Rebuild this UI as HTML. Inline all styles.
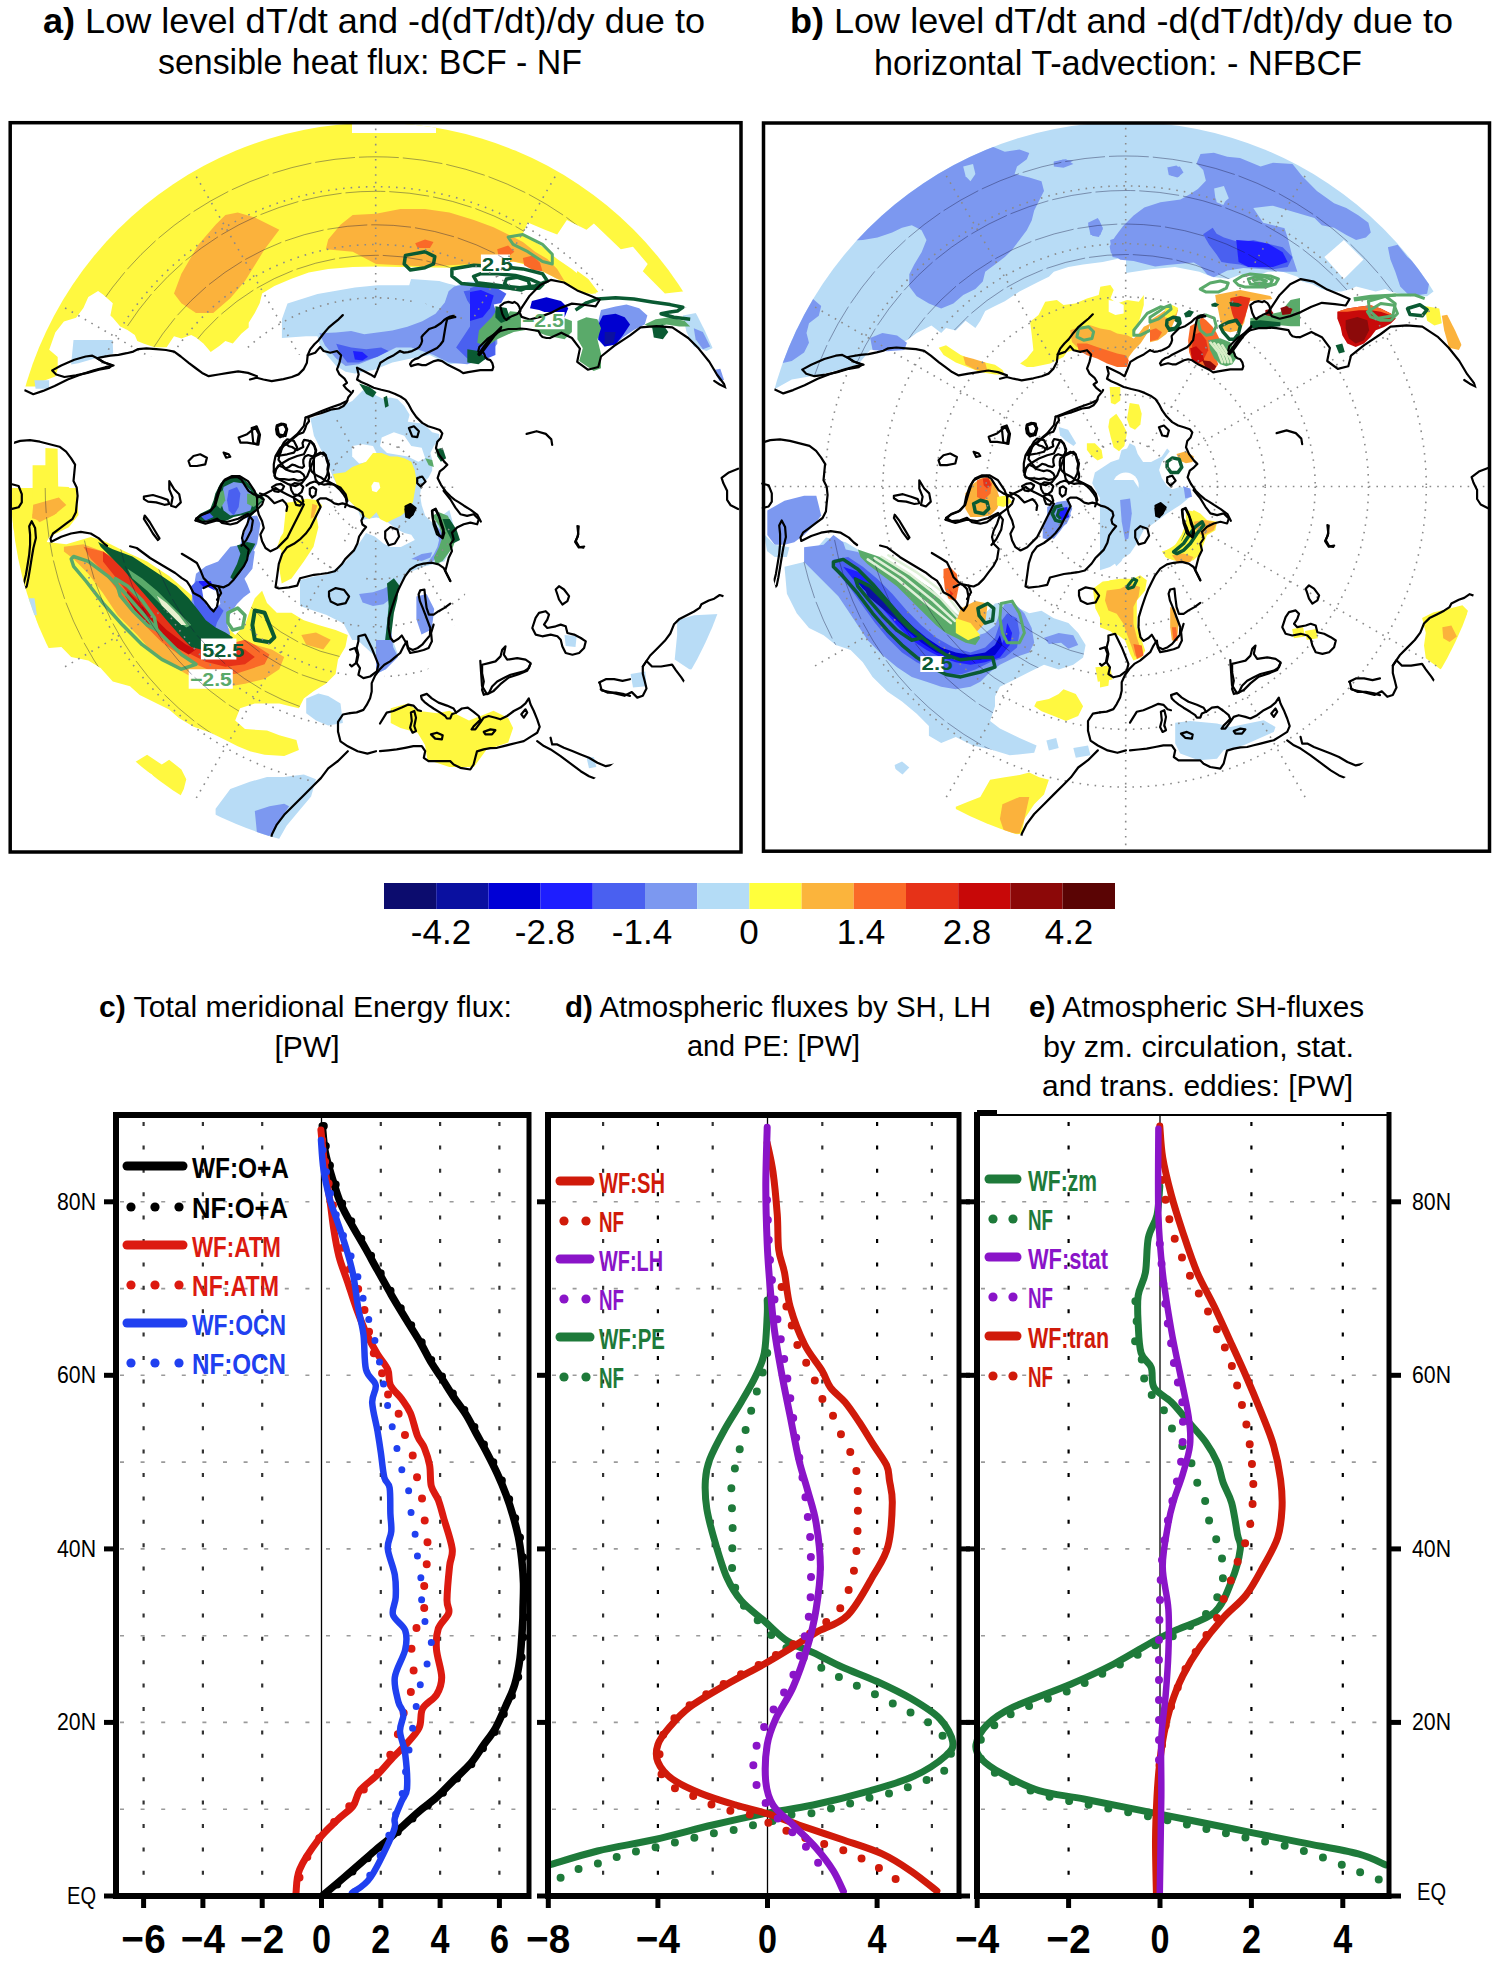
<!DOCTYPE html>
<html><head><meta charset="utf-8">
<style>
html,body{margin:0;padding:0;background:#fff;}
svg{display:block;}
text{font-family:"Liberation Sans",sans-serif;}
</style></head>
<body>
<svg width="1495" height="1966" viewBox="0 0 1495 1966">
<rect width="1495" height="1966" fill="#fff"/>
<!-- ===== MAP TITLES ===== -->
<g font-size="35" fill="#000">
<text x="43" y="33" textLength="662" lengthAdjust="spacingAndGlyphs"><tspan font-weight="bold">a)</tspan> Low level dT/dt and -d(dT/dt)/dy due to</text>
<text x="158" y="74" textLength="424" lengthAdjust="spacingAndGlyphs">sensible heat flux: BCF - NF</text>
<text x="790" y="33" textLength="663" lengthAdjust="spacingAndGlyphs"><tspan font-weight="bold">b)</tspan> Low level dT/dt and -d(dT/dt)/dy due to</text>
<text x="874" y="75" textLength="488" lengthAdjust="spacingAndGlyphs">horizontal T-advection: - NFBCF</text>
</g>
<g id="mapa">
<clipPath id="ca"><circle cx="375.7" cy="487.3" r="364.5280443919749"/></clipPath>
<g clip-path="url(#ca)">
<path d="M686.9,290.9 L664.9,293.4 L642.8,271.3 L647.7,264.0 L633.0,246.8 L620.8,249.3 L593.9,223.6 L586.5,229.7 L566.9,219.9 L557.2,234.6 L544.9,229.7 L527.8,222.4 L522.9,233.4 L527.8,237.1 L542.5,246.8 L557.2,259.1 L571.8,268.9 L586.5,281.1 L596.3,293.4 L584.1,293.4 L569.4,286.0 L552.3,276.2 L532.7,266.4 L513.1,261.5 L478.8,266.4 L449.4,267.7 L400.5,266.9 L376.0,266.4 L376.0,266.4 L352.7,266.9 L328.2,268.9 L308.7,272.6 L291.5,278.7 L274.4,286.0 L262.1,293.4 L259.7,303.2 L254.8,312.9 L248.7,322.7 L248.7,327.6 L241.3,333.8 L232.8,343.5 L225.4,341.1 L219.3,346.0 L210.7,352.1 L203.4,343.5 L196.0,337.4 L191.2,335.0 L181.4,338.6 L174.0,336.2 L169.1,343.5 L166.7,347.2 L154.4,347.2 L143.4,343.5 L137.3,341.1 L134.8,335.0 L127.5,330.1 L120.2,326.4 L112.8,317.8 L110.4,315.4 L112.8,303.2 L103.0,294.6 L98.1,290.9 L88.3,297.0 L83.4,308.0 L76.1,317.8 L63.9,321.5 L55.3,332.5 L49.2,349.7 L57.7,357.0 L57.7,369.2 L55.3,376.6 L41.8,381.5 L36.9,386.4 L24.7,386.4 L22.5,385.7 L26.3,373.3 L30.5,361.0 L35.2,348.9 L40.3,337.0 L45.9,325.2 L51.8,313.6 L58.1,302.3 L64.9,291.2 L72.0,280.3 L79.5,269.7 L87.4,259.4 L95.6,249.3 L104.2,239.6 L113.1,230.1 L122.4,221.0 L132.0,212.2 L141.9,203.8 L152.0,195.7 L162.5,187.9 L173.2,180.6 L184.2,173.6 L195.4,167.1 L206.8,160.9 L218.5,155.1 L230.3,149.8 L242.3,144.8 L254.5,140.3 L266.9,136.3 L279.3,132.6 L291.9,129.4 L304.6,126.7 L317.4,124.4 L330.3,122.6 L343.2,121.2 L356.2,120.3 L369.2,119.8 L382.2,119.8 L395.2,120.3 L408.1,121.2 L421.1,122.6 L433.9,124.4 L446.7,126.7 L459.4,129.4 L472.0,132.6 L484.5,136.2 L496.8,140.3 L509.0,144.8 L521.1,149.7 L532.9,155.1 L544.6,160.9 L556.0,167.0 L567.2,173.6 L578.2,180.6 L588.9,187.9 L599.3,195.7 L609.5,203.7 L619.4,212.2 L629.0,221.0 L638.2,230.1 L647.2,239.5 L655.8,249.3 L664.0,259.3 L671.9,269.7 L679.4,280.3 L686.5,291.2Z" fill="#fff840" />
<path d="M352.0,118.0 L436.0,118.0 L436.0,133.0 L352.0,133.0Z" fill="#fff" />
<path d="M237.7,212.6 L254.8,217.5 L279.3,229.7 L264.6,249.3 L245.0,281.1 L230.3,298.3 L213.2,312.9 L196.0,312.9 L181.4,303.2 L174.0,293.4 L181.4,273.8 L198.5,244.4 L215.6,224.8 L225.4,215.0Z" fill="#fbb23c" />
<path d="M352.7,215.0 L376.0,213.8 L400.5,208.9 L425.0,208.9 L449.4,212.6 L473.9,219.9 L493.5,227.3 L508.2,234.6 L522.9,242.0 L535.1,251.7 L547.4,259.1 L557.2,268.9 L564.5,281.1 L557.2,278.7 L542.5,271.3 L527.8,264.0 L513.1,261.5 L498.4,262.8 L473.9,264.0 L449.4,265.2 L425.0,266.4 L400.5,265.2 L376.0,264.0 L352.7,251.7 L325.8,249.3 L328.2,239.5 L340.5,224.8Z" fill="#fbb23c" />
<path d="M415.2,243.2 L425.0,239.5 L433.5,242.0 L429.9,248.1 L417.6,248.1Z" fill="#fa6a28" />
<path d="M497.2,249.3 L508.2,245.6 L514.3,251.7 L508.2,256.6 L498.4,255.4Z" fill="#fa6a28" />
<path d="M522.9,257.9 L532.7,255.4 L540.0,262.8 L542.5,271.3 L532.7,270.1 L524.1,265.2Z" fill="#fa6a28" />
<path d="M287.5,303.4 L317.5,294.0 L354.9,287.5 L377.4,285.2 L409.2,285.2 L411.1,279.0 L439.2,280.9 L448.6,283.7 L456.1,285.6 L467.3,281.8 L476.7,281.8 L486.0,287.5 L495.4,291.2 L495.4,339.9 L486.0,354.9 L467.3,362.4 L448.6,364.3 L429.8,354.9 L411.1,358.6 L392.4,362.4 L373.7,369.9 L354.9,373.6 L345.6,371.7 L336.2,366.1 L326.8,354.9 L319.3,343.7 L317.5,336.2 L306.2,336.2 L281.9,338.0 L281.9,319.3Z" fill="#b8dcf6" />
<path d="M319.3,333.3 L336.2,332.4 L351.2,330.9 L364.3,334.3 L377.4,332.4 L392.4,330.5 L407.4,326.8 L422.3,321.2 L435.5,313.7 L444.8,302.4 L448.6,291.2 L454.2,286.5 L467.3,283.7 L478.5,282.8 L489.8,287.5 L497.3,293.1 L497.3,343.7 L486.0,358.6 L467.3,364.3 L448.6,362.4 L433.6,354.9 L422.3,351.1 L411.1,347.4 L396.1,347.4 L377.4,356.8 L358.7,364.3 L345.6,366.1 L336.2,358.6 L325.0,345.5Z" fill="#7c98f0" />
<path d="M336.2,343.7 L351.2,347.4 L366.2,349.3 L381.1,347.4 L388.6,351.1 L377.4,356.8 L358.7,362.4 L347.4,362.4 L339.9,353.0Z" fill="#4a60f0" />
<path d="M463.6,291.2 L476.7,289.3 L486.0,293.1 L495.4,298.7 L495.4,354.9 L482.3,360.5 L467.3,358.6 L456.1,347.4 L463.6,336.2 L471.0,324.9 L474.8,311.8 L467.3,300.6Z" fill="#4a60f0" />
<path d="M478.5,293.1 L489.8,296.8 L495.4,304.3 L495.4,328.7 L486.0,330.5 L482.3,321.2 L480.4,306.2Z" fill="#1e1eff" />
<path d="M353.0,351.1 L362.4,352.1 L368.0,356.8 L362.4,360.5 L354.9,359.6Z" fill="#1e1eff" />
<path d="M577.4,270.9 L588.3,279.1 L598.3,291.9 L591.0,294.0 L582.8,285.5 L575.2,277.7Z" fill="#fff840" />
<path d="M682.9,315.5 L697.4,312.8 L706.5,324.6 L715.6,346.4 L706.5,351.0 L693.8,346.4 L686.5,331.9Z" fill="#b8dcf6" />
<path d="M693.8,328.3 L702.9,331.9 L710.2,346.4 L702.9,349.2 L695.6,339.2Z" fill="#7c98f0" />
<path d="M713.8,370.1 L722.9,368.3 L727.5,379.2 L719.3,381.0Z" fill="#7c98f0" />
<path d="M601.0,310.1 L615.6,306.4 L626.5,304.6 L639.2,308.2 L647.4,315.5 L644.7,324.6 L633.8,330.1 L622.8,337.4 L615.6,344.6 L604.6,346.4 L597.4,339.2 L597.4,324.6Z" fill="#7c98f0" />
<path d="M602.8,315.5 L615.6,313.7 L624.7,317.3 L630.1,324.6 L622.8,335.5 L615.6,344.6 L604.6,346.4 L598.3,339.2 L598.3,324.6Z" fill="#0000d0" />
<path d="M604.6,331.9 L615.6,331.9 L613.7,342.8 L604.6,344.6Z" fill="#0a10a0" />
<path d="M480.9,315.5 L497.3,310.1 L517.3,311.9 L524.6,317.3 L542.8,315.5 L557.3,315.5 L571.9,321.0 L571.9,331.9 L564.6,339.2 L546.4,335.5 L530.0,329.2 L513.7,331.9 L497.3,339.2 L486.4,346.4 L477.3,342.8Z" fill="#5aaa6a" />
<path d="M577.4,321.0 L586.4,317.3 L597.4,319.2 L601.0,328.3 L597.4,339.2 L601.0,353.7 L601.0,368.3 L593.7,371.0 L579.2,361.0 L582.8,348.3 L577.4,339.2Z" fill="#5aaa6a" />
<path d="M644.7,324.6 L655.6,319.2 L670.1,317.3 L684.7,321.0 L690.2,326.4 L679.2,326.4 L666.5,324.6 L652.0,328.3Z" fill="#5aaa6a" />
<path d="M470.0,288.2 L480.9,284.6 L497.3,288.2 L506.4,293.7 L499.1,306.4 L491.8,317.3 L484.6,324.6 L477.3,331.9 L470.0,335.5Z" fill="#4a60f0" />
<path d="M470.0,291.9 L480.9,290.0 L493.7,295.5 L490.0,308.2 L482.7,317.3 L470.0,321.0Z" fill="#1e1eff" />
<path d="M531.9,301.0 L546.4,297.3 L561.0,301.0 L568.3,308.2 L564.6,317.3 L553.7,315.5 L539.1,310.1 L530.0,308.2Z" fill="#0000d0" />
<path d="M493.7,304.6 L502.8,302.8 L511.8,308.2 L506.4,317.3 L497.3,315.5Z" fill="#fff" />
<path d="M11.2,488.0 L76.1,488.0 L78.5,514.9 L68.8,527.2 L49.2,537.0 L46.7,541.9 L66.3,544.3 L90.8,537.0 L103.0,540.6 L125.1,551.6 L147.1,561.4 L169.1,576.1 L186.3,590.8 L200.9,603.1 L213.2,615.3 L225.4,625.1 L235.2,634.9 L245.0,625.1 L249.9,610.4 L254.8,598.2 L262.1,590.8 L267.0,603.1 L276.8,612.8 L291.5,612.8 L303.8,620.2 L318.4,625.1 L335.6,630.0 L347.8,634.9 L345.4,647.1 L338.0,659.4 L335.6,674.0 L325.8,683.8 L313.5,691.2 L303.8,698.5 L298.9,708.3 L289.1,705.9 L279.3,703.4 L254.8,703.4 L240.1,708.3 L235.2,720.6 L245.0,729.1 L267.0,730.4 L279.3,735.2 L296.4,740.1 L298.9,749.9 L284.2,756.1 L264.6,754.8 L249.9,751.2 L237.7,746.3 L225.4,740.1 L210.7,732.8 L193.6,726.7 L178.9,718.1 L169.1,709.5 L156.9,703.4 L139.7,694.9 L130.0,686.3 L112.8,681.4 L100.6,667.9 L88.3,660.6 L71.2,656.9 L61.4,647.1 L46.7,648.3 L39.4,632.4 L34.5,615.3 L30.1,603.1 L27.2,604.0 L23.3,591.5 L19.8,578.9 L16.7,566.1 L14.1,553.2 L12.0,540.3 L10.4,527.3 L9.2,514.2 L8.4,501.1 L8.2,488.0Z" fill="#fff840" />
<path d="M32.6,465.2 L45.4,465.2 L45.4,448.1 L57.6,448.7 L58.2,486.5 L68.6,487.1 L74.7,493.8 L76.5,504.8 L74.1,517.0 L47.9,519.5 L46.6,530.5 L10.0,530.5 L10.0,498.7 L32.6,498.7Z" fill="#fff840" />
<path d="M73.5,340.0 L112.6,340.0 L113.2,353.4 L95.5,358.3 L78.4,363.2 L71.1,364.4Z" fill="#b8dcf6" />
<path d="M34.4,380.3 L49.1,380.3 L49.1,388.8 L35.6,388.8Z" fill="#b8dcf6" />
<path d="M33.2,504.8 L58.8,497.5 L62.5,503.6 L56.4,513.4 L40.5,520.7 L32.0,518.3Z" fill="#fbb23c" />
<path d="M134.8,762.2 L147.1,754.8 L161.8,764.6 L169.1,759.7 L181.4,769.5 L186.3,779.3 L183.8,789.1 L178.9,798.9 L161.8,791.5 L152.0,774.4 L137.3,767.1Z" fill="#fff840" />
<path d="M286.6,502.7 L303.8,500.2 L316.0,512.5 L318.4,527.2 L313.5,546.8 L303.8,561.4 L291.5,578.6 L281.7,583.5 L279.3,568.8 L281.7,549.2 L284.2,524.7Z" fill="#fff840" />
<path d="M24.7,598.2 L34.5,598.2 L36.9,615.3 L29.6,615.3Z" fill="#b8dcf6" />
<path d="M306.2,590.8 L318.4,581.0 L335.6,568.8 L352.7,556.5 L376.0,544.3 L376.0,656.9 L362.5,644.7 L352.7,634.9 L347.8,625.1 L333.1,615.3 L318.4,603.1Z" fill="#b8dcf6" />
<path d="M338.0,595.7 L357.6,593.3 L376.0,595.7 L376.0,610.4 L357.6,608.0 L342.9,605.5Z" fill="#7c98f0" />
<path d="M306.2,698.5 L318.4,693.6 L328.2,696.1 L340.5,703.4 L342.9,723.0 L328.2,725.5 L316.0,720.6 L306.2,713.2Z" fill="#b8dcf6" />
<path d="M215.6,808.7 L230.3,789.1 L249.9,781.8 L267.0,776.9 L284.2,776.9 L303.8,774.4 L316.0,779.3 L311.1,796.4 L298.9,811.1 L286.6,825.8 L276.8,843.0 L254.8,840.5 L230.3,830.7 L215.6,818.5Z" fill="#b8dcf6" />
<path d="M254.8,811.1 L269.5,806.2 L284.2,803.8 L289.1,806.2 L279.3,820.9 L271.9,833.2 L264.6,840.5 L257.2,835.6Z" fill="#7c98f0" />
<path d="M63.9,546.8 L83.4,544.3 L103.0,551.6 L117.7,561.4 L137.3,581.0 L156.9,598.2 L176.5,615.3 L193.6,630.0 L205.8,644.7 L230.3,649.6 L254.8,644.7 L271.9,649.6 L284.2,656.9 L279.3,669.2 L264.6,678.9 L245.0,683.8 L230.3,686.3 L218.1,683.8 L200.9,681.4 L186.3,674.0 L169.1,664.3 L152.0,652.0 L137.3,634.9 L117.7,615.3 L103.0,593.3 L88.3,573.7 L73.6,559.0 L63.9,551.6Z" fill="#fbb23c" />
<path d="M83.4,546.8 L103.0,551.6 L122.6,563.9 L142.2,583.5 L161.8,603.1 L181.4,625.1 L200.9,639.8 L225.4,644.7 L245.0,639.8 L254.8,644.7 L269.5,654.5 L264.6,664.3 L249.9,669.2 L235.2,674.0 L218.1,674.0 L196.0,664.3 L178.9,654.5 L161.8,642.2 L147.1,627.5 L132.4,610.4 L117.7,590.8 L103.0,571.2 L90.8,559.0Z" fill="#fa6a28" />
<path d="M103.0,551.6 L122.6,566.3 L147.1,590.8 L171.6,617.7 L191.2,634.9 L210.7,642.2 L230.3,644.7 L245.0,649.6 L254.8,656.9 L245.0,664.3 L225.4,666.7 L205.8,661.8 L186.3,652.0 L166.7,634.9 L147.1,612.8 L130.0,595.7 L112.8,573.7 L103.0,561.4Z" fill="#e63218" />
<path d="M127.5,590.8 L147.1,610.4 L166.7,630.0 L186.3,644.7 L196.0,649.6 L188.7,654.5 L171.6,644.7 L152.0,627.5 L134.8,610.4 L125.1,595.7Z" fill="#c80a0a" />
<path d="M301.3,634.9 L316.0,632.4 L330.7,639.8 L323.3,649.6 L306.2,644.7Z" fill="#fbb23c" />
<path d="M32.0,514.9 L46.7,502.7 L59.0,497.8 L66.3,505.1 L54.1,514.9 L39.4,522.3Z" fill="#fbb23c" />
<path d="M196.0,573.7 L205.8,566.3 L218.1,561.4 L230.3,546.8 L245.0,544.3 L254.8,551.6 L252.4,568.8 L242.6,581.0 L235.2,595.7 L227.9,610.4 L223.0,625.1 L230.3,637.3 L220.5,644.7 L205.8,634.9 L196.0,620.2 L191.2,603.1Z" fill="#7c98f0" />
<path d="M198.5,581.0 L210.7,581.0 L215.6,593.3 L205.8,603.1 L198.5,595.7Z" fill="#1e1eff" />
<path d="M205.8,615.3 L218.1,612.8 L225.4,625.1 L218.1,634.9 L208.3,630.0Z" fill="#1e1eff" />
<path d="M198.5,590.8 L205.8,585.9 L215.6,590.8 L223.0,598.2 L220.5,608.0 L210.7,610.4 L203.4,603.1Z" fill="#fff" />
<path d="M195.2,518.7 L200.2,513.7 L210.3,508.7 L213.6,500.3 L215.3,493.6 L220.3,483.6 L227.0,478.6 L233.7,476.1 L240.4,476.9 L247.1,481.9 L252.1,488.6 L257.1,493.6 L263.8,497.0 L262.1,502.0 L257.1,507.0 L253.7,513.7 L250.4,517.1 L247.1,515.4 L240.4,515.4 L233.7,517.1 L227.0,520.4 L220.3,522.1 L213.6,520.4 L206.9,520.4 L200.2,522.1 L195.2,520.4Z" fill="#0a5a32" />
<path d="M223.6,487.0 L233.7,481.9 L243.7,483.6 L250.4,490.3 L253.7,500.3 L250.4,510.4 L240.4,513.7 L230.3,515.4 L223.6,510.4 L220.3,500.3Z" fill="#7c98f0" />
<path d="M228.7,490.3 L237.0,487.0 L240.4,493.6 L238.7,507.0 L233.7,515.4 L228.7,510.4 L227.0,500.3Z" fill="#4a60f0" />
<path d="M217.0,493.6 L223.6,490.3 L225.3,500.3 L220.3,508.7 L215.3,503.7Z" fill="#5aaa6a" />
<path d="M247.1,493.6 L257.1,495.3 L262.1,500.3 L253.7,507.0 L247.1,503.7Z" fill="#5aaa6a" />
<path d="M200.2,515.4 L208.6,512.0 L213.6,517.1 L205.3,520.4Z" fill="#4a60f0" />
<path d="M247.1,517.1 L257.1,515.4 L260.4,523.7 L258.8,533.8 L257.1,543.8 L253.7,550.5 L250.4,560.5 L247.1,570.6 L243.7,577.3 L247.1,583.9 L250.4,592.3 L243.7,597.3 L237.0,604.0 L230.3,614.0 L227.0,624.1 L230.3,634.1 L223.6,640.8 L217.0,637.5 L208.6,630.8 L203.6,617.4 L200.2,604.0 L206.9,607.4 L217.0,602.3 L223.6,592.3 L230.3,585.6 L235.4,578.9 L240.4,570.6 L243.7,560.5 L245.4,550.5 L240.4,543.8 L243.7,533.8 L247.1,527.1Z" fill="#7c98f0" />
<path d="M196.9,580.6 L203.6,587.3 L208.6,597.3 L217.0,604.0 L223.6,610.7 L217.0,622.4 L213.6,634.1 L203.6,630.8 L196.9,615.7 L193.5,600.7 L190.2,587.3Z" fill="#4a60f0" />
<path d="M201.9,589.0 L210.3,589.0 L218.6,594.0 L220.3,604.0 L213.6,609.0 L206.9,605.7 L203.6,599.0Z" fill="#fff" />
<path d="M237.0,545.5 L247.1,542.1 L255.4,543.8 L247.1,558.9 L240.4,572.2 L233.7,580.6 L230.3,577.3 L237.0,563.9 L240.4,553.8Z" fill="#0a5a32" />
<path d="M297.2,500.3 L307.3,498.7 L317.3,500.3 L322.3,505.4 L320.6,508.7 L315.6,517.1 L310.6,527.1 L305.6,533.8 L300.6,538.8 L293.9,543.8 L287.2,547.2 L282.2,550.5 L277.2,547.2 L280.5,537.1 L287.2,527.1 L293.9,517.1 L297.2,508.7Z" fill="#fff840" />
<path d="M312.3,503.7 L317.3,505.4 L313.9,517.1 L310.6,518.7Z" fill="#fbb23c" />
<path d="M376.0,488.0 L412.7,488.0 L415.2,502.7 L407.8,517.4 L390.7,522.3 L376.0,524.7Z" fill="#fff840" />
<path d="M376.0,546.8 L395.6,539.4 L415.2,532.1 L432.3,527.2 L439.6,517.4 L449.4,510.0 L456.8,537.0 L444.5,561.4 L425.0,566.3 L405.4,573.7 L395.6,590.8 L390.7,610.4 L390.7,634.9 L398.0,654.5 L385.8,669.2 L376.0,674.0Z" fill="#b8dcf6" />
<path d="M376.0,590.8 L390.7,590.8 L398.0,585.9 L395.6,603.1 L390.7,625.1 L393.1,647.1 L398.0,656.9 L385.8,669.2 L376.0,674.0Z" fill="#7c98f0" />
<path d="M415.2,537.0 L437.2,527.2 L449.4,537.0 L444.5,551.6 L432.3,561.4 L422.5,561.4Z" fill="#7c98f0" />
<path d="M390.7,708.3 L407.8,703.4 L417.6,710.8 L437.2,713.2 L449.4,710.8 L469.0,720.6 L481.3,715.7 L493.5,710.8 L508.2,718.1 L513.1,727.9 L508.2,742.6 L486.2,749.9 L473.9,767.1 L449.4,767.1 L427.4,759.7 L425.0,745.0 L417.6,732.8 L400.5,727.9 L390.7,723.0Z" fill="#fff840" />
<path d="M564.5,634.9 L576.7,636.1 L575.5,647.1 L565.7,645.9Z" fill="#b8dcf6" />
<path d="M630.6,674.0 L645.3,671.6 L646.5,686.3 L633.0,687.5Z" fill="#b8dcf6" />
<path d="M677.1,620.2 L694.2,615.3 L718.7,614.1 L711.4,644.7 L701.6,670.4 L689.3,669.2 L674.7,659.4 L677.1,634.9Z" fill="#b8dcf6" />
<path d="M586.5,757.3 L593.9,757.3 L596.3,767.1 L589.0,768.3Z" fill="#b8dcf6" />
<path d="M310.4,418.3 L320.9,414.8 L331.3,409.6 L341.7,406.1 L352.2,400.9 L359.1,393.9 L362.6,390.4 L369.6,390.4 L376.5,395.7 L383.5,399.1 L390.4,397.4 L397.4,399.1 L404.3,406.1 L409.6,414.8 L407.8,421.7 L421.7,423.5 L428.7,428.7 L432.2,432.2 L439.1,433.9 L439.1,439.1 L433.9,446.1 L430.4,453.0 L432.2,460.0 L432.2,470.4 L428.7,477.4 L421.7,484.3 L420.0,494.8 L421.7,505.2 L425.2,515.7 L432.2,522.6 L435.7,529.6 L439.1,540.0 L437.4,547.0 L433.9,553.9 L428.7,560.9 L421.7,564.3 L414.8,567.8 L407.8,571.3 L400.9,578.3 L397.4,585.2 L393.9,593.9 L390.4,606.1 L387.0,623.5 L385.2,640.0 L352.2,640.0 L343.5,623.5 L326.1,614.8 L310.4,609.6 L300.0,606.1 L300.0,580.0 L313.9,576.5 L326.1,574.8 L341.7,566.1 L352.2,553.9 L359.1,543.5 L366.1,533.0 L357.4,508.7 L343.5,494.8 L333.0,477.4 L327.8,463.5 L320.9,449.6 L313.9,435.7Z" fill="#b8dcf6" />
<path d="M352.2,446.1 L362.6,444.3 L373.0,446.1 L376.5,453.0 L369.6,461.7 L359.1,463.5 L352.2,456.5Z" fill="#fff" />
<path d="M381.7,437.4 L393.9,432.2 L404.3,435.7 L411.3,446.1 L421.7,447.8 L425.2,458.3 L418.3,461.7 L407.8,456.5 L397.4,454.8 L387.0,453.0 L380.0,446.1Z" fill="#fff" />
<path d="M352.2,524.3 L366.1,519.1 L376.5,517.4 L383.5,519.1 L390.4,524.3 L397.4,529.6 L404.3,533.0 L411.3,534.8 L414.8,540.0 L407.8,543.5 L400.9,547.0 L390.4,547.0 L383.5,543.5 L374.8,536.5 L366.1,533.0 L359.1,533.0Z" fill="#fff" />
<path d="M333.0,473.9 L345.2,472.2 L352.2,467.0 L366.1,461.7 L373.0,453.0 L381.7,453.0 L390.4,456.5 L397.4,456.5 L404.3,458.3 L411.3,461.7 L414.8,470.4 L416.5,480.9 L414.8,491.3 L413.0,501.7 L409.6,508.7 L400.9,515.7 L393.9,519.1 L387.0,522.6 L380.0,519.1 L376.5,512.2 L373.0,515.7 L369.6,519.1 L362.6,515.7 L357.4,508.7 L350.4,501.7 L343.5,494.8 L336.5,484.3Z" fill="#fff840" />
<path d="M371.3,486.1 L373.9,481.7 L379.1,482.6 L380.3,487.8 L376.5,492.2 L372.2,491.0Z" fill="#fff" />
<path d="M359.1,593.9 L373.0,592.2 L383.5,588.7 L390.4,585.2 L393.9,588.7 L390.4,599.1 L383.5,604.3 L373.0,606.1 L362.6,602.6Z" fill="#7c98f0" />
<path d="M411.3,559.1 L421.7,553.9 L432.2,552.2 L430.4,557.4 L421.7,560.9Z" fill="#7c98f0" />
<path d="M387.0,583.5 L393.9,578.3 L399.1,585.2 L397.4,599.1 L393.9,613.0 L392.2,627.0 L390.4,640.0 L385.2,640.0 L387.0,623.5 L388.7,606.1Z" fill="#0a5a32" />
<path d="M432.2,515.7 L439.1,512.2 L447.8,515.7 L453.0,526.1 L456.5,536.5 L453.0,547.0 L447.8,553.9 L442.6,560.9 L435.7,564.3 L433.9,557.4 L439.1,547.0 L442.6,536.5 L439.1,526.1Z" fill="#5aaa6a" />
<path d="M442.6,519.1 L449.6,519.1 L456.5,529.6 L460.0,540.0 L453.0,543.5 L449.6,536.5 L446.1,529.6Z" fill="#0a5a32" />
<path d="M425.2,458.3 L432.2,460.0 L433.9,467.0 L428.7,465.2Z" fill="#5aaa6a" />
<path d="M435.7,449.6 L442.6,447.8 L446.1,458.3 L440.9,461.7 L437.4,456.5Z" fill="#0a5a32" />
<path d="M359.1,383.5 L369.6,387.0 L376.5,392.2 L373.0,397.4 L366.1,393.9Z" fill="#0a5a32" />
<path d="M383.5,397.4 L387.0,395.7 L388.7,406.1 L385.2,407.8Z" fill="#0a5a32" />
<path d="M416.4,596.4 L426.6,593.9 L434.2,609.1 L431.7,629.4 L421.5,634.5 L416.4,619.3Z" fill="#7c98f0" />
<path d="M98.1,541.9 L112.8,549.2 L132.4,556.5 L147.1,566.3 L161.8,576.1 L176.5,585.9 L188.7,598.2 L198.5,610.4 L205.8,620.2 L215.6,627.5 L225.4,632.4 L232.8,637.3 L230.3,644.7 L220.5,644.7 L210.7,644.7 L200.9,649.6 L191.2,647.1 L181.4,637.3 L166.7,620.2 L152.0,603.1 L137.3,585.9 L122.6,568.8 L107.9,554.1 L100.6,546.8Z" fill="#0a5a32" />
<path d="M127.5,568.8 L142.2,578.6 L156.9,590.8 L169.1,603.1 L181.4,615.3 L191.2,625.1 L186.3,627.5 L176.5,620.2 L161.8,605.5 L147.1,590.8 L132.4,578.6Z" fill="#5aaa6a" />
<path d="M156.9,595.7 L166.7,603.1 L178.9,615.3 L186.3,625.1 L181.4,625.1 L171.6,615.3 L161.8,605.5Z" fill="#e8f0d0" />
<path d="M73.6,556.5 L88.3,561.4 L107.9,576.1 L125.1,593.3 L142.2,612.8 L161.8,634.9 L181.4,654.5 L196.0,664.3 L181.4,669.2 L161.8,659.4 L142.2,644.7 L122.6,625.1 L103.0,603.1 L85.9,581.0 L73.6,566.3 L71.2,559.0Z" fill="none" stroke="#5aaa6a" stroke-width="3.5" stroke-linejoin="round"/>
<path d="M115.3,578.6 L127.5,585.9 L142.2,600.6 L154.4,617.7 L156.9,630.0 L147.1,625.1 L132.4,610.4 L120.2,595.7Z" fill="none" stroke="#5aaa6a" stroke-width="3.5" stroke-linejoin="round"/>
<path d="M254.8,610.4 L264.6,612.8 L269.5,625.1 L274.4,637.3 L269.5,642.2 L254.8,639.8 L252.4,625.1Z" fill="none" stroke="#0a5a32" stroke-width="4" stroke-linejoin="round"/>
<path d="M227.9,612.8 L237.7,608.0 L245.0,615.3 L242.6,627.5 L232.8,630.0 L227.9,622.6Z" fill="none" stroke="#5aaa6a" stroke-width="3.5" stroke-linejoin="round"/>
<path d="M200.9,638.6 L236.4,638.6 L236.4,659.4 L200.9,659.4Z" fill="#fff" />
<path d="M188.7,669.2 L232.8,669.2 L232.8,688.7 L188.7,688.7Z" fill="#fff" />
<path d="M473.6,276.4 L480.9,273.7 L497.3,273.7 L515.5,275.5 L530.0,279.1 L542.8,284.6 L539.1,288.2 L524.6,288.2 L506.4,286.4 L491.8,284.6 L477.3,282.8Z" fill="none" stroke="#0a5a32" stroke-width="3.5" stroke-linejoin="round"/>
<path d="M506.4,279.1 L517.3,277.3 L528.2,280.9 L530.0,286.4 L520.9,290.0 L510.0,288.2 L504.6,283.7Z" fill="none" stroke="#0a5a32" stroke-width="3.5" stroke-linejoin="round"/>
<path d="M575.5,310.1 L586.4,302.8 L597.4,299.1 L615.6,297.7 L633.8,299.1 L652.0,301.9 L670.1,304.6 L682.9,307.3 L677.4,311.0 L670.1,311.9 L661.0,313.7 L673.8,317.3 L690.2,319.2" fill="none" stroke="#0a5a32" stroke-width="3.5" stroke-linejoin="round"/>
<path d="M405.4,255.4 L425.0,251.7 L434.8,256.6 L433.5,264.0 L425.0,267.7 L410.3,270.1 L404.2,264.0Z" fill="none" stroke="#0a5a32" stroke-width="3.5" stroke-linejoin="round"/>
<path d="M451.9,268.9 L473.9,265.2 L498.4,266.4 L522.9,268.9 L542.5,273.8 L547.4,281.1 L535.1,286.0 L513.1,288.5 L486.2,286.0 L461.7,283.6 L451.9,276.2Z" fill="none" stroke="#0a5a32" stroke-width="3.5" stroke-linejoin="round"/>
<path d="M508.2,237.1 L522.9,234.6 L542.5,244.4 L552.3,254.2 L552.3,264.0 L542.5,261.5 L527.8,251.7 L513.1,244.4Z" fill="none" stroke="#5aaa6a" stroke-width="3" stroke-linejoin="round"/>
<path d="M652.0,326.4 L662.9,324.6 L668.3,331.9 L662.9,339.2 L653.8,337.4Z" fill="#0a5a32" />
<path d="M467.3,349.3 L478.5,351.1 L486.0,358.6 L478.5,364.3 L467.3,362.4Z" fill="#0a5a32" />
<path d="M495.4,306.2 L506.6,308.1 L510.4,319.3 L501.0,323.0 L495.4,317.4Z" fill="#0a5a32" />
<path d="M480.9,254.6 L510.0,254.6 L510.0,272.8 L480.9,272.8Z" fill="#fff" />
<path d="M520.9,311.9 L564.6,311.9 L564.6,329.2 L520.9,329.2Z" fill="#fff" />
<clipPath id="oa"><path d="M10.0,385.0 L60.0,375.0 L110.0,365.0 L160.0,355.0 L210.0,350.0 L260.0,350.0 L300.0,355.0 L330.0,330.0 L345.0,300.0 L380.0,310.0 L420.0,300.0 L450.0,320.0 L490.0,320.0 L530.0,300.0 L580.0,290.0 L640.0,300.0 L700.0,310.0 L742.0,330.0 L742.0,122.0 L10.0,122.0Z"/><path d="M10.0,560.0 L60.0,545.0 L120.0,580.0 L180.0,620.0 L230.0,590.0 L260.0,560.0 L300.0,540.0 L330.0,560.0 L360.0,600.0 L360.0,650.0 L340.0,700.0 L330.0,760.0 L300.0,800.0 L250.0,850.0 L10.0,850.0Z"/><path d="M330.0,420.0 L380.0,400.0 L430.0,420.0 L460.0,470.0 L450.0,540.0 L420.0,600.0 L380.0,600.0 L350.0,560.0 L330.0,520.0 L320.0,460.0Z"/><path d="M380.0,560.0 L440.0,540.0 L470.0,580.0 L450.0,640.0 L420.0,680.0 L390.0,690.0 L370.0,640.0Z"/></clipPath>
<g clip-path="url(#oa)"><circle cx="375.7" cy="487.3" r="45.5" fill="none" stroke="#8a8a8a" stroke-width="1.6" stroke-dasharray="1.6 6" />
<circle cx="375.7" cy="487.3" r="91.8" fill="none" stroke="#8a8a8a" stroke-width="1.6" stroke-dasharray="1.6 6" />
<circle cx="375.7" cy="487.3" r="139.5" fill="none" stroke="#8a8a8a" stroke-width="1.6" stroke-dasharray="1.6 6" />
<circle cx="375.7" cy="487.3" r="189.5" fill="none" stroke="#8a8a8a" stroke-width="1.6" stroke-dasharray="1.6 6" />
<circle cx="375.7" cy="487.3" r="242.8" fill="none" stroke="#8a8a8a" stroke-width="1.6" stroke-dasharray="1.6 6" />
<circle cx="375.7" cy="487.3" r="300.6" fill="none" stroke="#8a8a8a" stroke-width="1.6" stroke-dasharray="1.6 6" />
<line x1="375.7" y1="532.8" x2="375.7" y2="851.8" stroke="#8a8a8a" stroke-width="1.6" stroke-dasharray="1.6 6"/>
<line x1="398.5" y1="526.7" x2="558.0" y2="803.0" stroke="#8a8a8a" stroke-width="1.6" stroke-dasharray="1.6 6"/>
<line x1="415.1" y1="510.1" x2="691.4" y2="669.6" stroke="#8a8a8a" stroke-width="1.6" stroke-dasharray="1.6 6"/>
<line x1="421.2" y1="487.3" x2="740.2" y2="487.3" stroke="#8a8a8a" stroke-width="1.6" stroke-dasharray="1.6 6"/>
<line x1="415.1" y1="464.5" x2="691.4" y2="305.0" stroke="#8a8a8a" stroke-width="1.6" stroke-dasharray="1.6 6"/>
<line x1="398.5" y1="447.9" x2="558.0" y2="171.6" stroke="#8a8a8a" stroke-width="1.6" stroke-dasharray="1.6 6"/>
<line x1="375.7" y1="441.8" x2="375.7" y2="122.8" stroke="#8a8a8a" stroke-width="1.6" stroke-dasharray="1.6 6"/>
<line x1="352.9" y1="447.9" x2="193.4" y2="171.6" stroke="#8a8a8a" stroke-width="1.6" stroke-dasharray="1.6 6"/>
<line x1="336.3" y1="464.5" x2="60.0" y2="305.0" stroke="#8a8a8a" stroke-width="1.6" stroke-dasharray="1.6 6"/>
<line x1="330.2" y1="487.3" x2="11.2" y2="487.3" stroke="#8a8a8a" stroke-width="1.6" stroke-dasharray="1.6 6"/>
<line x1="336.3" y1="510.1" x2="60.0" y2="669.6" stroke="#8a8a8a" stroke-width="1.6" stroke-dasharray="1.6 6"/>
<line x1="352.9" y1="526.7" x2="193.4" y2="803.0" stroke="#8a8a8a" stroke-width="1.6" stroke-dasharray="1.6 6"/></g>
<clipPath id="cla"><path d="M686.9,290.9 L664.9,293.4 L642.8,271.3 L647.7,264.0 L633.0,246.8 L620.8,249.3 L593.9,223.6 L586.5,229.7 L566.9,219.9 L557.2,234.6 L544.9,229.7 L527.8,222.4 L522.9,233.4 L527.8,237.1 L542.5,246.8 L557.2,259.1 L571.8,268.9 L586.5,281.1 L596.3,293.4 L584.1,293.4 L569.4,286.0 L552.3,276.2 L532.7,266.4 L513.1,261.5 L478.8,266.4 L449.4,267.7 L400.5,266.9 L376.0,266.4 L376.0,266.4 L352.7,266.9 L328.2,268.9 L308.7,272.6 L291.5,278.7 L274.4,286.0 L262.1,293.4 L259.7,303.2 L254.8,312.9 L248.7,322.7 L248.7,327.6 L241.3,333.8 L232.8,343.5 L225.4,341.1 L219.3,346.0 L210.7,352.1 L203.4,343.5 L196.0,337.4 L191.2,335.0 L181.4,338.6 L174.0,336.2 L169.1,343.5 L166.7,347.2 L154.4,347.2 L143.4,343.5 L137.3,341.1 L134.8,335.0 L127.5,330.1 L120.2,326.4 L112.8,317.8 L110.4,315.4 L112.8,303.2 L103.0,294.6 L98.1,290.9 L88.3,297.0 L83.4,308.0 L76.1,317.8 L63.9,321.5 L55.3,332.5 L49.2,349.7 L57.7,357.0 L57.7,369.2 L55.3,376.6 L41.8,381.5 L36.9,386.4 L24.7,386.4 L22.5,385.7 L26.3,373.3 L30.5,361.0 L35.2,348.9 L40.3,337.0 L45.9,325.2 L51.8,313.6 L58.1,302.3 L64.9,291.2 L72.0,280.3 L79.5,269.7 L87.4,259.4 L95.6,249.3 L104.2,239.6 L113.1,230.1 L122.4,221.0 L132.0,212.2 L141.9,203.8 L152.0,195.7 L162.5,187.9 L173.2,180.6 L184.2,173.6 L195.4,167.1 L206.8,160.9 L218.5,155.1 L230.3,149.8 L242.3,144.8 L254.5,140.3 L266.9,136.3 L279.3,132.6 L291.9,129.4 L304.6,126.7 L317.4,124.4 L330.3,122.6 L343.2,121.2 L356.2,120.3 L369.2,119.8 L382.2,119.8 L395.2,120.3 L408.1,121.2 L421.1,122.6 L433.9,124.4 L446.7,126.7 L459.4,129.4 L472.0,132.6 L484.5,136.2 L496.8,140.3 L509.0,144.8 L521.1,149.7 L532.9,155.1 L544.6,160.9 L556.0,167.0 L567.2,173.6 L578.2,180.6 L588.9,187.9 L599.3,195.7 L609.5,203.7 L619.4,212.2 L629.0,221.0 L638.2,230.1 L647.2,239.5 L655.8,249.3 L664.0,259.3 L671.9,269.7 L679.4,280.3 L686.5,291.2Z"/><path d="M11.2,488.0 L76.1,488.0 L78.5,514.9 L68.8,527.2 L49.2,537.0 L46.7,541.9 L66.3,544.3 L90.8,537.0 L103.0,540.6 L125.1,551.6 L147.1,561.4 L169.1,576.1 L186.3,590.8 L200.9,603.1 L213.2,615.3 L225.4,625.1 L235.2,634.9 L245.0,625.1 L249.9,610.4 L254.8,598.2 L262.1,590.8 L267.0,603.1 L276.8,612.8 L291.5,612.8 L303.8,620.2 L318.4,625.1 L335.6,630.0 L347.8,634.9 L345.4,647.1 L338.0,659.4 L335.6,674.0 L325.8,683.8 L313.5,691.2 L303.8,698.5 L298.9,708.3 L289.1,705.9 L279.3,703.4 L254.8,703.4 L240.1,708.3 L235.2,720.6 L245.0,729.1 L267.0,730.4 L279.3,735.2 L296.4,740.1 L298.9,749.9 L284.2,756.1 L264.6,754.8 L249.9,751.2 L237.7,746.3 L225.4,740.1 L210.7,732.8 L193.6,726.7 L178.9,718.1 L169.1,709.5 L156.9,703.4 L139.7,694.9 L130.0,686.3 L112.8,681.4 L100.6,667.9 L88.3,660.6 L71.2,656.9 L61.4,647.1 L46.7,648.3 L39.4,632.4 L34.5,615.3 L30.1,603.1 L27.2,604.0 L23.3,591.5 L19.8,578.9 L16.7,566.1 L14.1,553.2 L12.0,540.3 L10.4,527.3 L9.2,514.2 L8.4,501.1 L8.2,488.0Z"/></clipPath><g clip-path="url(#cla)" fill="none" stroke="#1a1a40" stroke-opacity="0.4" stroke-width="1" stroke-dasharray="40 4"><circle cx="375.7" cy="487.3" r="330.5"/><circle cx="375.7" cy="487.3" r="296"/><circle cx="375.7" cy="487.3" r="262.5"/><circle cx="375.7" cy="487.3" r="232"/><circle cx="375.7" cy="487.3" r="201.5"/><circle cx="375.7" cy="487.3" r="173"/></g>
</g>
<g clip-path="url(#ca)"><path d="M24.3,390.1 L33.3,394.2 L43.1,390.9 L54.6,386.0 L67.7,379.5 L80.8,374.5 L93.9,370.4 L105.4,367.2 L113.6,365.5 L103.8,362.3 L97.2,358.2 L100.5,357.3 L110.3,355.7 L118.5,354.9 L126.7,353.2 L133.3,351.6 L138.2,349.1 L146.4,348.3 L156.2,349.1 L166.0,350.0 L174.2,351.6 L180.8,356.5 L189.0,363.1 L195.5,368.0 L202.1,372.9 L208.7,376.2 L218.5,374.5 L228.3,372.9 L238.2,371.3 L248.0,372.9 L257.0,376.2" fill="none" stroke="#000" stroke-width="2.2" stroke-linejoin="round" stroke-linecap="round"/>
<path d="M52.2,370.4 L61.2,365.5 L74.3,359.8 L85.7,356.5 L92.3,355.7 L97.2,358.2 L103.8,362.3 L112.0,365.5 L108.7,368.0 L98.9,369.6 L87.4,372.9 L75.9,375.4 L64.4,377.0 L56.2,374.5Z" fill="none" stroke="#000" stroke-width="2.2" stroke-linejoin="round" stroke-linecap="round"/>
<path d="M12.0,443.4 L20.2,440.9 L30.0,440.1 L39.9,441.7 L49.7,444.2 L59.5,446.7 L66.1,451.6 L71.0,458.1 L75.1,464.7 L74.3,472.9 L73.5,481.1 L76.7,487.6 L77.6,495.8 L76.7,504.0 L75.9,512.2 L72.6,518.8 L66.1,523.7 L59.5,528.6 L53.0,533.5 L50.5,538.4 L51.3,541.7 L61.2,536.8 L71.0,533.5 L80.8,531.9 L90.7,533.5 L98.9,538.4 L103.8,543.3 L107.1,545.8" fill="none" stroke="#000" stroke-width="2.2" stroke-linejoin="round" stroke-linecap="round"/>
<path d="M12.0,484.3 L18.6,486.0 L21.8,494.2 L21.8,502.4 L18.6,507.3 L12.0,508.9" fill="none" stroke="#000" stroke-width="2.2" stroke-linejoin="round" stroke-linecap="round"/>
<path d="M31.7,521.2 L35.1,527.9 L35.9,537.9 L33.4,548.0 L31.7,558.0 L30.1,568.0 L28.4,578.1 L26.7,586.4 L25.1,588.1 L23.4,584.7 L25.9,574.7 L27.6,564.7 L29.2,554.6 L30.1,544.6 L30.1,534.6 L29.2,526.2Z" fill="none" stroke="#000" stroke-width="2.2" stroke-linejoin="round" stroke-linecap="round"/>
<path d="M143.9,496.6 L152.9,495.0 L161.1,497.5 L167.7,499.9 L169.3,504.0 L164.4,504.8 L156.2,502.4 L148.0,501.6 L143.9,499.1Z" fill="none" stroke="#000" stroke-width="2.2" stroke-linejoin="round" stroke-linecap="round"/>
<path d="M169.3,481.1 L174.2,489.3 L179.2,494.2 L180.8,502.4 L175.9,507.3 L171.0,505.7 L172.6,497.5 L169.3,489.3Z" fill="none" stroke="#000" stroke-width="2.2" stroke-linejoin="round" stroke-linecap="round"/>
<path d="M144.7,515.5 L149.7,522.0 L154.6,530.2 L159.5,538.4 L157.9,540.1 L152.9,533.5 L148.0,525.3 L143.9,518.8Z" fill="none" stroke="#000" stroke-width="2.2" stroke-linejoin="round" stroke-linecap="round"/>
<path d="M195.5,520.4 L200.5,515.5 L208.7,512.2 L215.2,505.7 L218.5,494.2 L221.8,484.3 L225.0,479.4 L231.6,476.2 L239.8,476.2 L248.0,481.1 L254.5,490.9 L257.0,497.5" fill="none" stroke="#000" stroke-width="2.2" stroke-linejoin="round" stroke-linecap="round"/>
<path d="M195.5,520.4 L205.4,523.7 L216.9,520.4 L226.7,522.0 L238.2,518.8 L248.0,513.8 L252.9,520.4 L251.3,530.2 L246.3,540.1 L241.4,545.8" fill="none" stroke="#000" stroke-width="2.2" stroke-linejoin="round" stroke-linecap="round"/>
<path d="M400.0,351.1 L404.0,352.6 L408.0,352.1 L412.0,351.1 L416.1,349.1 L419.1,347.1 L421.1,344.0 L422.1,341.0 L421.6,337.0 L423.1,335.0 L425.1,333.0 L427.1,331.0 L429.1,329.0 L432.1,328.0 L435.1,327.0 L438.1,325.0 L441.1,323.0 L444.1,320.0 L447.2,318.0 L450.2,316.5 L453.2,315.9 L455.2,317.0" fill="none" stroke="#000" stroke-width="2.2" stroke-linejoin="round" stroke-linecap="round"/>
<path d="M455.2,317.0 L447.2,319.0 L446.2,323.0 L445.1,329.0 L444.1,335.0 L443.1,341.0 L440.1,345.0 L437.1,348.1 L433.1,350.1 L429.1,352.1 L425.1,354.1 L421.1,356.1 L418.1,358.1 L415.0,359.1 L412.0,361.1 L410.0,364.1 L411.0,366.1 L414.0,365.1 L418.1,364.1 L422.1,365.1 L426.1,365.1 L430.1,363.1 L434.1,361.1 L438.1,360.1 L442.1,361.1 L445.1,363.1 L448.2,365.1 L452.2,367.1 L456.2,369.1 L460.2,371.1 L463.2,373.1 L468.2,372.1 L474.2,371.1 L480.3,370.1 L486.3,370.1 L492.3,370.1 L493.3,367.1 L492.3,363.1 L490.3,360.1 L487.3,359.1 L485.3,357.1 L484.3,354.1 L482.3,351.1 L479.3,353.1 L478.3,351.1 L479.3,347.1 L481.3,345.0 L483.3,343.0 L485.3,341.0 L487.3,339.0 L490.3,337.0 L493.3,335.0 L496.3,333.0 L500.3,331.0 L504.3,330.0 L508.4,329.0 L512.4,329.0 L516.4,329.0 L520.4,328.5 L526.4,329.0 L532.4,330.0 L538.5,331.0 L540.5,335.0 L542.5,337.0 L546.5,338.0 L550.0,338.0" fill="none" stroke="#000" stroke-width="2.2" stroke-linejoin="round" stroke-linecap="round"/>
<path d="M478.3,354.1 L481.3,350.1 L484.3,346.0 L487.3,342.0 L490.3,338.0 L493.3,335.0 L496.3,332.0 L499.3,329.0 L501.3,327.0 L500.3,330.0 L497.3,333.0 L494.3,336.0 L491.3,340.0 L488.3,344.0 L485.3,348.1 L482.3,352.1 L479.3,355.1Z" fill="none" stroke="#000" stroke-width="2.2" stroke-linejoin="round" stroke-linecap="round"/>
<path d="M500.3,305.9 L504.3,302.9 L508.4,301.9 L512.4,302.9 L514.4,301.9 L517.4,303.9 L519.4,306.9 L520.4,310.9 L517.4,313.9 L512.4,315.9 L508.4,318.0 L506.4,320.0 L504.3,318.0 L502.3,313.9 L501.3,309.9Z" fill="none" stroke="#000" stroke-width="2.2" stroke-linejoin="round" stroke-linecap="round"/>
<path d="M550.0,338.0 L561.4,332.7 L571.9,338.0 L579.9,348.6 L577.2,361.8 L587.8,369.7 L598.3,367.0 L601.0,356.5 L614.2,345.9 L630.1,335.3 L640.6,327.4 L656.5,326.1 L672.3,327.4 L688.2,338.0 L698.7,348.6 L709.3,361.8 L717.2,375.0 L725.2,385.5" fill="none" stroke="#000" stroke-width="2.2" stroke-linejoin="round" stroke-linecap="round"/>
<path d="M519.1,311.6 L529.7,295.7 L540.2,285.1 L550.8,279.9 L564.0,282.5 L577.2,290.4 L590.4,295.7 L599.7,299.7 L595.7,306.3 L585.1,305.0 L571.9,303.6 L561.4,307.6 L550.8,312.9 L540.2,316.9 L529.7,319.5 L521.7,316.9Z" fill="none" stroke="#000" stroke-width="2.2" stroke-linejoin="round" stroke-linecap="round"/>
<path d="M385.2,531.3 L390.4,527.0 L397.4,529.6 L399.1,536.5 L394.8,543.5 L388.7,545.2 L385.2,538.3Z" fill="none" stroke="#000" stroke-width="2.2" stroke-linejoin="round" stroke-linecap="round"/>
<path d="M432.2,510.4 L435.7,508.7 L439.1,515.7 L440.9,524.3 L444.3,533.0 L442.6,538.3 L439.1,534.8 L435.7,526.1 L433.0,519.1Z" fill="none" stroke="#000" stroke-width="2.2" stroke-linejoin="round" stroke-linecap="round"/>
<path d="M196.1,518.7 L201.9,514.5 L210.3,511.2 L214.4,506.2 L216.1,497.8 L219.5,487.8 L223.6,481.1 L230.3,477.7 L237.0,476.9 L241.2,479.4 L245.4,486.1 L248.7,491.1 L253.7,494.4 L258.8,496.1 L263.8,499.5 L262.1,504.5 L257.1,509.5 L250.4,514.5 L247.1,524.5 L243.7,531.2 L242.0,537.9 L243.7,544.6 L248.7,549.6 L247.1,559.7 L243.7,566.4 L238.7,573.0 L233.7,579.7 L228.7,584.7 L223.6,587.3 L218.6,586.4" fill="none" stroke="#000" stroke-width="2.2" stroke-linejoin="round" stroke-linecap="round"/>
<path d="M196.1,518.7 L201.9,522.0 L210.3,521.2 L217.0,518.7 L222.0,522.9 L230.3,524.5 L237.0,522.9 L243.7,517.9 L250.4,514.5" fill="none" stroke="#000" stroke-width="2.2" stroke-linejoin="round" stroke-linecap="round"/>
<path d="M130.0,546.3 L136.7,548.0 L143.4,553.0 L150.1,558.0 L158.4,563.0 L166.8,568.0 L175.2,573.0 L181.8,578.1 L186.9,581.4 L190.2,586.4 L193.5,593.1 L200.2,596.5 L205.3,601.5 L210.3,608.2 L213.6,611.5 L217.0,606.5 L218.6,598.1 L217.0,589.8 L213.6,586.4 L208.6,583.1 L203.6,578.1 L200.2,569.7 L196.9,563.0 L190.2,558.8 L181.8,553.8" fill="none" stroke="#000" stroke-width="2.2" stroke-linejoin="round" stroke-linecap="round"/>
<path d="M203.6,588.1 L210.3,584.7 L218.6,586.4 L221.1,593.1 L217.0,599.8" fill="none" stroke="#000" stroke-width="2.2" stroke-linejoin="round" stroke-linecap="round"/>
<path d="M317.3,500.4 L320.6,507.0 L315.6,517.0 L310.6,527.1 L305.6,533.8 L300.6,538.8 L293.9,543.8 L287.2,547.2 L282.2,553.8 L278.8,563.9 L277.2,575.6 L275.5,587.3 L278.8,588.5 L288.9,587.3 L297.2,585.6 L300.0,578.3 L307.0,576.5 L313.9,574.8 L320.9,574.0 L327.8,573.0 L334.8,571.3 L338.3,567.8 L341.7,564.3 L345.2,559.1 L350.4,553.9 L353.9,550.4 L357.4,543.5 L359.1,536.5 L362.6,531.3 L366.1,527.0 L362.4,524.5 L361.4,520.5 L363.4,516.4 L362.4,512.4 L358.4,509.4 L354.4,507.4 L350.4,506.4 L346.4,504.4 L342.4,503.4 L338.4,504.4 L334.3,503.4 L330.3,500.4 L326.3,498.4 L320.3,498.4Z" fill="none" stroke="#000" stroke-width="2.2" stroke-linejoin="round" stroke-linecap="round"/>
<path d="M329.0,591.4 L335.7,588.1 L344.0,589.8 L349.1,596.5 L345.7,603.1 L337.4,604.8 L330.7,601.5 L329.0,596.5Z" fill="none" stroke="#000" stroke-width="2.2" stroke-linejoin="round" stroke-linecap="round"/>
<path d="M257.1,497.8 L263.8,494.4 L270.5,491.1 L275.5,487.8 L280.5,491.1 L287.2,494.4 L293.9,497.8 L298.9,501.1 L303.9,504.5 L300.6,511.2 L297.2,517.9 L293.9,524.5 L290.5,531.2 L287.2,537.9 L282.2,542.9 L277.2,548.0 L270.5,551.3 L265.5,548.0 L262.1,541.3 L260.4,534.6 L263.8,527.9 L262.1,521.2 L258.8,514.5 L257.1,507.8Z" fill="none" stroke="#000" stroke-width="2.2" stroke-linejoin="round" stroke-linecap="round"/>
<path d="M273.8,471.0 L280.5,464.3 L288.9,459.3 L297.2,456.0 L303.9,454.3 L307.3,447.6 L310.6,440.9 L313.9,444.3 L315.6,451.0 L313.9,459.3 L310.6,467.7 L307.3,476.1 L302.2,482.7 L295.6,486.1 L288.9,484.4 L282.2,481.1 L275.5,477.7Z" fill="none" stroke="#000" stroke-width="2.2" stroke-linejoin="round" stroke-linecap="round"/>
<path d="M277.2,456.0 L280.5,449.3 L283.8,442.6 L287.2,439.3 L293.9,440.9 L297.2,447.6 L293.9,452.6 L287.2,454.3Z" fill="none" stroke="#000" stroke-width="2.2" stroke-linejoin="round" stroke-linecap="round"/>
<path d="M313.9,456.0 L320.6,452.6 L325.7,456.0 L329.0,464.3 L327.3,474.4 L324.0,481.1 L319.0,484.4 L315.6,479.4 L313.9,471.0Z" fill="none" stroke="#000" stroke-width="2.2" stroke-linejoin="round" stroke-linecap="round"/>
<path d="M327.3,481.1 L334.0,484.4 L340.7,487.8 L345.7,494.4 L347.4,501.1" fill="none" stroke="#000" stroke-width="2.2" stroke-linejoin="round" stroke-linecap="round"/>
<path d="M305.6,417.5 L313.9,414.2 L322.3,410.8 L330.7,407.5 L340.7,404.1 L347.4,400.8" fill="none" stroke="#000" stroke-width="2.2" stroke-linejoin="round" stroke-linecap="round"/>
<path d="M305.6,417.5 L303.9,425.9 L297.2,434.2 L287.2,442.6 L280.5,447.6 L275.5,456.0 L273.8,464.3 L273.8,472.7" fill="none" stroke="#000" stroke-width="2.2" stroke-linejoin="round" stroke-linecap="round"/>
<path d="M188.5,461.0 L193.5,456.0 L200.2,454.3 L206.9,457.7 L205.3,464.3 L196.9,466.0 L190.2,466.0Z" fill="none" stroke="#000" stroke-width="2.2" stroke-linejoin="round" stroke-linecap="round"/>
<path d="M223.6,452.6 L228.7,454.3 L230.3,456.8 L226.2,457.7Z" fill="none" stroke="#000" stroke-width="2.2" stroke-linejoin="round" stroke-linecap="round"/>
<path d="M238.7,437.6 L247.1,434.2 L255.4,427.6 L258.8,434.2 L257.1,444.3 L247.1,442.6 L240.4,442.6Z" fill="none" stroke="#000" stroke-width="2.2" stroke-linejoin="round" stroke-linecap="round"/>
<path d="M277.2,425.9 L283.8,424.2 L287.2,429.2 L285.5,435.9 L278.8,434.2Z" fill="none" stroke="#000" stroke-width="2.2" stroke-linejoin="round" stroke-linecap="round"/>
<path d="M250.0,379.5 L256.7,377.8 L263.4,379.5 L271.7,381.1 L283.4,379.1 L291.8,377.0 L298.5,374.4 L303.5,369.4 L306.9,362.7 L307.7,355.2 L310.2,349.4 L314.4,344.3 L318.6,340.2 L323.6,333.5 L328.6,327.6 L333.6,323.4 L338.6,319.3 L342.8,315.1" fill="none" stroke="#000" stroke-width="2.2" stroke-linejoin="round" stroke-linecap="round"/>
<path d="M307.7,355.2 L315.2,352.7 L320.2,346.9 L323.6,351.0 L330.3,352.7 L337.0,351.0 L341.1,355.2 L339.5,362.7 L337.0,369.4 L339.5,374.4 L344.5,378.6 L347.0,382.8 L343.6,385.3 L346.2,388.7 L350.3,392.0" fill="none" stroke="#000" stroke-width="2.2" stroke-linejoin="round" stroke-linecap="round"/>
<path d="M357.0,367.8 L358.7,374.4 L357.0,379.5 L361.2,382.0 L367.1,384.5 L373.7,387.8 L381.3,389.8 L388.8,391.5 L394.6,393.7 L400.5,396.5 L405.5,399.9 L408.9,404.9 L412.2,411.2 L416.4,417.1 L422.2,422.9 L428.1,426.3 L433.9,428.0 L439.8,430.0 L442.3,433.3 L440.6,438.3 L437.3,441.7 L436.0,448.0 L439.0,454.7 L444.0,461.4 L447.3,464.7 L444.0,468.1 L439.8,471.4 L437.6,478.1 L441.0,484.8 L445.7,491.5 L450.7,496.5 L454.8,499.9 L459.0,502.4 L464.0,505.7 L470.7,509.9 L477.4,514.9 L480.8,521.6" fill="none" stroke="#000" stroke-width="2.2" stroke-linejoin="round" stroke-linecap="round"/>
<path d="M357.0,367.8 L363.7,371.1 L370.4,374.4 L374.6,377.0 L377.1,371.1 L380.4,362.7 L387.1,358.6 L393.8,355.2 L400.0,351.0" fill="none" stroke="#000" stroke-width="2.2" stroke-linejoin="round" stroke-linecap="round"/>
<path d="M408.9,428.0 L413.9,426.3 L418.9,431.3 L417.2,437.2 L412.2,436.3Z" fill="none" stroke="#000" stroke-width="2.2" stroke-linejoin="round" stroke-linecap="round"/>
<path d="M417.2,478.1 L422.2,476.5 L425.6,481.5 L420.6,486.5 L417.2,483.1Z" fill="none" stroke="#000" stroke-width="2.2" stroke-linejoin="round" stroke-linecap="round"/>
<path d="M405.5,506.6 L410.5,504.0 L415.6,508.2 L412.2,514.9 L407.2,516.6Z" fill="none" stroke="#000" stroke-width="2.2" stroke-linejoin="round" stroke-linecap="round"/>
<path d="M251.7,428.0 L256.7,426.3 L260.0,434.6 L258.4,444.7 L253.3,443.0Z" fill="none" stroke="#000" stroke-width="2.2" stroke-linejoin="round" stroke-linecap="round"/>
<path d="M276.8,426.3 L283.4,423.8 L286.8,429.6 L283.4,436.3 L278.4,434.6Z" fill="none" stroke="#000" stroke-width="2.2" stroke-linejoin="round" stroke-linecap="round"/>
<path d="M450.3,581.1 L447.0,574.4 L443.6,567.8 L438.6,564.4 L431.9,562.7 L423.6,563.6 L416.9,565.2 L410.2,569.4 L405.2,576.1 L401.8,582.8 L398.5,589.5 L395.2,597.9 L391.8,607.9 L388.8,617.9 L388.5,628.0 L390.5,638.0 L393.5,641.7 L398.5,638.8 L401.8,635.5 L405.2,641.3 L408.5,648.0 L412.7,650.0 L417.7,648.0 L422.2,644.7 L425.6,640.5 L429.9,635.5 L430.3,628.0 L427.8,621.3 L425.3,614.6 L422.7,607.9 L419.9,601.2 L418.6,594.5 L420.2,590.3 L424.4,589.5 L425.3,597.9 L426.6,607.9 L428.9,614.6 L433.6,614.6 L438.6,611.2 L444.5,607.9 L450.3,603.7" fill="none" stroke="#000" stroke-width="2.2" stroke-linejoin="round" stroke-linecap="round"/>
<path d="M433.6,624.6 L431.1,633.0 L431.9,641.3 L428.6,648.0 L423.6,650.0 L416.9,651.7 L410.2,653.0 L407.7,648.0 L406.9,641.3 L403.5,646.4 L400.2,653.0 L395.2,657.2 L390.1,661.4 L384.3,664.7 L379.3,669.8 L375.1,675.6 L371.7,683.1 L371.7,691.5 L370.1,698.2 L366.7,704.9 L363.4,709.9 L356.7,712.4 L350.0,713.2" fill="none" stroke="#000" stroke-width="2.2" stroke-linejoin="round" stroke-linecap="round"/>
<path d="M358.4,636.3 L365.1,634.6 L368.4,641.3 L371.7,648.0 L375.1,656.4 L378.4,664.7 L376.8,671.4 L370.1,676.5 L363.4,678.1 L358.4,674.8 L360.0,668.1 L356.7,663.1 L358.4,654.7 L356.7,648.0 L358.4,641.3Z" fill="none" stroke="#000" stroke-width="2.2" stroke-linejoin="round" stroke-linecap="round"/>
<path d="M350.0,649.7 L355.0,648.0 L357.5,654.7 L355.9,663.1 L351.7,666.4 L350.0,664.7" fill="none" stroke="#000" stroke-width="2.2" stroke-linejoin="round" stroke-linecap="round"/>
<path d="M482.1,664.7 L488.8,663.1 L495.5,661.4 L500.5,656.4 L502.2,649.7 L505.5,646.4 L503.8,654.7 L507.2,659.7 L517.2,658.1 L525.6,659.7 L530.6,663.1 L528.9,668.1 L523.9,671.4 L517.2,673.1 L510.5,674.8 L503.8,678.1 L497.2,681.5 L492.1,686.5 L488.8,693.2 L483.8,694.8 L482.1,689.8 L483.8,681.5 L482.1,673.1Z" fill="none" stroke="#000" stroke-width="2.2" stroke-linejoin="round" stroke-linecap="round"/>
<path d="M532.3,628.0 L535.6,617.9 L539.0,612.9 L545.7,611.2 L549.0,614.6 L547.3,619.6 L544.0,624.6 L547.3,628.0 L555.7,626.3 L560.7,624.6 L565.7,626.3 L567.4,633.0 L574.1,634.6 L580.8,638.0 L585.8,641.3 L584.1,648.0 L579.1,653.0 L572.4,654.7 L565.7,653.0 L562.4,646.4 L560.7,639.7 L557.4,636.3 L550.7,634.6 L542.3,636.3 L535.6,634.6Z" fill="none" stroke="#000" stroke-width="2.2" stroke-linejoin="round" stroke-linecap="round"/>
<path d="M555.7,589.5 L559.0,586.2 L564.0,589.5 L569.1,596.2 L567.4,601.2 L562.4,604.5 L559.0,599.5 L557.4,594.5Z" fill="none" stroke="#000" stroke-width="2.2" stroke-linejoin="round" stroke-linecap="round"/>
<path d="M577.4,526.0 L578.3,534.3 L575.8,541.0 L579.1,546.9 L583.3,547.7" fill="none" stroke="#000" stroke-width="2.2" stroke-linejoin="round" stroke-linecap="round"/>
<path d="M431.9,510.9 L435.3,509.2 L440.3,519.3 L443.6,529.3 L442.0,537.7 L437.0,534.3 L433.6,524.3Z" fill="none" stroke="#000" stroke-width="2.2" stroke-linejoin="round" stroke-linecap="round"/>
<path d="M443.6,490.8 L450.3,499.2 L455.4,507.6 L460.4,514.2 L467.1,515.9 L473.7,514.2 L478.8,519.3 L477.1,524.3 L470.4,522.6 L463.7,524.3 L457.0,527.6 L452.0,532.6 L453.7,539.3 L450.3,544.3 L452.0,551.0 L448.7,557.7 L447.0,564.4 L445.3,571.1 L448.7,577.8 L450.3,581.1" fill="none" stroke="#000" stroke-width="2.2" stroke-linejoin="round" stroke-linecap="round"/>
<path d="M380.0,723.5 L386.7,712.6 L393.4,711.0 L401.7,707.6 L408.4,704.6 L413.4,705.6 L417.6,710.1 L421.0,711.0" fill="none" stroke="#000" stroke-width="2.2" stroke-linejoin="round" stroke-linecap="round"/>
<path d="M421.0,695.9 L426.8,693.9 L431.8,698.4 L438.5,702.6 L446.9,705.6 L453.6,708.5 L456.1,712.6 L451.9,714.3 L450.2,718.5 L446.9,718.5 L445.2,716.0 L440.2,712.6 L433.5,708.5 L428.5,705.1 L424.3,701.8 L421.8,699.3Z" fill="none" stroke="#000" stroke-width="2.2" stroke-linejoin="round" stroke-linecap="round"/>
<path d="M456.1,712.6 L461.9,708.5 L467.8,707.6 L473.6,711.8 L478.7,716.0 L480.3,719.7 L477.0,723.0 L473.6,726.4 L471.6,729.4 L475.3,729.4 L480.3,722.7 L483.7,717.7 L488.7,716.0 L495.4,717.7 L500.4,719.3 L507.1,716.0 L513.8,711.0 L520.5,707.6 L525.5,703.4 L528.8,698.4 L530.5,704.3 L533.8,711.0 L537.2,719.3 L539.7,726.9 L537.2,732.7 L530.5,736.9 L523.8,741.1 L517.1,742.7 L510.4,744.4 L503.7,746.1 L497.1,747.8 L490.4,748.1 L483.7,749.4 L477.0,751.4 L475.3,757.8 L473.6,764.5 L470.3,769.5 L460.3,767.8 L453.6,764.5 L450.2,761.1 L443.5,761.1 L435.2,761.1 L428.5,761.1 L423.8,757.8 L425.2,751.1 L421.8,746.1 L413.4,746.1 L405.1,747.8 L396.7,749.4 L388.4,750.3 L380.0,751.1" fill="none" stroke="#000" stroke-width="2.2" stroke-linejoin="round" stroke-linecap="round"/>
<path d="M480.3,660.8 L481.2,674.2 L482.0,685.9 L487.0,694.2 L493.7,690.9 L500.4,684.2 L508.8,677.5 L518.8,674.2 L527.2,670.8 L530.5,664.1" fill="none" stroke="#000" stroke-width="2.2" stroke-linejoin="round" stroke-linecap="round"/>
<path d="M537.2,741.1 L543.9,746.1 L550.6,749.4 L560.6,756.1 L567.3,761.1 L574.0,766.2 L580.7,771.2 L589.0,776.2 L597.4,779.5" fill="none" stroke="#000" stroke-width="2.2" stroke-linejoin="round" stroke-linecap="round"/>
<path d="M550.6,737.7 L552.2,744.4 L557.3,744.4 L563.9,747.8 L572.3,751.1 L580.7,754.4 L589.0,757.8 L597.4,762.8 L605.8,766.2 L614.1,764.5" fill="none" stroke="#000" stroke-width="2.2" stroke-linejoin="round" stroke-linecap="round"/>
<path d="M599.1,682.5 L605.8,679.2 L614.1,679.2 L622.5,680.9 L630.0,679.2" fill="none" stroke="#000" stroke-width="2.2" stroke-linejoin="round" stroke-linecap="round"/>
<path d="M600.7,689.2 L607.4,692.6 L615.8,692.6 L624.1,694.2 L630.0,695.9" fill="none" stroke="#000" stroke-width="2.2" stroke-linejoin="round" stroke-linecap="round"/>
<path d="M410.9,712.6 L414.3,711.0 L416.0,717.7 L414.3,726.0 L416.0,731.0 L412.6,732.7 L410.1,727.7 L411.8,721.0Z" fill="none" stroke="#000" stroke-width="2.2" stroke-linejoin="round" stroke-linecap="round"/>
<path d="M431.0,734.4 L436.9,732.7 L442.7,735.2 L441.9,739.4 L435.2,738.6Z" fill="none" stroke="#000" stroke-width="2.2" stroke-linejoin="round" stroke-linecap="round"/>
<path d="M483.7,731.9 L490.4,729.4 L495.4,730.2 L492.0,734.4 L485.4,734.4Z" fill="none" stroke="#000" stroke-width="2.2" stroke-linejoin="round" stroke-linecap="round"/>
<path d="M521.3,714.3 L525.5,709.3 L527.2,712.6 L523.8,717.7Z" fill="none" stroke="#000" stroke-width="2.2" stroke-linejoin="round" stroke-linecap="round"/>
<path d="M526.6,433.9 L536.6,431.2 L545.8,433.9 L551.3,439.4 L552.2,444.9" fill="none" stroke="#000" stroke-width="2.2" stroke-linejoin="round" stroke-linecap="round"/>
<path d="M578.7,526.4 L577.8,536.4 L575.1,541.9 L578.7,547.4 L584.2,546.5" fill="none" stroke="#000" stroke-width="2.2" stroke-linejoin="round" stroke-linecap="round"/>
<path d="M599.8,682.9 L601.6,690.3 L609.9,692.1 L624.5,695.8 L631.8,692.1 L637.3,697.6 L642.8,695.8 L646.5,688.4 L644.7,681.1 L642.8,673.8 L642.8,666.5 L646.5,661.0 L652.0,666.5 L661.1,666.5 L672.1,664.6 L675.8,670.1 L681.3,677.4 L684.9,682.9" fill="none" stroke="#000" stroke-width="2.2" stroke-linejoin="round" stroke-linecap="round"/>
<path d="M642.8,666.5 L650.2,655.5 L657.5,648.2 L664.8,640.8 L670.3,633.5 L674.0,624.3 L679.5,618.9 L686.8,615.2 L694.1,611.5 L699.6,607.9 L701.4,604.2 L708.8,600.5 L714.2,598.7 L719.7,595.0 L725.2,596.9" fill="none" stroke="#000" stroke-width="2.2" stroke-linejoin="round" stroke-linecap="round"/>
<path d="M738.1,468.7 L728.9,472.4 L721.6,477.9 L723.4,483.3 L727.1,490.7 L727.1,499.8 L730.7,505.3 L738.1,509.0" fill="none" stroke="#000" stroke-width="2.2" stroke-linejoin="round" stroke-linecap="round"/>
<path d="M714.2,380.8 L719.7,384.5 L727.1,388.1" fill="none" stroke="#000" stroke-width="2.2" stroke-linejoin="round" stroke-linecap="round"/>
<path d="M353.1,390.8 L352.3,392.4 L348.3,397.2 L346.7,402.0 L343.5,406.0 L338.7,408.5 L332.2,409.3 L327.4,410.9 L321.0,413.3 L314.6,414.9 L308.2,417.3 L309.0,421.3 L306.5,424.5 L304.9,429.3 L303.3,432.5 L298.5,434.1 L294.5,437.3 L290.5,440.6 L287.3,443.8 L284.1,445.4 L281.7,448.6 L279.3,453.4 L277.7,455.0" fill="none" stroke="#000" stroke-width="2.2" stroke-linejoin="round" stroke-linecap="round"/>
<path d="M282.5,445.4 L285.7,443.8 L288.9,446.2 L292.1,447.0 L294.5,448.6 L296.9,450.2 L300.1,448.6 L303.3,447.0 L302.5,443.0 L304.1,439.8 L308.2,440.6 L311.4,442.2 L314.6,446.2 L316.2,450.2 L315.4,454.2 L313.0,456.6 L308.2,455.0 L304.9,456.6 L303.3,459.8 L303.3,463.0 L304.1,466.2 L302.5,467.8 L298.5,467.0 L295.3,465.4 L292.1,464.6 L288.9,467.0 L285.7,468.6 L283.3,466.2 L280.9,463.0 L278.5,459.8 L279.3,455.8 L280.9,451.8 L281.7,448.6Z" fill="none" stroke="#000" stroke-width="2.2" stroke-linejoin="round" stroke-linecap="round"/>
<path d="M274.4,475.9 L276.1,469.5 L278.5,465.4 L282.5,467.0 L285.7,469.5 L290.5,471.1 L293.7,471.9 L296.9,471.1 L300.1,471.9 L303.3,474.3 L304.9,477.5 L303.3,479.9 L298.5,480.7 L293.7,479.1 L288.9,479.9 L284.1,479.1 L279.3,479.1 L276.1,478.3Z" fill="none" stroke="#000" stroke-width="2.2" stroke-linejoin="round" stroke-linecap="round"/>
<path d="M310.6,459.0 L314.6,456.6 L319.4,454.2 L323.4,452.6 L325.8,455.0 L326.6,459.8 L328.2,464.6 L327.4,469.5 L329.0,474.3 L329.0,478.3 L327.4,481.5 L324.2,479.9 L321.0,477.5 L317.8,475.9 L314.6,474.3 L311.4,471.1 L309.8,466.2 L309.8,462.2Z" fill="none" stroke="#000" stroke-width="2.2" stroke-linejoin="round" stroke-linecap="round"/>
<path d="M306.5,485.5 L309.8,483.1 L314.6,481.5 L319.4,483.1 L324.2,484.7 L329.0,483.9 L333.8,484.7 L337.0,487.1 L340.3,490.3 L343.5,494.3 L345.9,498.3 L346.7,503.2 L345.1,507.2" fill="none" stroke="#000" stroke-width="2.2" stroke-linejoin="round" stroke-linecap="round"/>
<path d="M276.9,425.3 L280.9,423.7 L285.7,424.5 L286.5,429.3 L284.1,435.7 L280.1,437.3 L276.9,434.1 L276.1,429.3Z" fill="none" stroke="#000" stroke-width="2.2" stroke-linejoin="round" stroke-linecap="round"/>
<path d="M260.0,493.5 L264.8,495.1 L268.0,496.7 L271.2,499.9 L274.4,503.2 L278.5,501.6 L282.5,499.9 L285.7,503.2 L287.3,506.4 L286.5,510.8" fill="none" stroke="#000" stroke-width="2.2" stroke-linejoin="round" stroke-linecap="round"/>
<path d="M272.0,487.1 L276.1,484.7 L280.9,483.9 L284.1,486.3 L282.5,489.5 L278.5,491.9 L274.4,491.1Z" fill="none" stroke="#000" stroke-width="2.2" stroke-linejoin="round" stroke-linecap="round"/>
<path d="M290.5,485.5 L294.5,483.1 L300.1,483.9 L303.3,487.1 L301.7,491.9 L297.7,495.1 L293.7,494.3 L291.3,490.3Z" fill="none" stroke="#000" stroke-width="2.2" stroke-linejoin="round" stroke-linecap="round"/>
<path d="M293.7,496.7 L297.7,495.1 L301.7,496.7 L303.3,501.6 L300.1,505.6 L296.1,504.8 L294.5,500.8Z" fill="none" stroke="#000" stroke-width="2.2" stroke-linejoin="round" stroke-linecap="round"/>
<path d="M309.8,488.7 L313.0,487.1 L316.2,489.5 L315.4,495.1 L312.2,497.5 L309.8,494.3Z" fill="none" stroke="#000" stroke-width="2.2" stroke-linejoin="round" stroke-linecap="round"/>
<path d="M350.0,713.2 L342.9,714.5 L338.0,721.8 L338.0,731.6 L340.5,741.4 L347.8,746.3 L357.6,751.2 L367.4,753.6 L376.0,751.2" fill="none" stroke="#000" stroke-width="2.2" stroke-linejoin="round" stroke-linecap="round"/>
<path d="M347.8,751.2 L338.0,761.0 L328.2,768.3 L320.9,778.1 L313.5,785.5 L303.8,795.2 L294.0,805.0 L284.2,814.8 L276.8,824.6 L271.9,834.4 L269.5,844.2 L267.0,852.8" fill="none" stroke="#000" stroke-width="2.2" stroke-linejoin="round" stroke-linecap="round"/>
<path d="M404.3,508.7 L409.6,504.3 L414.8,507.0 L413.9,513.9 L409.6,519.1 L405.2,517.4Z" fill="#000"/></g>
<text x="202.2" y="656.9" font-size="19" font-weight="bold" fill="#0a5a32" textLength="42" lengthAdjust="spacingAndGlyphs">52.5</text>
<text x="189.9" y="686.3" font-size="19" font-weight="bold" fill="#5aaa6a" textLength="42" lengthAdjust="spacingAndGlyphs">−2.5</text>
<text x="481.8" y="270.9" font-size="19" font-weight="bold" fill="#0a5a32" textLength="31" lengthAdjust="spacingAndGlyphs">2.5</text>
<text x="521.9" y="327.3" font-size="19" font-weight="bold" fill="#5aaa6a" textLength="42" lengthAdjust="spacingAndGlyphs">−2.5</text>
<rect x="10.2" y="122.7" width="730.8" height="729.3" fill="none" stroke="#000" stroke-width="3.5"/>
</g>
<g id="mapb">
<clipPath id="cb"><circle cx="1125.7" cy="486.5" r="364.5280443919749"/></clipPath>
<g clip-path="url(#cb)">
<path d="M774.4,389.3 L791.8,379.5 L821.2,374.6 L857.9,364.8 L870.2,350.1 L887.3,347.7 L906.9,340.3 L916.7,333.0 L931.4,325.6 L941.2,333.0 L946.0,328.1 L955.8,330.5 L965.6,320.7 L975.4,328.1 L980.3,320.7 L985.2,310.9 L995.0,306.0 L1004.8,301.2 L1019.5,291.4 L1029.3,286.5 L1039.1,281.6 L1048.9,276.7 L1053.8,271.8 L1068.4,266.9 L1083.1,264.4 L1102.7,262.0 L1126.0,257.1 L1126.0,273.0 L1150.5,269.3 L1175.0,266.9 L1199.4,271.8 L1211.7,276.7 L1228.8,279.1 L1241.1,274.2 L1253.3,276.7 L1268.0,271.8 L1282.7,271.8 L1297.4,276.7 L1302.3,281.6 L1312.0,284.0 L1321.8,288.9 L1331.6,291.4 L1341.4,291.4 L1351.2,288.9 L1356.1,286.5 L1365.9,288.9 L1375.7,291.4 L1385.5,288.9 L1390.4,291.4 L1400.2,293.8 L1414.9,296.3 L1427.1,296.3 L1433.5,291.4 L1436.1,289.7 L1429.0,279.0 L1421.6,268.5 L1413.8,258.3 L1405.6,248.4 L1397.2,238.7 L1388.3,229.4 L1379.2,220.4 L1369.7,211.7 L1360.0,203.3 L1349.9,195.3 L1339.6,187.7 L1329.1,180.4 L1318.2,173.4 L1307.2,166.9 L1295.9,160.8 L1284.4,155.0 L1272.7,149.7 L1260.9,144.7 L1248.9,140.2 L1236.7,136.1 L1224.4,132.5 L1211.9,129.2 L1199.4,126.4 L1186.8,124.1 L1174.1,122.2 L1161.3,120.7 L1148.5,119.7 L1135.7,119.1 L1122.9,119.0 L1110.0,119.3 L1097.2,120.1 L1084.4,121.3 L1071.7,123.0 L1059.0,125.1 L1046.4,127.6 L1033.9,130.6 L1021.5,134.0 L1009.3,137.9 L997.2,142.2 L985.2,146.9 L973.5,152.0 L961.9,157.5 L950.5,163.4 L939.3,169.8 L928.3,176.5 L917.6,183.5 L907.2,191.0 L897.0,198.8 L887.1,207.0 L877.4,215.5 L868.1,224.3 L859.1,233.5 L850.4,243.0 L842.1,252.7 L834.1,262.8 L826.5,273.1 L819.2,283.7 L812.3,294.5 L805.8,305.6 L799.7,316.9 L793.9,328.4 L788.6,340.1 L783.7,351.9 L779.2,364.0 L775.1,376.1 L771.5,388.5Z" fill="#b8dcf6" />
<path d="M852.7,240.4 L861.6,230.9 L870.7,221.8 L880.1,213.0 L889.9,204.6 L900.0,196.5 L910.3,188.7 L920.9,181.3 L931.7,174.3 L942.8,167.7 L954.1,161.5 L965.6,155.7 L977.3,150.2 L989.2,145.2 L1004.8,151.8 L1019.5,149.4 L1029.3,153.0 L1026.8,159.2 L1017.0,166.5 L1014.6,173.9 L1029.3,177.5 L1041.5,181.2 L1044.0,191.0 L1039.1,200.8 L1034.2,210.6 L1031.7,220.4 L1026.8,230.2 L1019.5,240.0 L1012.1,249.7 L1004.8,257.1 L995.0,264.4 L985.2,271.8 L982.8,281.6 L975.4,288.9 L963.2,295.0 L953.4,303.6 L941.2,308.5 L928.9,303.6 L916.7,296.3 L909.3,286.5 L909.3,274.2 L914.2,264.4 L921.6,252.2 L926.5,240.0 L921.6,230.2 L911.8,225.3 L902.0,227.7 L892.2,232.6 L877.5,237.5 L862.8,240.0Z" fill="#7c98f0" />
<path d="M963.2,166.5 L973.0,164.1 L975.4,173.9 L970.5,181.2 L965.6,176.3Z" fill="#b8dcf6" />
<path d="M779.3,363.8 L784.5,350.0 L790.2,336.4 L796.5,323.0 L803.4,309.9 L810.7,297.1 L821.2,306.0 L818.8,315.8 L809.0,323.2 L806.5,333.0 L809.0,342.8 L804.1,352.6 L791.8,361.1Z" fill="#7c98f0" />
<path d="M870.2,337.9 L882.4,333.0 L897.1,335.4 L906.9,342.8 L904.4,350.1 L887.3,351.3 L872.6,350.1Z" fill="#7c98f0" />
<path d="M1053.8,161.6 L1066.0,159.2 L1073.3,164.1 L1063.5,167.7 L1053.8,166.5Z" fill="#7c98f0" />
<path d="M1088.0,222.8 L1097.8,217.9 L1102.7,227.7 L1100.3,235.1 L1090.5,235.1Z" fill="#7c98f0" />
<path d="M1110.1,240.0 L1126.0,235.1 L1126.0,259.5 L1112.5,257.1Z" fill="#7c98f0" />
<path d="M1109.6,246.4 L1114.9,237.0 L1122.9,226.3 L1133.6,215.6 L1144.3,207.6 L1160.4,202.2 L1180.5,199.6 L1189.8,194.2 L1197.9,188.9 L1205.9,180.8 L1203.2,170.1 L1196.5,163.4 L1200.5,154.1 L1213.9,152.7 L1227.3,156.8 L1240.0,158.1 L1260.6,166.5 L1272.9,162.8 L1292.5,164.1 L1302.3,176.3 L1316.9,191.0 L1334.1,203.2 L1346.3,208.1 L1358.6,215.5 L1368.4,222.8 L1370.8,232.6 L1365.9,237.5 L1356.1,240.0 L1346.3,235.1 L1334.1,227.7 L1321.8,225.3 L1314.5,217.9 L1297.4,213.0 L1282.7,222.8 L1287.6,237.5 L1292.5,257.1 L1297.4,271.8 L1282.7,271.8 L1263.1,269.3 L1243.5,268.1 L1227.3,270.5 L1213.9,277.2 L1207.2,274.5 L1200.5,266.5 L1193.8,262.4 L1180.5,263.8 L1167.1,265.1 L1155.1,266.5 L1144.3,263.8 L1133.6,261.1 L1120.3,259.8 L1110.9,253.1Z" fill="#7c98f0" />
<path d="M1167.1,167.5 L1176.5,165.5 L1181.8,170.1 L1179.1,176.8 L1171.1,175.5Z" fill="#7c98f0" />
<path d="M1088.2,225.0 L1098.9,219.6 L1102.9,229.0 L1098.9,237.0 L1092.2,235.7Z" fill="#7c98f0" />
<path d="M1053.4,162.8 L1062.7,159.4 L1073.4,160.8 L1061.4,166.1Z" fill="#7c98f0" />
<path d="M1215.3,192.9 L1224.6,190.2 L1227.3,196.9 L1223.3,204.9 L1216.6,202.2Z" fill="#b8dcf6" />
<path d="M1214.1,188.5 L1223.9,186.1 L1228.8,198.3 L1221.5,204.5 L1215.4,198.3Z" fill="#b8dcf6" />
<path d="M1253.3,208.1 L1272.9,205.7 L1297.4,213.0 L1307.2,222.8 L1297.4,230.2 L1282.7,227.7 L1263.1,222.8Z" fill="#b8dcf6" />
<path d="M1167.6,169.0 L1179.9,166.5 L1183.5,172.6 L1177.4,177.5 L1168.8,175.1Z" fill="#7c98f0" />
<path d="M1203.1,234.3 L1212.7,227.7 L1216.6,233.8 L1223.9,237.5 L1240.1,242.4 L1253.3,240.0 L1263.1,242.4 L1282.7,247.3 L1292.5,257.1 L1287.6,266.9 L1272.9,269.3 L1248.4,266.9 L1240.1,264.4 L1228.8,263.2 L1221.5,262.0 L1216.6,254.6 L1209.2,244.8Z" fill="#4a60f0" />
<path d="M1236.2,240.0 L1253.3,241.2 L1268.0,243.6 L1282.7,252.2 L1287.6,262.0 L1272.9,266.9 L1248.4,266.9 L1238.6,262.0Z" fill="#1e1eff" />
<path d="M1387.9,247.3 L1397.7,244.8 L1407.5,257.1 L1419.8,266.9 L1429.5,281.6 L1427.1,293.8 L1410.0,296.3 L1400.2,286.5 L1395.3,271.8 L1390.4,259.5Z" fill="#7c98f0" />
<path d="M1324.3,257.1 L1343.9,240.0 L1363.5,259.5 L1343.9,279.1Z" fill="#fff" />
<path d="M784.5,566.8 L804.1,561.9 L826.1,537.4 L845.7,542.3 L857.9,549.6 L882.4,564.3 L906.9,583.9 L931.4,601.1 L955.8,613.3 L970.5,623.1 L985.2,613.3 L995.0,603.5 L1009.7,601.1 L1019.5,608.4 L1029.3,613.3 L1041.5,610.8 L1053.8,618.2 L1068.4,623.1 L1078.2,632.9 L1085.6,645.1 L1083.1,657.4 L1073.3,664.7 L1058.7,669.6 L1044.0,664.7 L1029.3,672.0 L1014.6,679.4 L999.9,686.7 L995.0,696.5 L995.0,706.3 L990.1,721.0 L999.9,728.4 L1019.5,738.1 L1036.6,745.5 L1034.2,752.8 L1009.7,755.3 L990.1,749.2 L973.0,745.5 L955.8,736.9 L941.2,743.0 L928.9,735.7 L928.9,725.9 L916.7,713.7 L902.0,701.4 L887.3,691.6 L872.6,676.9 L862.8,662.3 L850.6,650.0 L835.9,645.1 L823.6,635.3 L809.0,628.0 L796.7,613.3 L786.9,593.7Z" fill="#b8dcf6" />
<path d="M804.1,547.2 L823.6,544.8 L833.4,535.0 L843.2,542.3 L845.7,549.6 L857.9,552.1 L867.7,559.4 L882.4,566.8 L897.1,579.0 L911.8,593.7 L926.5,608.4 L941.2,623.1 L955.8,632.9 L970.5,637.8 L985.2,632.9 L995.0,625.5 L999.9,613.3 L1004.8,603.5 L1014.6,603.5 L1024.4,613.3 L1031.7,628.0 L1034.2,642.7 L1029.3,652.5 L1014.6,657.4 L999.9,664.7 L990.1,672.0 L980.3,681.8 L970.5,686.7 L955.8,689.2 L941.2,686.7 L926.5,681.8 L911.8,676.9 L897.1,667.2 L882.4,654.9 L867.7,640.2 L857.9,625.5 L848.1,610.8 L838.3,596.2 L826.1,583.9 L813.9,571.7 L804.1,561.9Z" fill="#7c98f0" />
<path d="M833.4,559.4 L848.1,557.0 L862.8,566.8 L877.5,579.0 L892.2,593.7 L906.9,610.8 L921.6,625.5 L936.3,637.8 L953.4,647.6 L970.5,652.5 L985.2,647.6 L995.0,637.8 L999.9,623.1 L1007.2,613.3 L1017.0,618.2 L1019.5,632.9 L1017.0,647.6 L1004.8,657.4 L990.1,662.3 L975.4,669.6 L960.7,674.5 L946.0,674.5 L931.4,669.6 L916.7,662.3 L902.0,652.5 L887.3,637.8 L875.1,623.1 L862.8,606.0 L850.6,588.8 L838.3,574.1Z" fill="#4a60f0" />
<path d="M843.2,566.8 L857.9,571.7 L872.6,583.9 L887.3,598.6 L902.0,615.7 L916.7,630.4 L931.4,642.7 L946.0,650.0 L960.7,654.9 L975.4,657.4 L990.1,654.9 L999.9,647.6 L1004.8,637.8 L1007.2,623.1 L1012.1,632.9 L1009.7,645.1 L999.9,657.4 L985.2,662.3 L970.5,664.7 L955.8,662.3 L941.2,657.4 L926.5,650.0 L911.8,640.2 L897.1,625.5 L882.4,608.4 L867.7,591.3 L853.0,579.0Z" fill="#1e1eff" />
<path d="M853.0,576.6 L867.7,583.9 L882.4,596.2 L897.1,610.8 L911.8,625.5 L926.5,637.8 L941.2,647.6 L955.8,652.5 L970.5,654.9 L985.2,652.5 L995.0,645.1 L999.9,635.3 L1002.4,645.1 L995.0,654.9 L980.3,659.8 L965.6,659.8 L950.9,657.4 L936.3,652.5 L921.6,642.7 L906.9,630.4 L892.2,615.7 L877.5,601.1 L862.8,588.8Z" fill="#0000d0" />
<path d="M862.8,583.9 L877.5,593.7 L892.2,606.0 L906.9,620.6 L916.7,630.4 L911.8,632.9 L897.1,620.6 L882.4,608.4 L867.7,596.2Z" fill="#0a10a0" />
<path d="M857.9,549.6 L872.6,554.5 L887.3,559.4 L902.0,569.2 L916.7,579.0 L931.4,588.8 L941.2,598.6 L950.9,608.4 L960.7,618.2 L970.5,628.0 L980.3,637.8 L975.4,645.1 L965.6,642.7 L955.8,637.8 L946.0,632.9 L936.3,625.5 L926.5,615.7 L916.7,606.0 L906.9,596.2 L897.1,586.4 L887.3,579.0 L877.5,571.7 L867.7,564.3 L860.4,557.0Z" fill="#5aaa6a" />
<path d="M867.7,559.4 L897.1,579.0 L926.5,603.5 L950.9,623.1" fill="none" stroke="#dff0d8" stroke-width="2.5" stroke-linejoin="round" stroke-linecap="round" />
<path d="M874.6,558.1 L903.9,577.0 L933.3,600.8 L955.1,621.0" fill="none" stroke="#dff0d8" stroke-width="2.5" stroke-linejoin="round" stroke-linecap="round" />
<path d="M881.4,556.7 L910.8,574.9 L940.2,598.0 L959.2,619.0" fill="none" stroke="#dff0d8" stroke-width="2.5" stroke-linejoin="round" stroke-linecap="round" />
<path d="M888.3,555.3 L917.6,572.9 L947.0,595.3 L963.3,616.9" fill="none" stroke="#dff0d8" stroke-width="2.5" stroke-linejoin="round" stroke-linecap="round" />
<path d="M960.7,608.4 L975.4,601.1 L987.7,603.5 L985.2,623.1 L975.4,632.9 L963.2,632.9 L955.8,623.1Z" fill="#fbb23c" />
<path d="M955.8,618.2 L970.5,623.1 L980.3,635.3 L968.1,640.2 L955.8,632.9Z" fill="#fff840" />
<path d="M943.6,576.6 L953.4,574.1 L958.3,588.8 L955.8,601.1 L948.5,598.6 L944.8,588.8Z" fill="#fa6a28" />
<path d="M947.3,581.5 L953.4,580.2 L955.8,591.3 L950.9,596.2Z" fill="#e63218" />
<path d="M1044.0,637.8 L1058.7,632.9 L1073.3,635.3 L1078.2,645.1 L1068.4,648.8 L1061.1,642.7 L1048.9,643.9Z" fill="#7c98f0" />
<path d="M767.3,510.5 L784.5,500.7 L804.1,495.8 L816.3,495.8 L821.2,515.4 L813.9,525.2 L804.1,535.0 L794.3,542.3 L784.5,544.8 L774.7,544.8 L767.3,535.0Z" fill="#7c98f0" />
<path d="M764.9,535.0 L774.7,544.8 L789.4,547.2 L786.9,557.0 L774.7,557.0 L764.9,549.6Z" fill="#b8dcf6" />
<path d="M1036.6,701.4 L1048.9,699.0 L1058.7,694.1 L1063.5,689.2 L1075.8,694.1 L1083.1,706.3 L1078.2,716.1 L1066.0,721.0 L1053.8,716.1 L1041.5,711.2 L1034.2,706.3Z" fill="#fff840" />
<path d="M955.8,806.7 L968.1,801.8 L980.3,796.9 L990.1,779.8 L1004.8,777.3 L1019.5,774.9 L1029.3,772.4 L1039.1,777.3 L1048.9,779.8 L1044.0,794.4 L1034.2,804.2 L1024.4,818.9 L1021.9,833.6 L1004.8,836.1 L985.2,828.7 L970.5,821.4 L955.8,811.6Z" fill="#fff840" />
<path d="M1002.4,804.2 L1019.5,796.9 L1029.3,796.9 L1024.4,818.9 L1019.5,833.6 L1004.8,833.6 L999.9,818.9Z" fill="#fbb23c" />
<path d="M1092.9,588.8 L1102.7,581.5 L1126.0,579.0 L1126.0,637.8 L1112.5,632.9 L1102.7,623.1 L1095.4,608.4Z" fill="#fff840" />
<path d="M1102.7,588.8 L1126.0,586.4 L1126.0,618.2 L1112.5,613.3 L1105.2,603.5Z" fill="#fbb23c" />
<path d="M1095.4,667.2 L1110.1,665.9 L1112.5,679.4 L1097.8,681.8Z" fill="#fff840" />
<path d="M894.6,765.1 L902.0,761.4 L909.3,767.5 L902.0,774.9 L895.9,771.2Z" fill="#b8dcf6" />
<path d="M1046.4,740.6 L1056.2,738.1 L1058.7,747.9 L1048.9,750.4Z" fill="#b8dcf6" />
<path d="M1073.3,747.9 L1088.0,745.5 L1090.5,755.3 L1075.8,757.7Z" fill="#b8dcf6" />
<path d="M1020.1,363.6 L1026.8,358.6 L1033.4,350.2 L1031.8,335.2 L1030.1,321.8 L1038.5,315.1 L1045.2,301.7 L1056.9,300.1 L1063.5,305.1 L1075.3,303.4 L1087.0,298.4 L1098.7,295.1 L1100.3,286.7 L1110.4,285.0 L1113.7,290.0 L1110.4,298.4 L1117.1,303.4 L1127.1,300.1 L1138.8,301.7 L1143.8,295.1 L1143.8,305.1 L1140.5,316.8 L1137.1,326.8 L1133.8,335.2 L1127.1,343.5 L1117.1,350.2 L1107.0,351.9 L1097.0,350.2 L1087.0,350.2 L1080.3,351.9 L1073.6,350.2 L1066.9,351.9 L1063.5,356.9 L1056.9,360.3 L1050.2,363.6 L1041.8,365.3 L1033.4,367.0 L1026.8,367.0Z" fill="#fff840" />
<path d="M1108.7,300.1 L1117.1,301.7 L1123.7,305.1 L1123.7,313.4 L1115.4,315.1 L1108.7,311.8Z" fill="#fff" />
<path d="M1070.2,330.2 L1080.3,326.8 L1090.3,325.2 L1100.3,328.5 L1110.4,330.2 L1117.1,333.5 L1127.1,335.2 L1133.8,338.5 L1138.8,333.5 L1143.8,326.8 L1150.5,323.5 L1147.2,333.5 L1140.5,343.5 L1133.8,350.2 L1128.8,356.9 L1127.1,363.6 L1123.7,367.0 L1117.1,365.3 L1110.4,363.6 L1103.7,360.3 L1097.0,356.9 L1090.3,353.6 L1083.6,350.2 L1076.9,346.9 L1071.9,341.9Z" fill="#fbb23c" />
<path d="M1076.9,343.5 L1087.0,343.5 L1097.0,346.9 L1107.0,350.2 L1117.1,353.6 L1125.4,355.3 L1128.8,360.3 L1127.1,367.0 L1117.1,367.0 L1107.0,363.6 L1097.0,358.6 L1087.0,355.3 L1078.6,350.2Z" fill="#fa6a28" />
<path d="M1078.6,328.5 L1088.6,326.8 L1093.6,331.8 L1092.0,338.5 L1083.6,340.2 L1076.9,336.9Z" fill="none" stroke="#5aaa6a" stroke-width="3" stroke-linejoin="round"/>
<path d="M1133.8,330.2 L1147.2,313.4 L1160.5,306.8 L1167.2,308.4 L1168.9,315.1 L1160.5,323.5 L1150.5,330.2 L1140.5,335.2 L1133.8,335.2Z" fill="none" stroke="#5aaa6a" stroke-width="3" stroke-linejoin="round"/>
<path d="M1165.6,321.8 L1173.9,318.5 L1178.9,321.8 L1177.3,328.5 L1168.9,330.2 L1165.6,326.8Z" fill="none" stroke="#0a5a32" stroke-width="3.5" stroke-linejoin="round"/>
<path d="M1183.9,313.4 L1189.0,310.1 L1194.0,311.8 L1190.6,316.8 L1185.6,317.6Z" fill="#0a5a32" />
<path d="M1150.0,320.2 L1160.0,314.1 L1168.1,308.1 L1174.1,306.1 L1178.1,310.1 L1176.1,317.2 L1172.1,326.2 L1166.1,334.2 L1158.0,340.2 L1150.0,342.2Z" fill="#fbb23c" />
<path d="M1150.0,330.2 L1156.0,328.2 L1162.0,332.2 L1158.0,339.2 L1150.0,341.2Z" fill="#fa6a28" />
<path d="M1165.0,308.1 L1172.1,305.1 L1178.1,308.1 L1176.1,314.1 L1170.1,318.2 L1165.0,317.2Z" fill="#fff840" />
<path d="M1150.0,317.2 L1158.0,312.1 L1165.0,307.1 L1170.1,305.1 L1171.1,309.1 L1165.0,314.1 L1158.0,319.2 L1150.0,322.2Z" fill="none" stroke="#5aaa6a" stroke-width="3" stroke-linejoin="round"/>
<path d="M1167.1,320.2 L1173.1,317.2 L1179.1,318.2 L1180.1,323.2 L1175.1,328.2 L1169.1,329.2 L1166.6,325.2Z" fill="none" stroke="#0a5a32" stroke-width="3.5" stroke-linejoin="round"/>
<path d="M1190.1,326.2 L1197.2,322.2 L1202.2,317.2 L1206.2,320.2 L1212.2,326.2 L1216.2,332.2 L1220.2,340.2 L1222.2,346.3 L1220.2,352.3 L1216.2,358.3 L1218.2,364.3 L1214.2,370.3 L1206.2,368.3 L1198.2,364.3 L1192.1,360.3 L1189.1,352.3 L1188.1,340.2Z" fill="#fa6a28" />
<path d="M1193.1,335.2 L1200.2,332.2 L1206.2,340.2 L1208.2,350.3 L1204.2,358.3 L1198.2,360.3 L1194.1,355.3 L1192.1,346.3Z" fill="#e63218" />
<path d="M1190.1,348.3 L1196.2,346.3 L1202.2,352.3 L1204.2,360.3 L1198.2,363.3 L1192.1,360.3Z" fill="#c80a0a" />
<path d="M1202.2,360.3 L1210.2,361.3 L1216.2,366.3 L1214.2,370.3 L1206.2,368.8Z" fill="#8c0a0a" />
<path d="M1208.2,340.2 L1220.2,338.2 L1230.3,342.2 L1234.3,350.3 L1236.3,358.3 L1232.3,364.3 L1226.3,366.3 L1220.2,364.3 L1214.2,358.3 L1210.2,350.3Z" fill="#5aaa6a" />
<path d="M1210.2,342.2 L1218.2,352.3 L1222.2,362.3" fill="none" stroke="#d8eec8" stroke-width="2.5" stroke-linejoin="round" stroke-linecap="round" />
<path d="M1214.2,343.2 L1222.2,354.3 L1225.2,362.3" fill="none" stroke="#d8eec8" stroke-width="2.5" stroke-linejoin="round" stroke-linecap="round" />
<path d="M1218.2,344.2 L1226.3,356.3 L1228.3,362.3" fill="none" stroke="#d8eec8" stroke-width="2.5" stroke-linejoin="round" stroke-linecap="round" />
<path d="M1222.2,345.2 L1230.3,358.3 L1231.3,362.3" fill="none" stroke="#d8eec8" stroke-width="2.5" stroke-linejoin="round" stroke-linecap="round" />
<path d="M1215.2,295.1 L1230.3,292.1 L1240.3,290.1 L1250.3,292.1 L1260.4,294.1 L1270.4,296.1 L1272.4,299.1 L1260.4,300.1 L1250.3,301.1 L1248.3,305.1 L1246.3,312.1 L1244.3,322.2 L1240.3,330.2 L1230.3,332.2 L1222.2,330.2 L1220.2,320.2 L1218.2,310.1 L1216.2,302.1Z" fill="#fbb23c" />
<path d="M1230.3,298.1 L1240.3,296.1 L1250.3,298.1 L1248.3,306.1 L1245.3,316.2 L1242.3,324.2 L1236.3,324.2 L1232.3,314.1 L1230.3,306.1Z" fill="#e63218" />
<path d="M1229.3,302.1 L1238.3,303.1 L1242.3,305.1 L1238.3,307.1 L1230.3,306.1Z" fill="#0a5a32" />
<path d="M1211.2,304.1 L1215.2,302.6 L1219.2,304.6 L1216.2,307.1 L1211.7,306.6Z" fill="#0a5a32" />
<path d="M1220.2,326.2 L1228.3,322.2 L1236.3,320.2 L1240.3,326.2 L1238.3,334.2 L1234.3,339.2 L1229.3,339.2 L1223.2,332.2Z" fill="none" stroke="#0a5a32" stroke-width="3.5" stroke-linejoin="round"/>
<path d="M1198.2,316.2 L1206.2,315.1 L1214.2,318.2 L1216.2,326.2 L1212.2,334.2 L1206.2,335.2 L1200.2,330.2 L1198.2,322.2Z" fill="none" stroke="#5aaa6a" stroke-width="3" stroke-linejoin="round"/>
<path d="M1250.3,318.2 L1260.4,316.2 L1270.4,314.1 L1280.4,312.1 L1290.5,300.1 L1300.0,298.1 L1300.0,326.2 L1290.5,326.2 L1280.4,325.2 L1270.4,326.2 L1260.4,326.2 L1250.3,326.2Z" fill="#5aaa6a" />
<path d="M1250.3,321.2 L1260.4,320.2 L1270.4,321.2 L1280.4,322.2 L1280.4,326.2 L1270.4,327.2 L1260.4,328.2 L1250.3,328.2Z" fill="#0a5a32" />
<path d="M1265.4,310.1 L1270.4,309.1 L1273.4,313.1 L1270.4,316.2 L1265.4,315.1Z" fill="#8c0a0a" />
<path d="M1280.4,308.1 L1286.5,306.1 L1292.5,309.1 L1290.5,314.1 L1282.4,315.1Z" fill="#8c0a0a" />
<path d="M1200.2,289.1 L1210.2,283.0 L1220.2,281.0 L1228.3,283.0 L1226.3,288.1 L1218.2,292.1 L1206.2,292.1Z" fill="none" stroke="#5aaa6a" stroke-width="3" stroke-linejoin="round"/>
<path d="M1234.3,281.0 L1242.3,276.0 L1250.3,274.0 L1260.4,275.0 L1270.4,276.0 L1278.4,279.0 L1275.4,284.0 L1265.4,287.1 L1255.3,287.1 L1245.3,287.1 L1238.3,285.0Z" fill="none" stroke="#5aaa6a" stroke-width="3" stroke-linejoin="round"/>
<path d="M1248.3,279.0 L1255.3,277.0 L1265.4,277.0 L1272.4,280.0 L1270.4,284.0 L1260.4,285.0 L1250.3,284.0Z" fill="none" stroke="#5aaa6a" stroke-width="3" stroke-linejoin="round"/>
<path d="M1253.3,280.0 L1260.4,279.0 L1266.4,281.0 L1264.4,283.0 L1256.4,283.0Z" fill="none" stroke="#5aaa6a" stroke-width="3" stroke-linejoin="round"/>
<path d="M1337.3,311.8 L1347.3,308.5 L1359.0,306.8 L1370.7,305.2 L1380.8,308.5 L1390.8,313.5 L1395.8,318.5 L1390.8,323.5 L1384.1,326.9 L1375.8,330.2 L1370.7,336.9 L1364.0,343.6 L1355.7,347.0 L1347.3,343.6 L1342.3,335.3 L1340.6,326.9 L1337.3,318.5Z" fill="#c80a0a" />
<path d="M1337.3,311.8 L1347.3,308.5 L1359.0,306.8 L1370.7,305.2 L1380.8,308.5 L1390.8,313.5 L1395.8,318.5 L1390.8,315.2 L1380.8,311.8 L1370.7,310.2 L1359.0,310.2 L1347.3,311.8Z" fill="#fa6a28" />
<path d="M1345.7,320.2 L1357.4,316.9 L1367.4,320.2 L1369.1,330.2 L1364.0,340.3 L1355.7,343.6 L1349.0,338.6 L1345.7,328.6Z" fill="#8c0a0a" />
<path d="M1335.6,345.3 L1342.3,343.6 L1344.8,352.0 L1339.0,353.6Z" fill="#0a5a32" />
<path d="M1354.0,300.1 L1395.8,295.1" fill="none" stroke="#5aaa6a" stroke-width="3" stroke-linejoin="round"/>
<path d="M1367.4,311.8 L1380.8,303.5 L1394.1,305.2 L1397.5,313.5 L1390.8,320.2 L1380.8,320.2 L1370.7,316.9Z" fill="none" stroke="#5aaa6a" stroke-width="3" stroke-linejoin="round"/>
<path d="M1424.7,306.0 L1439.3,308.5 L1441.8,323.2 L1434.4,325.6 L1427.1,320.7Z" fill="#fff840" />
<path d="M1441.8,315.8 L1454.0,313.4 L1463.8,340.3 L1458.9,350.1 L1449.1,347.7 L1444.2,330.5Z" fill="#fbb23c" />
<path d="M1353.7,298.7 L1370.8,296.3 L1395.3,295.0 L1414.9,295.0 L1424.7,298.7" fill="none" stroke="#5aaa6a" stroke-width="3" stroke-linejoin="round"/>
<path d="M1407.5,308.5 L1419.8,304.8 L1427.1,309.7 L1422.2,315.8 L1410.0,314.6Z" fill="none" stroke="#0a5a32" stroke-width="3.5" stroke-linejoin="round"/>
<path d="M1368.4,301.2 L1385.5,296.3 L1395.3,303.6 L1392.8,315.8 L1378.1,318.3 L1369.6,310.9Z" fill="none" stroke="#5aaa6a" stroke-width="3" stroke-linejoin="round"/>
<path d="M1094.9,472.6 L1102.9,467.3 L1110.9,461.9 L1119.0,459.2 L1121.6,449.9 L1127.0,448.5 L1129.7,443.2 L1135.0,445.9 L1137.7,453.9 L1143.1,461.9 L1151.1,461.9 L1156.4,459.2 L1161.8,456.6 L1167.1,448.5 L1169.8,451.2 L1161.8,461.9 L1159.1,469.9 L1161.8,478.0 L1167.1,486.0 L1175.2,491.3 L1181.8,494.0 L1183.2,498.0 L1175.2,504.7 L1169.8,511.4 L1161.8,515.4 L1153.8,520.8 L1148.4,526.1 L1145.7,520.8 L1140.4,515.4 L1135.0,512.8 L1132.3,518.1 L1129.7,534.2 L1127.0,547.5 L1121.6,560.9 L1116.3,566.3 L1113.6,560.9 L1119.0,547.5 L1120.3,534.2 L1121.6,520.8 L1116.3,507.4 L1108.3,504.7 L1102.9,502.1 L1097.6,494.0 L1094.9,488.7 L1092.2,483.3Z" fill="#b8dcf6" />
<circle cx="1125.7" cy="485.5" r="13" fill="#fff"/>
<path d="M1120.3,502.1 L1127.0,500.7 L1131.0,507.4 L1132.3,520.8 L1131.0,534.2 L1127.0,538.2 L1123.0,534.2 L1121.6,520.8Z" fill="#7c98f0" />
<path d="M1109.6,387.0 L1120.3,387.0 L1120.3,400.4 L1115.0,404.4 L1110.9,403.1Z" fill="#fff840" />
<path d="M1129.7,403.1 L1139.0,404.4 L1141.7,413.8 L1140.4,424.5 L1135.0,429.8 L1129.7,427.1 L1127.0,419.1Z" fill="#fff840" />
<path d="M1109.6,419.1 L1116.3,413.8 L1121.6,421.8 L1127.0,432.5 L1124.3,445.9 L1119.0,451.2 L1113.6,447.2 L1110.9,437.8 L1108.3,427.1Z" fill="#fff840" />
<path d="M1086.9,443.2 L1094.9,443.2 L1101.6,449.9 L1102.9,457.9 L1097.6,460.6 L1090.9,455.2 L1086.9,449.9Z" fill="#fff840" />
<path d="M1058.8,427.1 L1068.1,429.8 L1076.2,443.2 L1073.5,445.9 L1065.5,440.5 L1060.1,435.2Z" fill="#b8dcf6" />
<path d="M1052.1,507.4 L1060.1,503.4 L1068.1,504.7 L1070.8,515.4 L1066.8,523.5 L1060.1,528.8 L1054.8,526.1 L1052.1,518.1Z" fill="#7c98f0" />
<path d="M1042.7,526.1 L1052.1,523.5 L1054.8,531.5 L1048.1,539.5 L1042.7,538.2Z" fill="#7c98f0" />
<path d="M1052.1,510.1 L1058.8,504.7 L1066.8,504.7 L1068.1,512.8 L1064.1,519.4 L1057.4,522.1 L1053.4,519.4Z" fill="none" stroke="#0a5a32" stroke-width="3.5" stroke-linejoin="round"/>
<path d="M1183.2,486.0 L1188.5,488.7 L1191.2,494.0 L1187.2,496.7 L1183.2,494.0Z" fill="#7c98f0" />
<path d="M1176.5,453.9 L1185.9,451.2 L1193.9,456.6 L1192.5,461.9 L1185.9,463.3 L1179.2,460.6Z" fill="#fbb23c" />
<path d="M1167.1,461.9 L1172.5,457.9 L1179.2,459.2 L1181.8,467.3 L1177.8,472.6 L1171.1,472.6 L1167.1,467.3Z" fill="none" stroke="#0a5a32" stroke-width="3.5" stroke-linejoin="round"/>
<path d="M1185.9,510.1 L1193.9,511.4 L1200.6,520.8 L1215.3,523.5 L1212.6,528.8 L1201.9,532.8 L1195.2,540.8 L1188.5,551.5 L1177.8,552.9 L1175.2,544.9 L1181.8,534.2 L1185.9,523.5Z" fill="#fff840" />
<path d="M1195.2,523.5 L1212.6,524.8 L1201.9,531.5 L1193.9,534.2Z" fill="#fbb23c" />
<path d="M1175.2,551.5 L1181.8,543.5 L1188.5,528.8 L1193.9,520.8 L1196.6,523.5 L1191.2,534.2 L1185.9,544.9 L1180.5,552.9Z" fill="none" stroke="#0a5a32" stroke-width="3.5" stroke-linejoin="round"/>
<path d="M1161.8,551.5 L1175.2,547.5 L1185.9,552.9 L1195.2,555.6 L1191.2,560.9 L1177.8,560.9 L1167.1,558.2Z" fill="#fff840" />
<path d="M1175.2,552.9 L1188.5,554.2 L1193.9,559.6 L1183.2,560.9Z" fill="#fbb23c" />
<path d="M965.3,493.6 L973.6,483.6 L980.3,478.6 L987.0,476.9 L993.7,481.9 L997.1,490.3 L1000.4,500.3 L997.1,508.7 L990.4,515.4 L980.3,517.1 L970.3,517.1 L965.3,508.7Z" fill="#fbb23c" />
<path d="M977.0,480.3 L987.0,476.9 L992.0,483.6 L990.4,493.6 L983.7,500.3 L977.0,497.0Z" fill="#fa6a28" />
<path d="M982.8,478.6 L988.7,478.3 L991.2,485.3 L987.0,488.6 L983.7,485.3Z" fill="#e63218" />
<path d="M997.1,497.0 L1007.1,495.3 L1012.1,502.0 L1003.7,507.0 L997.1,505.4Z" fill="#fff840" />
<path d="M973.6,503.7 L980.3,500.3 L987.0,502.0 L988.7,508.7 L983.7,513.7 L975.3,512.0Z" fill="none" stroke="#0a5a32" stroke-width="3.5" stroke-linejoin="round"/>
<path d="M1047.2,507.0 L1057.3,502.0 L1069.0,500.3 L1072.3,508.7 L1067.3,520.4 L1060.6,530.4 L1053.9,538.8 L1045.6,537.1 L1043.9,527.1 L1047.2,517.1Z" fill="#7c98f0" />
<path d="M1057.3,508.7 L1067.3,507.0 L1069.0,517.1 L1062.3,520.4 L1057.3,517.1Z" fill="#1e1eff" />
<path d="M1062.3,505.4 L1055.6,507.0 L1052.2,513.7 L1055.6,520.4 L1062.3,522.1" fill="none" stroke="#0a5a32" stroke-width="3.5" stroke-linejoin="round"/>
<path d="M1063.9,508.7 L1058.9,510.4 L1057.3,515.4 L1060.6,518.7" fill="none" stroke="#0a5a32" stroke-width="3" stroke-linejoin="round"/>
<path d="M943.5,568.9 L950.2,567.2 L956.9,573.9 L958.6,587.3 L953.6,594.0 L946.9,587.3 L943.5,577.3Z" fill="#fa6a28" />
<path d="M938.7,347.7 L946.0,345.2 L960.7,355.0 L973.0,359.9 L985.2,362.4 L995.0,364.8 L1002.4,369.7 L1004.8,374.6 L995.0,374.6 L980.3,372.1 L968.1,367.2 L955.8,362.4 L943.6,355.0Z" fill="#fff840" />
<path d="M963.2,356.2 L973.0,358.7 L985.2,362.4 L987.7,372.1 L975.4,369.7 L965.6,364.8Z" fill="#fbb23c" />
<path d="M1100.0,587.0 L1110.0,580.3 L1120.1,578.7 L1133.4,578.7 L1140.1,575.3 L1146.8,580.3 L1145.2,590.4 L1136.8,600.4 L1136.8,613.8 L1136.8,627.2 L1141.8,640.5 L1145.2,650.6 L1141.8,657.3 L1133.4,660.6 L1130.1,653.9 L1125.1,640.5 L1116.7,633.8 L1108.4,630.5 L1100.0,627.2Z" fill="#fff840" />
<path d="M1106.7,590.4 L1120.1,588.7 L1130.1,583.7 L1140.1,587.0 L1138.5,597.1 L1133.4,607.1 L1133.4,623.8 L1136.8,637.2 L1140.1,647.2 L1135.1,657.3 L1131.8,647.2 L1126.8,633.8 L1123.4,623.8 L1116.7,613.8 L1108.4,610.4 L1105.0,600.4Z" fill="#fbb23c" />
<path d="M1133.4,643.9 L1141.8,645.6 L1143.5,655.6 L1136.8,658.9Z" fill="#fa6a28" />
<path d="M1126.8,587.0 L1133.4,578.7 L1136.8,580.3 L1133.4,587.0 L1128.4,588.7Z" fill="none" stroke="#0a5a32" stroke-width="3" stroke-linejoin="round"/>
<path d="M1100.0,667.3 L1106.7,665.6 L1110.0,672.3 L1108.4,685.7 L1100.0,687.4Z" fill="#fff840" />
<path d="M1163.5,551.9 L1171.9,546.9 L1181.9,540.2 L1187.0,530.2 L1190.3,516.8 L1193.6,510.1 L1200.3,513.4 L1207.0,520.1 L1217.1,521.8 L1215.4,530.2 L1207.0,535.2 L1203.7,543.5 L1200.3,553.6 L1193.6,560.3 L1183.6,561.9 L1173.6,560.3 L1165.2,556.9Z" fill="#fff840" />
<path d="M1193.6,521.8 L1203.7,520.1 L1217.1,522.6 L1213.7,530.2 L1203.7,535.2 L1197.0,533.5Z" fill="#fbb23c" />
<path d="M1171.9,555.3 L1183.6,553.6 L1193.6,556.9 L1190.3,561.9 L1176.9,561.9Z" fill="#fbb23c" />
<path d="M1173.6,551.9 L1183.6,543.5 L1190.3,533.5 L1195.3,526.8 L1202.0,521.8 L1203.7,525.2 L1197.0,533.5 L1190.3,543.5 L1183.6,550.2 L1176.9,553.6Z" fill="none" stroke="#0a5a32" stroke-width="3.5" stroke-linejoin="round"/>
<path d="M1170.2,607.1 L1175.3,608.8 L1178.6,623.8 L1176.9,640.5 L1171.9,640.5 L1170.2,627.2Z" fill="#fbb23c" />
<path d="M1171.9,627.2 L1176.1,627.2 L1177.8,640.5 L1173.6,641.4Z" fill="#fa6a28" />
<path d="M1100.0,480.0 L1133.4,480.0 L1140.1,490.0 L1150.2,495.1 L1160.2,496.7 L1170.2,490.0 L1180.3,486.7 L1190.3,490.0 L1190.3,496.7 L1180.3,505.1 L1166.9,513.4 L1153.5,523.5 L1143.5,530.2 L1136.8,543.5 L1130.1,553.6 L1120.1,560.3 L1110.0,567.0 L1100.0,570.3Z" fill="#b8dcf6" />
<path d="M1120.1,500.1 L1130.1,498.4 L1131.8,513.4 L1128.4,538.5 L1125.1,540.2 L1121.7,521.8Z" fill="#7c98f0" />
<path d="M1183.6,486.7 L1190.3,488.4 L1192.0,496.7 L1185.3,498.4Z" fill="#7c98f0" />
<path d="M1175.2,722.7 L1190.2,721.0 L1217.0,723.5 L1230.3,726.9 L1263.8,720.2 L1275.5,726.9 L1273.8,731.9 L1243.7,745.3 L1223.6,750.3 L1217.0,758.7 L1198.6,760.3 L1180.2,753.6 L1175.2,743.6Z" fill="#b8dcf6" />
<path d="M1422.1,618.1 L1433.1,612.6 L1447.8,608.9 L1462.4,605.2 L1467.9,610.7 L1464.2,627.2 L1460.6,640.0 L1455.1,654.7 L1447.8,665.7 L1440.4,669.3 L1425.8,658.3 L1424.0,645.5 L1425.8,632.7Z" fill="#fff840" />
<path d="M1442.3,627.2 L1451.4,625.4 L1456.9,636.4 L1449.6,641.9 L1443.2,638.2Z" fill="#fbb23c" />
<path d="M1292.1,629.0 L1303.1,627.2 L1304.9,636.4 L1293.9,638.2Z" fill="#fff840" />
<path d="M1304.9,630.9 L1315.9,629.0 L1317.8,638.2 L1306.8,640.0Z" fill="#fff840" />
<circle cx="1125.7" cy="486.5" r="45.5" fill="none" stroke="#8a8a8a" stroke-width="1.6" stroke-dasharray="1.6 6" />
<circle cx="1125.7" cy="486.5" r="91.8" fill="none" stroke="#8a8a8a" stroke-width="1.6" stroke-dasharray="1.6 6" />
<circle cx="1125.7" cy="486.5" r="139.5" fill="none" stroke="#8a8a8a" stroke-width="1.6" stroke-dasharray="1.6 6" />
<circle cx="1125.7" cy="486.5" r="189.5" fill="none" stroke="#8a8a8a" stroke-width="1.6" stroke-dasharray="1.6 6" />
<circle cx="1125.7" cy="486.5" r="242.8" fill="none" stroke="#8a8a8a" stroke-width="1.6" stroke-dasharray="1.6 6" />
<circle cx="1125.7" cy="486.5" r="300.6" fill="none" stroke="#8a8a8a" stroke-width="1.6" stroke-dasharray="1.6 6" />
<line x1="1125.7" y1="532.0" x2="1125.7" y2="851.0" stroke="#8a8a8a" stroke-width="1.6" stroke-dasharray="1.6 6"/>
<line x1="1148.5" y1="525.9" x2="1308.0" y2="802.2" stroke="#8a8a8a" stroke-width="1.6" stroke-dasharray="1.6 6"/>
<line x1="1165.1" y1="509.3" x2="1441.4" y2="668.8" stroke="#8a8a8a" stroke-width="1.6" stroke-dasharray="1.6 6"/>
<line x1="1171.2" y1="486.5" x2="1490.2" y2="486.5" stroke="#8a8a8a" stroke-width="1.6" stroke-dasharray="1.6 6"/>
<line x1="1165.1" y1="463.7" x2="1441.4" y2="304.2" stroke="#8a8a8a" stroke-width="1.6" stroke-dasharray="1.6 6"/>
<line x1="1148.5" y1="447.1" x2="1308.0" y2="170.8" stroke="#8a8a8a" stroke-width="1.6" stroke-dasharray="1.6 6"/>
<line x1="1125.7" y1="441.0" x2="1125.7" y2="122.0" stroke="#8a8a8a" stroke-width="1.6" stroke-dasharray="1.6 6"/>
<line x1="1102.9" y1="447.1" x2="943.4" y2="170.8" stroke="#8a8a8a" stroke-width="1.6" stroke-dasharray="1.6 6"/>
<line x1="1086.3" y1="463.7" x2="810.0" y2="304.2" stroke="#8a8a8a" stroke-width="1.6" stroke-dasharray="1.6 6"/>
<line x1="1080.2" y1="486.5" x2="761.2" y2="486.5" stroke="#8a8a8a" stroke-width="1.6" stroke-dasharray="1.6 6"/>
<line x1="1086.3" y1="509.3" x2="810.0" y2="668.8" stroke="#8a8a8a" stroke-width="1.6" stroke-dasharray="1.6 6"/>
<line x1="1102.9" y1="525.9" x2="943.4" y2="802.2" stroke="#8a8a8a" stroke-width="1.6" stroke-dasharray="1.6 6"/>
<clipPath id="clb"><path d="M774.4,389.3 L791.8,379.5 L821.2,374.6 L857.9,364.8 L870.2,350.1 L887.3,347.7 L906.9,340.3 L916.7,333.0 L931.4,325.6 L941.2,333.0 L946.0,328.1 L955.8,330.5 L965.6,320.7 L975.4,328.1 L980.3,320.7 L985.2,310.9 L995.0,306.0 L1004.8,301.2 L1019.5,291.4 L1029.3,286.5 L1039.1,281.6 L1048.9,276.7 L1053.8,271.8 L1068.4,266.9 L1083.1,264.4 L1102.7,262.0 L1126.0,257.1 L1126.0,273.0 L1150.5,269.3 L1175.0,266.9 L1199.4,271.8 L1211.7,276.7 L1228.8,279.1 L1241.1,274.2 L1253.3,276.7 L1268.0,271.8 L1282.7,271.8 L1297.4,276.7 L1302.3,281.6 L1312.0,284.0 L1321.8,288.9 L1331.6,291.4 L1341.4,291.4 L1351.2,288.9 L1356.1,286.5 L1365.9,288.9 L1375.7,291.4 L1385.5,288.9 L1390.4,291.4 L1400.2,293.8 L1414.9,296.3 L1427.1,296.3 L1433.5,291.4 L1436.1,289.7 L1429.0,279.0 L1421.6,268.5 L1413.8,258.3 L1405.6,248.4 L1397.2,238.7 L1388.3,229.4 L1379.2,220.4 L1369.7,211.7 L1360.0,203.3 L1349.9,195.3 L1339.6,187.7 L1329.1,180.4 L1318.2,173.4 L1307.2,166.9 L1295.9,160.8 L1284.4,155.0 L1272.7,149.7 L1260.9,144.7 L1248.9,140.2 L1236.7,136.1 L1224.4,132.5 L1211.9,129.2 L1199.4,126.4 L1186.8,124.1 L1174.1,122.2 L1161.3,120.7 L1148.5,119.7 L1135.7,119.1 L1122.9,119.0 L1110.0,119.3 L1097.2,120.1 L1084.4,121.3 L1071.7,123.0 L1059.0,125.1 L1046.4,127.6 L1033.9,130.6 L1021.5,134.0 L1009.3,137.9 L997.2,142.2 L985.2,146.9 L973.5,152.0 L961.9,157.5 L950.5,163.4 L939.3,169.8 L928.3,176.5 L917.6,183.5 L907.2,191.0 L897.0,198.8 L887.1,207.0 L877.4,215.5 L868.1,224.3 L859.1,233.5 L850.4,243.0 L842.1,252.7 L834.1,262.8 L826.5,273.1 L819.2,283.7 L812.3,294.5 L805.8,305.6 L799.7,316.9 L793.9,328.4 L788.6,340.1 L783.7,351.9 L779.2,364.0 L775.1,376.1 L771.5,388.5Z"/><path d="M784.5,566.8 L804.1,561.9 L826.1,537.4 L845.7,542.3 L857.9,549.6 L882.4,564.3 L906.9,583.9 L931.4,601.1 L955.8,613.3 L970.5,623.1 L985.2,613.3 L995.0,603.5 L1009.7,601.1 L1019.5,608.4 L1029.3,613.3 L1041.5,610.8 L1053.8,618.2 L1068.4,623.1 L1078.2,632.9 L1085.6,645.1 L1083.1,657.4 L1073.3,664.7 L1058.7,669.6 L1044.0,664.7 L1029.3,672.0 L1014.6,679.4 L999.9,686.7 L995.0,696.5 L995.0,706.3 L990.1,721.0 L999.9,728.4 L1019.5,738.1 L1036.6,745.5 L1034.2,752.8 L1009.7,755.3 L990.1,749.2 L973.0,745.5 L955.8,736.9 L941.2,743.0 L928.9,735.7 L928.9,725.9 L916.7,713.7 L902.0,701.4 L887.3,691.6 L872.6,676.9 L862.8,662.3 L850.6,650.0 L835.9,645.1 L823.6,635.3 L809.0,628.0 L796.7,613.3 L786.9,593.7Z"/></clipPath><g clip-path="url(#clb)" fill="none" stroke="#1a1a40" stroke-opacity="0.4" stroke-width="1" stroke-dasharray="40 4"><circle cx="1125.7" cy="486.5" r="330.5"/><circle cx="1125.7" cy="486.5" r="296"/><circle cx="1125.7" cy="486.5" r="262.5"/><circle cx="1125.7" cy="486.5" r="232"/><circle cx="1125.7" cy="486.5" r="201.5"/><circle cx="1125.7" cy="486.5" r="173"/></g>
</g>
<g clip-path="url(#cb)"><path d="M774.3,389.3 L783.3,393.4 L793.1,390.1 L804.6,385.2 L817.7,378.7 L830.8,373.7 L843.9,369.6 L855.4,366.4 L863.6,364.7 L853.8,361.5 L847.2,357.4 L850.5,356.5 L860.3,354.9 L868.5,354.1 L876.7,352.4 L883.3,350.8 L888.2,348.3 L896.4,347.5 L906.2,348.3 L916.0,349.2 L924.2,350.8 L930.8,355.7 L939.0,362.3 L945.5,367.2 L952.1,372.1 L958.7,375.4 L968.5,373.7 L978.3,372.1 L988.2,370.5 L998.0,372.1 L1007.0,375.4" fill="none" stroke="#000" stroke-width="2.2" stroke-linejoin="round" stroke-linecap="round"/>
<path d="M802.2,369.6 L811.2,364.7 L824.3,359.0 L835.7,355.7 L842.3,354.9 L847.2,357.4 L853.8,361.5 L862.0,364.7 L858.7,367.2 L848.9,368.8 L837.4,372.1 L825.9,374.6 L814.4,376.2 L806.2,373.7Z" fill="none" stroke="#000" stroke-width="2.2" stroke-linejoin="round" stroke-linecap="round"/>
<path d="M762.0,442.6 L770.2,440.1 L780.0,439.3 L789.9,440.9 L799.7,443.4 L809.5,445.9 L816.1,450.8 L821.0,457.3 L825.1,463.9 L824.3,472.1 L823.5,480.3 L826.7,486.8 L827.6,495.0 L826.7,503.2 L825.9,511.4 L822.6,518.0 L816.1,522.9 L809.5,527.8 L803.0,532.7 L800.5,537.6 L801.3,540.9 L811.2,536.0 L821.0,532.7 L830.8,531.1 L840.7,532.7 L848.9,537.6 L853.8,542.5 L857.1,545.0" fill="none" stroke="#000" stroke-width="2.2" stroke-linejoin="round" stroke-linecap="round"/>
<path d="M762.0,483.5 L768.6,485.2 L771.8,493.4 L771.8,501.6 L768.6,506.5 L762.0,508.1" fill="none" stroke="#000" stroke-width="2.2" stroke-linejoin="round" stroke-linecap="round"/>
<path d="M781.7,520.4 L785.1,527.1 L785.9,537.1 L783.4,547.2 L781.7,557.2 L780.1,567.2 L778.4,577.3 L776.7,585.6 L775.1,587.3 L773.4,583.9 L775.9,573.9 L777.6,563.9 L779.2,553.8 L780.1,543.8 L780.1,533.8 L779.2,525.4Z" fill="none" stroke="#000" stroke-width="2.2" stroke-linejoin="round" stroke-linecap="round"/>
<path d="M893.9,495.8 L902.9,494.2 L911.1,496.7 L917.7,499.1 L919.3,503.2 L914.4,504.0 L906.2,501.6 L898.0,500.8 L893.9,498.3Z" fill="none" stroke="#000" stroke-width="2.2" stroke-linejoin="round" stroke-linecap="round"/>
<path d="M919.3,480.3 L924.2,488.5 L929.2,493.4 L930.8,501.6 L925.9,506.5 L921.0,504.9 L922.6,496.7 L919.3,488.5Z" fill="none" stroke="#000" stroke-width="2.2" stroke-linejoin="round" stroke-linecap="round"/>
<path d="M894.7,514.7 L899.7,521.2 L904.6,529.4 L909.5,537.6 L907.9,539.3 L902.9,532.7 L898.0,524.5 L893.9,518.0Z" fill="none" stroke="#000" stroke-width="2.2" stroke-linejoin="round" stroke-linecap="round"/>
<path d="M945.5,519.6 L950.5,514.7 L958.7,511.4 L965.2,504.9 L968.5,493.4 L971.8,483.5 L975.0,478.6 L981.6,475.4 L989.8,475.4 L998.0,480.3 L1004.5,490.1 L1007.0,496.7" fill="none" stroke="#000" stroke-width="2.2" stroke-linejoin="round" stroke-linecap="round"/>
<path d="M945.5,519.6 L955.4,522.9 L966.9,519.6 L976.7,521.2 L988.2,518.0 L998.0,513.0 L1002.9,519.6 L1001.3,529.4 L996.3,539.3 L991.4,545.0" fill="none" stroke="#000" stroke-width="2.2" stroke-linejoin="round" stroke-linecap="round"/>
<path d="M1150.0,350.3 L1154.0,351.8 L1158.0,351.3 L1162.0,350.3 L1166.1,348.3 L1169.1,346.3 L1171.1,343.2 L1172.1,340.2 L1171.6,336.2 L1173.1,334.2 L1175.1,332.2 L1177.1,330.2 L1179.1,328.2 L1182.1,327.2 L1185.1,326.2 L1188.1,324.2 L1191.1,322.2 L1194.1,319.2 L1197.2,317.2 L1200.2,315.7 L1203.2,315.1 L1205.2,316.2" fill="none" stroke="#000" stroke-width="2.2" stroke-linejoin="round" stroke-linecap="round"/>
<path d="M1205.2,316.2 L1197.2,318.2 L1196.2,322.2 L1195.1,328.2 L1194.1,334.2 L1193.1,340.2 L1190.1,344.2 L1187.1,347.3 L1183.1,349.3 L1179.1,351.3 L1175.1,353.3 L1171.1,355.3 L1168.1,357.3 L1165.0,358.3 L1162.0,360.3 L1160.0,363.3 L1161.0,365.3 L1164.0,364.3 L1168.1,363.3 L1172.1,364.3 L1176.1,364.3 L1180.1,362.3 L1184.1,360.3 L1188.1,359.3 L1192.1,360.3 L1195.1,362.3 L1198.2,364.3 L1202.2,366.3 L1206.2,368.3 L1210.2,370.3 L1213.2,372.3 L1218.2,371.3 L1224.2,370.3 L1230.3,369.3 L1236.3,369.3 L1242.3,369.3 L1243.3,366.3 L1242.3,362.3 L1240.3,359.3 L1237.3,358.3 L1235.3,356.3 L1234.3,353.3 L1232.3,350.3 L1229.3,352.3 L1228.3,350.3 L1229.3,346.3 L1231.3,344.2 L1233.3,342.2 L1235.3,340.2 L1237.3,338.2 L1240.3,336.2 L1243.3,334.2 L1246.3,332.2 L1250.3,330.2 L1254.3,329.2 L1258.4,328.2 L1262.4,328.2 L1266.4,328.2 L1270.4,327.7 L1276.4,328.2 L1282.4,329.2 L1288.5,330.2 L1290.5,334.2 L1292.5,336.2 L1296.5,337.2 L1300.0,337.2" fill="none" stroke="#000" stroke-width="2.2" stroke-linejoin="round" stroke-linecap="round"/>
<path d="M1228.3,353.3 L1231.3,349.3 L1234.3,345.2 L1237.3,341.2 L1240.3,337.2 L1243.3,334.2 L1246.3,331.2 L1249.3,328.2 L1251.3,326.2 L1250.3,329.2 L1247.3,332.2 L1244.3,335.2 L1241.3,339.2 L1238.3,343.2 L1235.3,347.3 L1232.3,351.3 L1229.3,354.3Z" fill="none" stroke="#000" stroke-width="2.2" stroke-linejoin="round" stroke-linecap="round"/>
<path d="M1250.3,305.1 L1254.3,302.1 L1258.4,301.1 L1262.4,302.1 L1264.4,301.1 L1267.4,303.1 L1269.4,306.1 L1270.4,310.1 L1267.4,313.1 L1262.4,315.1 L1258.4,317.2 L1256.4,319.2 L1254.3,317.2 L1252.3,313.1 L1251.3,309.1Z" fill="none" stroke="#000" stroke-width="2.2" stroke-linejoin="round" stroke-linecap="round"/>
<path d="M1300.0,337.2 L1311.4,331.9 L1321.9,337.2 L1329.9,347.8 L1327.2,361.0 L1337.8,368.9 L1348.3,366.2 L1351.0,355.7 L1364.2,345.1 L1380.1,334.5 L1390.6,326.6 L1406.5,325.3 L1422.3,326.6 L1438.2,337.2 L1448.7,347.8 L1459.3,361.0 L1467.2,374.2 L1475.2,384.7" fill="none" stroke="#000" stroke-width="2.2" stroke-linejoin="round" stroke-linecap="round"/>
<path d="M1269.1,310.8 L1279.7,294.9 L1290.2,284.3 L1300.8,279.1 L1314.0,281.7 L1327.2,289.6 L1340.4,294.9 L1349.7,298.9 L1345.7,305.5 L1335.1,304.2 L1321.9,302.8 L1311.4,306.8 L1300.8,312.1 L1290.2,316.1 L1279.7,318.7 L1271.7,316.1Z" fill="none" stroke="#000" stroke-width="2.2" stroke-linejoin="round" stroke-linecap="round"/>
<path d="M1135.2,530.5 L1140.4,526.2 L1147.4,528.8 L1149.1,535.7 L1144.8,542.7 L1138.7,544.4 L1135.2,537.5Z" fill="none" stroke="#000" stroke-width="2.2" stroke-linejoin="round" stroke-linecap="round"/>
<path d="M1182.2,509.6 L1185.7,507.9 L1189.1,514.9 L1190.9,523.5 L1194.3,532.2 L1192.6,537.5 L1189.1,534.0 L1185.7,525.3 L1183.0,518.3Z" fill="none" stroke="#000" stroke-width="2.2" stroke-linejoin="round" stroke-linecap="round"/>
<path d="M946.1,517.9 L951.9,513.7 L960.3,510.4 L964.4,505.4 L966.1,497.0 L969.5,487.0 L973.6,480.3 L980.3,476.9 L987.0,476.1 L991.2,478.6 L995.4,485.3 L998.7,490.3 L1003.7,493.6 L1008.8,495.3 L1013.8,498.7 L1012.1,503.7 L1007.1,508.7 L1000.4,513.7 L997.1,523.7 L993.7,530.4 L992.0,537.1 L993.7,543.8 L998.7,548.8 L997.1,558.9 L993.7,565.6 L988.7,572.2 L983.7,578.9 L978.7,583.9 L973.6,586.5 L968.6,585.6" fill="none" stroke="#000" stroke-width="2.2" stroke-linejoin="round" stroke-linecap="round"/>
<path d="M946.1,517.9 L951.9,521.2 L960.3,520.4 L967.0,517.9 L972.0,522.1 L980.3,523.7 L987.0,522.1 L993.7,517.1 L1000.4,513.7" fill="none" stroke="#000" stroke-width="2.2" stroke-linejoin="round" stroke-linecap="round"/>
<path d="M880.0,545.5 L886.7,547.2 L893.4,552.2 L900.1,557.2 L908.4,562.2 L916.8,567.2 L925.2,572.2 L931.8,577.3 L936.9,580.6 L940.2,585.6 L943.5,592.3 L950.2,595.7 L955.3,600.7 L960.3,607.4 L963.6,610.7 L967.0,605.7 L968.6,597.3 L967.0,589.0 L963.6,585.6 L958.6,582.3 L953.6,577.3 L950.2,568.9 L946.9,562.2 L940.2,558.0 L931.8,553.0" fill="none" stroke="#000" stroke-width="2.2" stroke-linejoin="round" stroke-linecap="round"/>
<path d="M953.6,587.3 L960.3,583.9 L968.6,585.6 L971.1,592.3 L967.0,599.0" fill="none" stroke="#000" stroke-width="2.2" stroke-linejoin="round" stroke-linecap="round"/>
<path d="M1067.3,499.6 L1070.6,506.2 L1065.6,516.2 L1060.6,526.3 L1055.6,533.0 L1050.6,538.0 L1043.9,543.0 L1037.2,546.4 L1032.2,553.0 L1028.8,563.1 L1027.2,574.8 L1025.5,586.5 L1028.8,587.7 L1038.9,586.5 L1047.2,584.8 L1050.0,577.5 L1057.0,575.7 L1063.9,574.0 L1070.9,573.2 L1077.8,572.2 L1084.8,570.5 L1088.3,567.0 L1091.7,563.5 L1095.2,558.3 L1100.4,553.1 L1103.9,549.6 L1107.4,542.7 L1109.1,535.7 L1112.6,530.5 L1116.1,526.2 L1112.4,523.7 L1111.4,519.7 L1113.4,515.6 L1112.4,511.6 L1108.4,508.6 L1104.4,506.6 L1100.4,505.6 L1096.4,503.6 L1092.4,502.6 L1088.4,503.6 L1084.3,502.6 L1080.3,499.6 L1076.3,497.6 L1070.3,497.6Z" fill="none" stroke="#000" stroke-width="2.2" stroke-linejoin="round" stroke-linecap="round"/>
<path d="M1079.0,590.6 L1085.7,587.3 L1094.0,589.0 L1099.1,595.7 L1095.7,602.3 L1087.4,604.0 L1080.7,600.7 L1079.0,595.7Z" fill="none" stroke="#000" stroke-width="2.2" stroke-linejoin="round" stroke-linecap="round"/>
<path d="M1007.1,497.0 L1013.8,493.6 L1020.5,490.3 L1025.5,487.0 L1030.5,490.3 L1037.2,493.6 L1043.9,497.0 L1048.9,500.3 L1053.9,503.7 L1050.6,510.4 L1047.2,517.1 L1043.9,523.7 L1040.5,530.4 L1037.2,537.1 L1032.2,542.1 L1027.2,547.2 L1020.5,550.5 L1015.5,547.2 L1012.1,540.5 L1010.4,533.8 L1013.8,527.1 L1012.1,520.4 L1008.8,513.7 L1007.1,507.0Z" fill="none" stroke="#000" stroke-width="2.2" stroke-linejoin="round" stroke-linecap="round"/>
<path d="M1023.8,470.2 L1030.5,463.5 L1038.9,458.5 L1047.2,455.2 L1053.9,453.5 L1057.3,446.8 L1060.6,440.1 L1063.9,443.5 L1065.6,450.2 L1063.9,458.5 L1060.6,466.9 L1057.3,475.3 L1052.2,481.9 L1045.6,485.3 L1038.9,483.6 L1032.2,480.3 L1025.5,476.9Z" fill="none" stroke="#000" stroke-width="2.2" stroke-linejoin="round" stroke-linecap="round"/>
<path d="M1027.2,455.2 L1030.5,448.5 L1033.8,441.8 L1037.2,438.5 L1043.9,440.1 L1047.2,446.8 L1043.9,451.8 L1037.2,453.5Z" fill="none" stroke="#000" stroke-width="2.2" stroke-linejoin="round" stroke-linecap="round"/>
<path d="M1063.9,455.2 L1070.6,451.8 L1075.7,455.2 L1079.0,463.5 L1077.3,473.6 L1074.0,480.3 L1069.0,483.6 L1065.6,478.6 L1063.9,470.2Z" fill="none" stroke="#000" stroke-width="2.2" stroke-linejoin="round" stroke-linecap="round"/>
<path d="M1077.3,480.3 L1084.0,483.6 L1090.7,487.0 L1095.7,493.6 L1097.4,500.3" fill="none" stroke="#000" stroke-width="2.2" stroke-linejoin="round" stroke-linecap="round"/>
<path d="M1055.6,416.7 L1063.9,413.4 L1072.3,410.0 L1080.7,406.7 L1090.7,403.3 L1097.4,400.0" fill="none" stroke="#000" stroke-width="2.2" stroke-linejoin="round" stroke-linecap="round"/>
<path d="M1055.6,416.7 L1053.9,425.1 L1047.2,433.4 L1037.2,441.8 L1030.5,446.8 L1025.5,455.2 L1023.8,463.5 L1023.8,471.9" fill="none" stroke="#000" stroke-width="2.2" stroke-linejoin="round" stroke-linecap="round"/>
<path d="M938.5,460.2 L943.5,455.2 L950.2,453.5 L956.9,456.9 L955.3,463.5 L946.9,465.2 L940.2,465.2Z" fill="none" stroke="#000" stroke-width="2.2" stroke-linejoin="round" stroke-linecap="round"/>
<path d="M973.6,451.8 L978.7,453.5 L980.3,456.0 L976.2,456.9Z" fill="none" stroke="#000" stroke-width="2.2" stroke-linejoin="round" stroke-linecap="round"/>
<path d="M988.7,436.8 L997.1,433.4 L1005.4,426.8 L1008.8,433.4 L1007.1,443.5 L997.1,441.8 L990.4,441.8Z" fill="none" stroke="#000" stroke-width="2.2" stroke-linejoin="round" stroke-linecap="round"/>
<path d="M1027.2,425.1 L1033.8,423.4 L1037.2,428.4 L1035.5,435.1 L1028.8,433.4Z" fill="none" stroke="#000" stroke-width="2.2" stroke-linejoin="round" stroke-linecap="round"/>
<path d="M1000.0,378.7 L1006.7,377.0 L1013.4,378.7 L1021.7,380.3 L1033.4,378.3 L1041.8,376.2 L1048.5,373.6 L1053.5,368.6 L1056.9,361.9 L1057.7,354.4 L1060.2,348.6 L1064.4,343.5 L1068.6,339.4 L1073.6,332.7 L1078.6,326.8 L1083.6,322.6 L1088.6,318.5 L1092.8,314.3" fill="none" stroke="#000" stroke-width="2.2" stroke-linejoin="round" stroke-linecap="round"/>
<path d="M1057.7,354.4 L1065.2,351.9 L1070.2,346.1 L1073.6,350.2 L1080.3,351.9 L1087.0,350.2 L1091.1,354.4 L1089.5,361.9 L1087.0,368.6 L1089.5,373.6 L1094.5,377.8 L1097.0,382.0 L1093.6,384.5 L1096.2,387.9 L1100.3,391.2" fill="none" stroke="#000" stroke-width="2.2" stroke-linejoin="round" stroke-linecap="round"/>
<path d="M1107.0,367.0 L1108.7,373.6 L1107.0,378.7 L1111.2,381.2 L1117.1,383.7 L1123.7,387.0 L1131.3,389.0 L1138.8,390.7 L1144.6,392.9 L1150.5,395.7 L1155.5,399.1 L1158.9,404.1 L1162.2,410.4 L1166.4,416.3 L1172.2,422.1 L1178.1,425.5 L1183.9,427.2 L1189.8,429.2 L1192.3,432.5 L1190.6,437.5 L1187.3,440.9 L1186.0,447.2 L1189.0,453.9 L1194.0,460.6 L1197.3,463.9 L1194.0,467.3 L1189.8,470.6 L1187.6,477.3 L1191.0,484.0 L1195.7,490.7 L1200.7,495.7 L1204.8,499.1 L1209.0,501.6 L1214.0,504.9 L1220.7,509.1 L1227.4,514.1 L1230.8,520.8" fill="none" stroke="#000" stroke-width="2.2" stroke-linejoin="round" stroke-linecap="round"/>
<path d="M1107.0,367.0 L1113.7,370.3 L1120.4,373.6 L1124.6,376.2 L1127.1,370.3 L1130.4,361.9 L1137.1,357.8 L1143.8,354.4 L1150.0,350.2" fill="none" stroke="#000" stroke-width="2.2" stroke-linejoin="round" stroke-linecap="round"/>
<path d="M1158.9,427.2 L1163.9,425.5 L1168.9,430.5 L1167.2,436.4 L1162.2,435.5Z" fill="none" stroke="#000" stroke-width="2.2" stroke-linejoin="round" stroke-linecap="round"/>
<path d="M1167.2,477.3 L1172.2,475.7 L1175.6,480.7 L1170.6,485.7 L1167.2,482.3Z" fill="none" stroke="#000" stroke-width="2.2" stroke-linejoin="round" stroke-linecap="round"/>
<path d="M1155.5,505.8 L1160.5,503.2 L1165.6,507.4 L1162.2,514.1 L1157.2,515.8Z" fill="none" stroke="#000" stroke-width="2.2" stroke-linejoin="round" stroke-linecap="round"/>
<path d="M1001.7,427.2 L1006.7,425.5 L1010.0,433.8 L1008.4,443.9 L1003.3,442.2Z" fill="none" stroke="#000" stroke-width="2.2" stroke-linejoin="round" stroke-linecap="round"/>
<path d="M1026.8,425.5 L1033.4,423.0 L1036.8,428.8 L1033.4,435.5 L1028.4,433.8Z" fill="none" stroke="#000" stroke-width="2.2" stroke-linejoin="round" stroke-linecap="round"/>
<path d="M1200.3,580.3 L1197.0,573.6 L1193.6,567.0 L1188.6,563.6 L1181.9,561.9 L1173.6,562.8 L1166.9,564.4 L1160.2,568.6 L1155.2,575.3 L1151.8,582.0 L1148.5,588.7 L1145.2,597.1 L1141.8,607.1 L1138.8,617.1 L1138.5,627.2 L1140.5,637.2 L1143.5,640.9 L1148.5,638.0 L1151.8,634.7 L1155.2,640.5 L1158.5,647.2 L1162.7,649.2 L1167.7,647.2 L1172.2,643.9 L1175.6,639.7 L1179.9,634.7 L1180.3,627.2 L1177.8,620.5 L1175.3,613.8 L1172.7,607.1 L1169.9,600.4 L1168.6,593.7 L1170.2,589.5 L1174.4,588.7 L1175.3,597.1 L1176.6,607.1 L1178.9,613.8 L1183.6,613.8 L1188.6,610.4 L1194.5,607.1 L1200.3,602.9" fill="none" stroke="#000" stroke-width="2.2" stroke-linejoin="round" stroke-linecap="round"/>
<path d="M1183.6,623.8 L1181.1,632.2 L1181.9,640.5 L1178.6,647.2 L1173.6,649.2 L1166.9,650.9 L1160.2,652.2 L1157.7,647.2 L1156.9,640.5 L1153.5,645.6 L1150.2,652.2 L1145.2,656.4 L1140.1,660.6 L1134.3,663.9 L1129.3,669.0 L1125.1,674.8 L1121.7,682.3 L1121.7,690.7 L1120.1,697.4 L1116.7,704.1 L1113.4,709.1 L1106.7,711.6 L1100.0,712.4" fill="none" stroke="#000" stroke-width="2.2" stroke-linejoin="round" stroke-linecap="round"/>
<path d="M1108.4,635.5 L1115.1,633.8 L1118.4,640.5 L1121.7,647.2 L1125.1,655.6 L1128.4,663.9 L1126.8,670.6 L1120.1,675.7 L1113.4,677.3 L1108.4,674.0 L1110.0,667.3 L1106.7,662.3 L1108.4,653.9 L1106.7,647.2 L1108.4,640.5Z" fill="none" stroke="#000" stroke-width="2.2" stroke-linejoin="round" stroke-linecap="round"/>
<path d="M1100.0,648.9 L1105.0,647.2 L1107.5,653.9 L1105.9,662.3 L1101.7,665.6 L1100.0,663.9" fill="none" stroke="#000" stroke-width="2.2" stroke-linejoin="round" stroke-linecap="round"/>
<path d="M1232.1,663.9 L1238.8,662.3 L1245.5,660.6 L1250.5,655.6 L1252.2,648.9 L1255.5,645.6 L1253.8,653.9 L1257.2,658.9 L1267.2,657.3 L1275.6,658.9 L1280.6,662.3 L1278.9,667.3 L1273.9,670.6 L1267.2,672.3 L1260.5,674.0 L1253.8,677.3 L1247.2,680.7 L1242.1,685.7 L1238.8,692.4 L1233.8,694.0 L1232.1,689.0 L1233.8,680.7 L1232.1,672.3Z" fill="none" stroke="#000" stroke-width="2.2" stroke-linejoin="round" stroke-linecap="round"/>
<path d="M1282.3,627.2 L1285.6,617.1 L1289.0,612.1 L1295.7,610.4 L1299.0,613.8 L1297.3,618.8 L1294.0,623.8 L1297.3,627.2 L1305.7,625.5 L1310.7,623.8 L1315.7,625.5 L1317.4,632.2 L1324.1,633.8 L1330.8,637.2 L1335.8,640.5 L1334.1,647.2 L1329.1,652.2 L1322.4,653.9 L1315.7,652.2 L1312.4,645.6 L1310.7,638.9 L1307.4,635.5 L1300.7,633.8 L1292.3,635.5 L1285.6,633.8Z" fill="none" stroke="#000" stroke-width="2.2" stroke-linejoin="round" stroke-linecap="round"/>
<path d="M1305.7,588.7 L1309.0,585.4 L1314.0,588.7 L1319.1,595.4 L1317.4,600.4 L1312.4,603.7 L1309.0,598.7 L1307.4,593.7Z" fill="none" stroke="#000" stroke-width="2.2" stroke-linejoin="round" stroke-linecap="round"/>
<path d="M1327.4,525.2 L1328.3,533.5 L1325.8,540.2 L1329.1,546.1 L1333.3,546.9" fill="none" stroke="#000" stroke-width="2.2" stroke-linejoin="round" stroke-linecap="round"/>
<path d="M1181.9,510.1 L1185.3,508.4 L1190.3,518.5 L1193.6,528.5 L1192.0,536.9 L1187.0,533.5 L1183.6,523.5Z" fill="none" stroke="#000" stroke-width="2.2" stroke-linejoin="round" stroke-linecap="round"/>
<path d="M1193.6,490.0 L1200.3,498.4 L1205.4,506.8 L1210.4,513.4 L1217.1,515.1 L1223.7,513.4 L1228.8,518.5 L1227.1,523.5 L1220.4,521.8 L1213.7,523.5 L1207.0,526.8 L1202.0,531.8 L1203.7,538.5 L1200.3,543.5 L1202.0,550.2 L1198.7,556.9 L1197.0,563.6 L1195.3,570.3 L1198.7,577.0 L1200.3,580.3" fill="none" stroke="#000" stroke-width="2.2" stroke-linejoin="round" stroke-linecap="round"/>
<path d="M1130.0,722.7 L1136.7,711.8 L1143.4,710.2 L1151.7,706.8 L1158.4,703.8 L1163.4,704.8 L1167.6,709.3 L1171.0,710.2" fill="none" stroke="#000" stroke-width="2.2" stroke-linejoin="round" stroke-linecap="round"/>
<path d="M1171.0,695.1 L1176.8,693.1 L1181.8,697.6 L1188.5,701.8 L1196.9,704.8 L1203.6,707.7 L1206.1,711.8 L1201.9,713.5 L1200.2,717.7 L1196.9,717.7 L1195.2,715.2 L1190.2,711.8 L1183.5,707.7 L1178.5,704.3 L1174.3,701.0 L1171.8,698.5Z" fill="none" stroke="#000" stroke-width="2.2" stroke-linejoin="round" stroke-linecap="round"/>
<path d="M1206.1,711.8 L1211.9,707.7 L1217.8,706.8 L1223.6,711.0 L1228.7,715.2 L1230.3,718.9 L1227.0,722.2 L1223.6,725.6 L1221.6,728.6 L1225.3,728.6 L1230.3,721.9 L1233.7,716.9 L1238.7,715.2 L1245.4,716.9 L1250.4,718.5 L1257.1,715.2 L1263.8,710.2 L1270.5,706.8 L1275.5,702.6 L1278.8,697.6 L1280.5,703.5 L1283.8,710.2 L1287.2,718.5 L1289.7,726.1 L1287.2,731.9 L1280.5,736.1 L1273.8,740.3 L1267.1,741.9 L1260.4,743.6 L1253.7,745.3 L1247.1,747.0 L1240.4,747.3 L1233.7,748.6 L1227.0,750.6 L1225.3,757.0 L1223.6,763.7 L1220.3,768.7 L1210.3,767.0 L1203.6,763.7 L1200.2,760.3 L1193.5,760.3 L1185.2,760.3 L1178.5,760.3 L1173.8,757.0 L1175.2,750.3 L1171.8,745.3 L1163.4,745.3 L1155.1,747.0 L1146.7,748.6 L1138.4,749.5 L1130.0,750.3" fill="none" stroke="#000" stroke-width="2.2" stroke-linejoin="round" stroke-linecap="round"/>
<path d="M1230.3,660.0 L1231.2,673.4 L1232.0,685.1 L1237.0,693.4 L1243.7,690.1 L1250.4,683.4 L1258.8,676.7 L1268.8,673.4 L1277.2,670.0 L1280.5,663.3" fill="none" stroke="#000" stroke-width="2.2" stroke-linejoin="round" stroke-linecap="round"/>
<path d="M1287.2,740.3 L1293.9,745.3 L1300.6,748.6 L1310.6,755.3 L1317.3,760.3 L1324.0,765.4 L1330.7,770.4 L1339.0,775.4 L1347.4,778.7" fill="none" stroke="#000" stroke-width="2.2" stroke-linejoin="round" stroke-linecap="round"/>
<path d="M1300.6,736.9 L1302.2,743.6 L1307.3,743.6 L1313.9,747.0 L1322.3,750.3 L1330.7,753.6 L1339.0,757.0 L1347.4,762.0 L1355.8,765.4 L1364.1,763.7" fill="none" stroke="#000" stroke-width="2.2" stroke-linejoin="round" stroke-linecap="round"/>
<path d="M1349.1,681.7 L1355.8,678.4 L1364.1,678.4 L1372.5,680.1 L1380.0,678.4" fill="none" stroke="#000" stroke-width="2.2" stroke-linejoin="round" stroke-linecap="round"/>
<path d="M1350.7,688.4 L1357.4,691.8 L1365.8,691.8 L1374.1,693.4 L1380.0,695.1" fill="none" stroke="#000" stroke-width="2.2" stroke-linejoin="round" stroke-linecap="round"/>
<path d="M1160.9,711.8 L1164.3,710.2 L1166.0,716.9 L1164.3,725.2 L1166.0,730.2 L1162.6,731.9 L1160.1,726.9 L1161.8,720.2Z" fill="none" stroke="#000" stroke-width="2.2" stroke-linejoin="round" stroke-linecap="round"/>
<path d="M1181.0,733.6 L1186.9,731.9 L1192.7,734.4 L1191.9,738.6 L1185.2,737.8Z" fill="none" stroke="#000" stroke-width="2.2" stroke-linejoin="round" stroke-linecap="round"/>
<path d="M1233.7,731.1 L1240.4,728.6 L1245.4,729.4 L1242.0,733.6 L1235.4,733.6Z" fill="none" stroke="#000" stroke-width="2.2" stroke-linejoin="round" stroke-linecap="round"/>
<path d="M1271.3,713.5 L1275.5,708.5 L1277.2,711.8 L1273.8,716.9Z" fill="none" stroke="#000" stroke-width="2.2" stroke-linejoin="round" stroke-linecap="round"/>
<path d="M1276.6,433.1 L1286.6,430.4 L1295.8,433.1 L1301.3,438.6 L1302.2,444.1" fill="none" stroke="#000" stroke-width="2.2" stroke-linejoin="round" stroke-linecap="round"/>
<path d="M1328.7,525.6 L1327.8,535.6 L1325.1,541.1 L1328.7,546.6 L1334.2,545.7" fill="none" stroke="#000" stroke-width="2.2" stroke-linejoin="round" stroke-linecap="round"/>
<path d="M1349.8,682.1 L1351.6,689.5 L1359.9,691.3 L1374.5,695.0 L1381.8,691.3 L1387.3,696.8 L1392.8,695.0 L1396.5,687.6 L1394.7,680.3 L1392.8,673.0 L1392.8,665.7 L1396.5,660.2 L1402.0,665.7 L1411.1,665.7 L1422.1,663.8 L1425.8,669.3 L1431.3,676.6 L1434.9,682.1" fill="none" stroke="#000" stroke-width="2.2" stroke-linejoin="round" stroke-linecap="round"/>
<path d="M1392.8,665.7 L1400.2,654.7 L1407.5,647.4 L1414.8,640.0 L1420.3,632.7 L1424.0,623.5 L1429.5,618.1 L1436.8,614.4 L1444.1,610.7 L1449.6,607.1 L1451.4,603.4 L1458.8,599.7 L1464.2,597.9 L1469.7,594.2 L1475.2,596.1" fill="none" stroke="#000" stroke-width="2.2" stroke-linejoin="round" stroke-linecap="round"/>
<path d="M1488.1,467.9 L1478.9,471.6 L1471.6,477.1 L1473.4,482.5 L1477.1,489.9 L1477.1,499.0 L1480.7,504.5 L1488.1,508.2" fill="none" stroke="#000" stroke-width="2.2" stroke-linejoin="round" stroke-linecap="round"/>
<path d="M1464.2,380.0 L1469.7,383.7 L1477.1,387.3" fill="none" stroke="#000" stroke-width="2.2" stroke-linejoin="round" stroke-linecap="round"/>
<path d="M1103.1,390.0 L1102.3,391.6 L1098.3,396.4 L1096.7,401.2 L1093.5,405.2 L1088.7,407.7 L1082.2,408.5 L1077.4,410.1 L1071.0,412.5 L1064.6,414.1 L1058.2,416.5 L1059.0,420.5 L1056.5,423.7 L1054.9,428.5 L1053.3,431.7 L1048.5,433.3 L1044.5,436.5 L1040.5,439.8 L1037.3,443.0 L1034.1,444.6 L1031.7,447.8 L1029.3,452.6 L1027.7,454.2" fill="none" stroke="#000" stroke-width="2.2" stroke-linejoin="round" stroke-linecap="round"/>
<path d="M1032.5,444.6 L1035.7,443.0 L1038.9,445.4 L1042.1,446.2 L1044.5,447.8 L1046.9,449.4 L1050.1,447.8 L1053.3,446.2 L1052.5,442.2 L1054.1,439.0 L1058.2,439.8 L1061.4,441.4 L1064.6,445.4 L1066.2,449.4 L1065.4,453.4 L1063.0,455.8 L1058.2,454.2 L1054.9,455.8 L1053.3,459.0 L1053.3,462.2 L1054.1,465.4 L1052.5,467.0 L1048.5,466.2 L1045.3,464.6 L1042.1,463.8 L1038.9,466.2 L1035.7,467.8 L1033.3,465.4 L1030.9,462.2 L1028.5,459.0 L1029.3,455.0 L1030.9,451.0 L1031.7,447.8Z" fill="none" stroke="#000" stroke-width="2.2" stroke-linejoin="round" stroke-linecap="round"/>
<path d="M1024.4,475.1 L1026.1,468.7 L1028.5,464.6 L1032.5,466.2 L1035.7,468.7 L1040.5,470.3 L1043.7,471.1 L1046.9,470.3 L1050.1,471.1 L1053.3,473.5 L1054.9,476.7 L1053.3,479.1 L1048.5,479.9 L1043.7,478.3 L1038.9,479.1 L1034.1,478.3 L1029.3,478.3 L1026.1,477.5Z" fill="none" stroke="#000" stroke-width="2.2" stroke-linejoin="round" stroke-linecap="round"/>
<path d="M1060.6,458.2 L1064.6,455.8 L1069.4,453.4 L1073.4,451.8 L1075.8,454.2 L1076.6,459.0 L1078.2,463.8 L1077.4,468.7 L1079.0,473.5 L1079.0,477.5 L1077.4,480.7 L1074.2,479.1 L1071.0,476.7 L1067.8,475.1 L1064.6,473.5 L1061.4,470.3 L1059.8,465.4 L1059.8,461.4Z" fill="none" stroke="#000" stroke-width="2.2" stroke-linejoin="round" stroke-linecap="round"/>
<path d="M1056.5,484.7 L1059.8,482.3 L1064.6,480.7 L1069.4,482.3 L1074.2,483.9 L1079.0,483.1 L1083.8,483.9 L1087.0,486.3 L1090.3,489.5 L1093.5,493.5 L1095.9,497.5 L1096.7,502.4 L1095.1,506.4" fill="none" stroke="#000" stroke-width="2.2" stroke-linejoin="round" stroke-linecap="round"/>
<path d="M1026.9,424.5 L1030.9,422.9 L1035.7,423.7 L1036.5,428.5 L1034.1,434.9 L1030.1,436.5 L1026.9,433.3 L1026.1,428.5Z" fill="none" stroke="#000" stroke-width="2.2" stroke-linejoin="round" stroke-linecap="round"/>
<path d="M1010.0,492.7 L1014.8,494.3 L1018.0,495.9 L1021.2,499.1 L1024.4,502.4 L1028.5,500.8 L1032.5,499.1 L1035.7,502.4 L1037.3,505.6 L1036.5,510.0" fill="none" stroke="#000" stroke-width="2.2" stroke-linejoin="round" stroke-linecap="round"/>
<path d="M1022.0,486.3 L1026.1,483.9 L1030.9,483.1 L1034.1,485.5 L1032.5,488.7 L1028.5,491.1 L1024.4,490.3Z" fill="none" stroke="#000" stroke-width="2.2" stroke-linejoin="round" stroke-linecap="round"/>
<path d="M1040.5,484.7 L1044.5,482.3 L1050.1,483.1 L1053.3,486.3 L1051.7,491.1 L1047.7,494.3 L1043.7,493.5 L1041.3,489.5Z" fill="none" stroke="#000" stroke-width="2.2" stroke-linejoin="round" stroke-linecap="round"/>
<path d="M1043.7,495.9 L1047.7,494.3 L1051.7,495.9 L1053.3,500.8 L1050.1,504.8 L1046.1,504.0 L1044.5,500.0Z" fill="none" stroke="#000" stroke-width="2.2" stroke-linejoin="round" stroke-linecap="round"/>
<path d="M1059.8,487.9 L1063.0,486.3 L1066.2,488.7 L1065.4,494.3 L1062.2,496.7 L1059.8,493.5Z" fill="none" stroke="#000" stroke-width="2.2" stroke-linejoin="round" stroke-linecap="round"/>
<path d="M1100.0,712.4 L1092.9,713.7 L1088.0,721.0 L1088.0,730.8 L1090.5,740.6 L1097.8,745.5 L1107.6,750.4 L1117.4,752.8 L1126.0,750.4" fill="none" stroke="#000" stroke-width="2.2" stroke-linejoin="round" stroke-linecap="round"/>
<path d="M1097.8,750.4 L1088.0,760.2 L1078.2,767.5 L1070.9,777.3 L1063.5,784.7 L1053.8,794.4 L1044.0,804.2 L1034.2,814.0 L1026.8,823.8 L1021.9,833.6 L1019.5,843.4 L1017.0,852.0" fill="none" stroke="#000" stroke-width="2.2" stroke-linejoin="round" stroke-linecap="round"/>
<path d="M1154.3,507.9 L1159.6,503.5 L1164.8,506.2 L1163.9,513.1 L1159.6,518.3 L1155.2,516.6Z" fill="#000"/></g>
<path d="M833.4,561.9 L843.2,559.4 L857.9,569.2 L872.6,583.9 L887.3,601.1 L902.0,618.2 L916.7,632.9 L931.4,645.1 L946.0,654.9 L960.7,659.8 L980.3,657.4 L992.6,657.4 L995.0,667.2 L980.3,672.0 L960.7,676.9 L946.0,674.5 L931.4,667.2 L916.7,657.4 L902.0,645.1 L887.3,630.4 L872.6,613.3 L857.9,593.7 L843.2,576.6 L833.4,566.8Z" fill="none" stroke="#0a5a32" stroke-width="3.5" stroke-linejoin="round"/>
<path d="M855.5,579.0 L870.2,586.4 L884.8,601.1 L899.5,618.2 L911.8,630.4 L921.6,637.8 L911.8,640.2 L897.1,630.4 L882.4,615.7 L867.7,598.6 L857.9,586.4Z" fill="none" stroke="#0a5a32" stroke-width="3.5" stroke-linejoin="round"/>
<path d="M977.9,608.4 L987.7,603.5 L993.8,608.4 L992.6,620.6 L985.2,623.1 L979.1,615.7Z" fill="none" stroke="#0a5a32" stroke-width="3.5" stroke-linejoin="round"/>
<path d="M1001.1,603.5 L1012.1,601.1 L1019.5,613.3 L1024.4,632.9 L1019.5,642.7 L1007.2,642.7 L1002.4,632.9 L999.9,618.2Z" fill="none" stroke="#5aaa6a" stroke-width="3" stroke-linejoin="round"/>
<path d="M920.3,656.1 L943.6,656.1 L943.6,672.0 L920.3,672.0Z" fill="#fff" />
<text x="921.6" y="670.1" font-size="19" font-weight="bold" fill="#0a5a32" textLength="31" lengthAdjust="spacingAndGlyphs">2.5</text>
<rect x="763.5" y="123" width="726" height="728.2" fill="none" stroke="#000" stroke-width="3.5"/>
</g>
<!-- ===== COLORBAR ===== -->
<g id="cbar">
<rect x="384" y="883" width="52.2" height="26" fill="#0c0c6e"/>
<rect x="436.2" y="883" width="52.2" height="26" fill="#0a10a0"/>
<rect x="488.4" y="883" width="52.2" height="26" fill="#0000d6"/>
<rect x="540.6" y="883" width="52.2" height="26" fill="#1e1eff"/>
<rect x="592.8" y="883" width="52.2" height="26" fill="#4a60f0"/>
<rect x="645" y="883" width="52.2" height="26" fill="#7c98f0"/>
<rect x="697.2" y="883" width="52.2" height="26" fill="#b4dcf6"/>
<rect x="749.4" y="883" width="52.2" height="26" fill="#ffff3c"/>
<rect x="801.6" y="883" width="52.2" height="26" fill="#fbb43c"/>
<rect x="853.8" y="883" width="52.2" height="26" fill="#fa6a28"/>
<rect x="906" y="883" width="52.2" height="26" fill="#e63218"/>
<rect x="958.2" y="883" width="52.2" height="26" fill="#c80808"/>
<rect x="1010.4" y="883" width="52.2" height="26" fill="#8c0808"/>
<rect x="1062.6" y="883" width="52.4" height="26" fill="#5a0404"/>
<g font-size="35" text-anchor="middle" fill="#000">
<text x="441" y="944">-4.2</text>
<text x="545" y="944">-2.8</text>
<text x="642" y="944">-1.4</text>
<text x="749" y="944">0</text>
<text x="861" y="944">1.4</text>
<text x="967" y="944">2.8</text>
<text x="1069" y="944">4.2</text>
</g>
</g>
<!-- ===== CHART TITLES ===== -->
<g font-size="30" fill="#000">
<text x="99" y="1017" textLength="413" lengthAdjust="spacingAndGlyphs"><tspan font-weight="bold">c)</tspan> Total meridional Energy flux:</text>
<text x="307" y="1057" text-anchor="middle">[PW]</text>
<text x="565" y="1017" textLength="426" lengthAdjust="spacingAndGlyphs"><tspan font-weight="bold">d)</tspan> Atmospheric fluxes by SH, LH</text>
<text x="687" y="1056" textLength="173" lengthAdjust="spacingAndGlyphs">and PE: [PW]</text>
<text x="1029" y="1017" textLength="335" lengthAdjust="spacingAndGlyphs"><tspan font-weight="bold">e)</tspan> Atmospheric SH-fluxes</text>
<text x="1043" y="1057" textLength="311" lengthAdjust="spacingAndGlyphs">by zm. circulation, stat.</text>
<text x="1042" y="1096" textLength="311" lengthAdjust="spacingAndGlyphs">and trans. eddies: [PW]</text>
</g>
<g id="chartc">
<line x1="120" y1="1809.2" x2="525" y2="1809.2" stroke="#9a9a9a" stroke-width="1.6" stroke-dasharray="4 16.6"/>
<line x1="120" y1="1722.4" x2="525" y2="1722.4" stroke="#9a9a9a" stroke-width="1.6" stroke-dasharray="4 16.6"/>
<line x1="120" y1="1635.7" x2="525" y2="1635.7" stroke="#9a9a9a" stroke-width="1.6" stroke-dasharray="4 16.6"/>
<line x1="120" y1="1548.9" x2="525" y2="1548.9" stroke="#9a9a9a" stroke-width="1.6" stroke-dasharray="4 16.6"/>
<line x1="120" y1="1462.1" x2="525" y2="1462.1" stroke="#9a9a9a" stroke-width="1.6" stroke-dasharray="4 16.6"/>
<line x1="120" y1="1375.3" x2="525" y2="1375.3" stroke="#9a9a9a" stroke-width="1.6" stroke-dasharray="4 16.6"/>
<line x1="120" y1="1288.6" x2="525" y2="1288.6" stroke="#9a9a9a" stroke-width="1.6" stroke-dasharray="4 16.6"/>
<line x1="120" y1="1201.8" x2="525" y2="1201.8" stroke="#9a9a9a" stroke-width="1.6" stroke-dasharray="4 16.6"/>
<line x1="143.6" y1="1120" x2="143.6" y2="1893" stroke="#333" stroke-width="2.2" stroke-dasharray="4 19.4" stroke-dashoffset="-2"/>
<line x1="202.9" y1="1120" x2="202.9" y2="1893" stroke="#333" stroke-width="2.2" stroke-dasharray="4 19.4" stroke-dashoffset="-2"/>
<line x1="262.2" y1="1120" x2="262.2" y2="1893" stroke="#333" stroke-width="2.2" stroke-dasharray="4 19.4" stroke-dashoffset="-2"/>
<line x1="380.8" y1="1120" x2="380.8" y2="1893" stroke="#333" stroke-width="2.2" stroke-dasharray="4 19.4" stroke-dashoffset="-2"/>
<line x1="440.1" y1="1120" x2="440.1" y2="1893" stroke="#333" stroke-width="2.2" stroke-dasharray="4 19.4" stroke-dashoffset="-2"/>
<line x1="499.4" y1="1120" x2="499.4" y2="1893" stroke="#333" stroke-width="2.2" stroke-dasharray="4 19.4" stroke-dashoffset="-2"/>
<line x1="321.5" y1="1115" x2="321.5" y2="1896" stroke="#000" stroke-width="1.3"/>
<line x1="127" y1="1166" x2="183" y2="1166" stroke="#000" stroke-width="9" stroke-linecap="round"/>
<text x="192" y="1177.5" font-size="30" font-weight="bold" fill="#000" textLength="97" lengthAdjust="spacingAndGlyphs">WF:O+A</text>
<circle cx="131.0" cy="1207" r="4.6" fill="#000"/>
<circle cx="155.0" cy="1207" r="4.6" fill="#000"/>
<circle cx="179.0" cy="1207" r="4.6" fill="#000"/>
<text x="192" y="1217.5" font-size="30" font-weight="bold" fill="#000" textLength="96" lengthAdjust="spacingAndGlyphs">NF:O+A</text>
<line x1="127" y1="1245" x2="183" y2="1245" stroke="#dc1a10" stroke-width="9" stroke-linecap="round"/>
<text x="192" y="1256.5" font-size="30" font-weight="bold" fill="#dc1a10" textLength="89" lengthAdjust="spacingAndGlyphs">WF:ATM</text>
<circle cx="131.0" cy="1285" r="4.6" fill="#dc1a10"/>
<circle cx="155.0" cy="1285" r="4.6" fill="#dc1a10"/>
<circle cx="179.0" cy="1285" r="4.6" fill="#dc1a10"/>
<text x="192" y="1295.5" font-size="30" font-weight="bold" fill="#dc1a10" textLength="87" lengthAdjust="spacingAndGlyphs">NF:ATM</text>
<line x1="127" y1="1323" x2="183" y2="1323" stroke="#2040f0" stroke-width="9" stroke-linecap="round"/>
<text x="192" y="1334.5" font-size="30" font-weight="bold" fill="#2040f0" textLength="94" lengthAdjust="spacingAndGlyphs">WF:OCN</text>
<circle cx="131.0" cy="1363" r="4.6" fill="#2040f0"/>
<circle cx="155.0" cy="1363" r="4.6" fill="#2040f0"/>
<circle cx="179.0" cy="1363" r="4.6" fill="#2040f0"/>
<text x="192" y="1373.5" font-size="30" font-weight="bold" fill="#2040f0" textLength="94" lengthAdjust="spacingAndGlyphs">NF:OCN</text>
<path d="M322.3,1126.0 C322.8,1130.3 323.6,1143.3 325.2,1152.0 C326.8,1160.7 329.6,1169.3 332.2,1178.0 C334.8,1186.7 337.4,1195.8 340.9,1204.0 C344.4,1212.2 348.9,1219.7 353.0,1227.0 C357.1,1234.3 361.1,1240.8 365.2,1248.0 C369.3,1255.2 373.0,1262.2 377.4,1270.0 C381.8,1277.8 386.4,1286.3 391.3,1294.8 C396.2,1303.3 402.1,1312.8 407.0,1320.9 C411.9,1329.0 416.8,1336.5 420.9,1343.5 C424.9,1350.5 427.8,1356.8 431.3,1362.6 C434.8,1368.4 437.9,1372.5 441.7,1378.3 C445.5,1384.1 449.8,1391.3 453.9,1397.4 C458.0,1403.5 462.3,1408.7 466.1,1414.8 C469.9,1420.9 473.0,1427.5 476.5,1433.9 C480.0,1440.3 483.5,1446.3 487.0,1453.0 C490.5,1459.7 494.2,1466.9 497.4,1473.9 C500.6,1480.9 503.5,1487.8 506.1,1494.8 C508.7,1501.8 511.0,1508.8 513.0,1515.7 C515.0,1522.7 516.8,1529.3 518.3,1536.5 C519.8,1543.7 520.8,1551.2 521.7,1559.0 C522.6,1566.8 523.3,1575.0 523.5,1583.5 C523.7,1592.0 523.1,1603.3 523.0,1610.0 C522.9,1616.7 523.1,1615.5 522.6,1623.5 C522.1,1631.5 521.3,1647.9 520.0,1658.0 C518.7,1668.1 517.1,1676.4 514.8,1684.3 C512.5,1692.2 509.3,1698.0 506.1,1705.2 C502.9,1712.5 499.5,1721.1 495.7,1727.8 C491.9,1734.5 487.6,1739.4 483.5,1745.2 C479.4,1751.0 476.2,1756.8 471.3,1762.6 C466.4,1768.4 459.7,1774.2 453.9,1780.0 C448.1,1785.8 442.3,1792.2 436.5,1797.4 C430.7,1802.6 424.9,1806.4 419.1,1811.3 C413.3,1816.2 406.9,1822.2 401.7,1827.0 C396.5,1831.8 392.3,1836.0 387.8,1840.0 C383.3,1844.0 381.7,1844.8 374.5,1851.0 C367.3,1857.2 353.4,1869.5 344.6,1877.0 C335.9,1884.5 325.8,1892.8 322.0,1896.0" fill="none" stroke="#000" stroke-width="7.5" stroke-linecap="round" stroke-linejoin="round"/>
<path d="M323.8,1126.0 C324.3,1130.3 325.1,1143.3 326.7,1152.0 C328.3,1160.7 331.1,1169.3 333.7,1178.0 C336.3,1186.7 338.9,1195.8 342.4,1204.0 C345.9,1212.2 350.4,1219.7 354.5,1227.0 C358.6,1234.3 362.6,1240.8 366.7,1248.0 C370.8,1255.2 374.5,1262.2 378.9,1270.0 C383.2,1277.8 387.9,1286.3 392.8,1294.8 C397.7,1303.3 403.6,1312.8 408.5,1320.9 C413.4,1329.0 418.3,1336.5 422.4,1343.5 C426.4,1350.5 429.3,1356.8 432.8,1362.6 C436.3,1368.4 439.4,1372.5 443.2,1378.3 C447.0,1384.1 451.3,1391.3 455.4,1397.4 C459.5,1403.5 463.8,1408.7 467.6,1414.8 C471.4,1420.9 474.5,1427.5 478.0,1433.9 C481.5,1440.3 485.0,1446.3 488.5,1453.0 C492.0,1459.7 495.7,1466.9 498.9,1473.9 C502.1,1480.9 505.0,1487.8 507.6,1494.8 C510.2,1501.8 512.5,1508.8 514.5,1515.7 C516.5,1522.7 518.3,1529.3 519.8,1536.5 C521.2,1543.7 522.3,1551.2 523.2,1559.0 C524.1,1566.8 524.8,1575.0 525.0,1583.5 C525.2,1592.0 524.6,1603.3 524.5,1610.0 C524.4,1616.7 524.6,1615.5 524.1,1623.5 C523.6,1631.5 522.8,1647.9 521.5,1658.0 C520.2,1668.1 518.6,1676.4 516.3,1684.3 C514.0,1692.2 510.8,1698.0 507.6,1705.2 C504.4,1712.5 501.0,1721.1 497.2,1727.8 C493.4,1734.5 489.1,1739.4 485.0,1745.2 C480.9,1751.0 477.7,1756.8 472.8,1762.6 C467.9,1768.4 461.2,1774.2 455.4,1780.0 C449.6,1785.8 443.8,1792.2 438.0,1797.4 C432.2,1802.6 426.4,1806.4 420.6,1811.3 C414.8,1816.2 408.4,1822.2 403.2,1827.0 C398.0,1831.8 393.8,1836.0 389.3,1840.0 C384.8,1844.0 383.2,1844.8 376.0,1851.0 C368.8,1857.2 354.9,1869.5 346.1,1877.0 C337.4,1884.5 327.3,1892.8 323.5,1896.0" fill="none" stroke="#000" stroke-width="8" stroke-linecap="round" stroke-dasharray="0 20"/>
<path d="M320.9,1130.0 C321.6,1136.6 323.6,1157.3 325.2,1169.6 C326.8,1181.9 328.9,1193.9 330.4,1204.0 C331.8,1214.1 332.5,1221.2 333.9,1230.0 C335.3,1238.8 336.7,1247.7 339.0,1256.5 C341.3,1265.3 344.9,1273.9 347.8,1282.6 C350.7,1291.3 353.3,1300.0 356.5,1308.7 C359.7,1317.4 363.5,1327.2 367.0,1334.8 C370.5,1342.3 373.9,1348.2 377.4,1354.0 C380.9,1359.8 385.6,1364.4 387.8,1369.6 C390.0,1374.8 388.1,1380.3 390.4,1385.2 C392.7,1390.1 398.4,1394.4 401.7,1399.0 C405.0,1403.6 407.8,1406.9 410.4,1413.0 C413.0,1419.1 415.1,1429.9 417.4,1435.7 C419.7,1441.5 422.3,1442.9 424.3,1447.8 C426.3,1452.7 428.4,1458.8 429.6,1465.2 C430.8,1471.6 429.9,1480.2 431.3,1486.0 C432.8,1491.8 436.3,1494.8 438.3,1500.0 C440.3,1505.2 441.2,1509.3 443.5,1517.4 C445.8,1525.5 451.2,1540.6 452.2,1548.7 C453.2,1556.8 450.5,1557.5 449.6,1566.0 C448.7,1574.5 447.1,1592.2 447.0,1600.0 C446.9,1607.8 450.1,1608.2 448.7,1613.0 C447.2,1617.8 440.3,1622.6 438.3,1628.7 C436.3,1634.8 435.9,1641.5 436.5,1649.6 C437.1,1657.7 441.7,1669.9 441.7,1677.4 C441.7,1684.9 439.7,1689.6 436.5,1694.8 C433.3,1700.0 425.5,1703.2 422.6,1708.7 C419.7,1714.2 422.0,1721.7 419.1,1727.8 C416.2,1733.9 409.6,1740.3 405.2,1745.2 C400.8,1750.1 397.6,1752.5 393.0,1757.4 C388.4,1762.3 382.9,1769.3 377.4,1774.8 C371.9,1780.3 364.1,1785.2 360.0,1790.4 C355.9,1795.6 356.8,1801.1 353.0,1806.0 C349.2,1810.9 343.2,1814.4 337.4,1820.0 C331.6,1825.6 324.7,1831.4 318.4,1839.7 C312.1,1848.0 303.3,1860.8 299.6,1869.7 C295.9,1878.6 296.6,1889.1 296.0,1893.0" fill="none" stroke="#dc1a10" stroke-width="7" stroke-linecap="round" stroke-linejoin="round"/>
<path d="M322.0,1140.0 C323.0,1146.7 325.8,1167.5 328.0,1180.0 C330.2,1192.5 332.7,1204.2 335.0,1215.0 C337.3,1225.8 339.2,1235.0 342.0,1245.0 C344.8,1255.0 348.7,1265.8 352.0,1275.0 C355.3,1284.2 358.3,1286.8 362.0,1300.0 C365.7,1313.2 370.6,1341.5 374.0,1354.0 C377.4,1366.5 380.3,1368.1 382.6,1374.8 C384.9,1381.5 385.2,1387.6 387.8,1394.0 C390.4,1400.4 395.4,1406.0 398.3,1413.0 C401.2,1420.0 402.8,1428.5 405.2,1435.7 C407.6,1443.0 411.0,1449.3 413.0,1456.5 C415.0,1463.7 415.8,1471.5 417.4,1479.0 C419.0,1486.5 421.3,1494.0 422.6,1501.7 C423.9,1509.4 424.3,1517.3 425.2,1525.0 C426.1,1532.7 427.7,1540.1 427.8,1547.8 C427.9,1555.5 426.7,1563.6 426.0,1571.3 C425.3,1579.0 423.9,1586.5 423.5,1594.0 C423.1,1601.5 425.4,1609.5 423.5,1616.5 C421.6,1623.5 414.1,1628.7 412.2,1635.7 C410.3,1642.7 411.9,1650.8 412.2,1658.3 C412.5,1665.8 414.8,1673.5 413.9,1680.9 C413.0,1688.3 409.3,1695.2 407.0,1702.6 C404.7,1709.9 402.0,1717.9 400.0,1725.0 C398.0,1732.1 397.4,1738.7 394.8,1745.2 C392.2,1751.8 388.4,1758.2 384.3,1764.3 C380.2,1770.4 374.9,1776.0 370.0,1782.0 C365.1,1788.0 360.3,1794.0 355.0,1800.0 C349.7,1806.0 344.2,1811.3 338.0,1818.0 C331.8,1824.7 324.0,1831.7 318.0,1840.0 C312.0,1848.3 305.3,1859.7 302.0,1868.0 C298.7,1876.3 298.7,1886.3 298.0,1890.0" fill="none" stroke="#dc1a10" stroke-width="8" stroke-linecap="round" stroke-dasharray="0 22"/>
<path d="M321.0,1140.0 C321.4,1144.9 322.0,1159.6 323.5,1169.6 C325.0,1179.6 327.7,1191.3 330.0,1200.0 C332.3,1208.7 334.7,1213.7 337.4,1221.7 C340.1,1229.7 343.4,1239.1 346.0,1247.8 C348.6,1256.5 350.9,1263.8 353.0,1274.0 C355.1,1284.2 356.6,1298.6 358.3,1308.7 C360.1,1318.8 362.2,1324.7 363.5,1334.8 C364.8,1344.9 364.0,1361.2 366.0,1369.6 C368.0,1378.0 374.7,1379.5 375.7,1385.0 C376.7,1390.5 371.9,1395.0 372.2,1402.6 C372.5,1410.2 375.9,1422.0 377.4,1430.4 C378.8,1438.8 379.8,1445.2 380.9,1453.0 C382.0,1460.8 382.9,1471.6 384.3,1477.4 C385.8,1483.2 388.6,1481.7 389.6,1487.8 C390.6,1493.9 390.1,1506.8 390.4,1514.0 C390.7,1521.2 391.7,1525.5 391.3,1531.3 C390.9,1537.1 387.2,1541.5 387.8,1548.7 C388.4,1556.0 393.5,1566.7 394.8,1574.8 C396.1,1582.9 396.0,1590.7 395.7,1597.4 C395.4,1604.1 391.4,1609.3 393.0,1614.8 C394.6,1620.3 403.2,1624.6 405.2,1630.4 C407.2,1636.2 406.9,1641.8 405.2,1649.6 C403.5,1657.4 395.9,1668.7 394.8,1677.4 C393.7,1686.1 396.9,1695.6 398.3,1701.7 C399.8,1707.8 403.2,1709.1 403.5,1714.0 C403.8,1718.9 399.7,1724.6 400.0,1731.3 C400.3,1738.0 404.0,1744.4 405.2,1754.0 C406.4,1763.6 407.6,1780.9 407.0,1788.7 C406.4,1796.5 403.7,1796.0 401.7,1800.9 C399.7,1805.8 396.2,1813.1 394.8,1818.3 C393.4,1823.5 397.3,1822.2 393.3,1832.0 C389.3,1841.8 377.7,1866.8 370.8,1877.0 C363.9,1887.2 355.1,1890.3 352.0,1893.0" fill="none" stroke="#2040f0" stroke-width="6.5" stroke-linecap="round" stroke-linejoin="round"/>
<path d="M323.0,1150.0 C324.5,1158.3 328.3,1185.0 332.0,1200.0 C335.7,1215.0 341.0,1228.3 345.0,1240.0 C349.0,1251.7 352.5,1258.3 356.0,1270.0 C359.5,1281.7 362.7,1297.5 366.0,1310.0 C369.3,1322.5 372.7,1330.4 376.0,1345.0 C379.3,1359.6 383.6,1385.1 386.0,1397.4 C388.4,1409.7 388.8,1411.6 390.4,1419.0 C392.0,1426.4 394.1,1434.2 395.7,1441.7 C397.3,1449.2 398.0,1456.9 400.0,1464.3 C402.0,1471.7 406.1,1478.6 407.8,1486.0 C409.5,1493.4 409.2,1501.0 410.4,1508.7 C411.6,1516.4 413.6,1524.2 414.8,1532.0 C416.0,1539.8 416.4,1548.0 417.4,1555.7 C418.4,1563.4 420.2,1570.8 420.9,1578.3 C421.6,1585.8 421.0,1593.5 421.7,1600.9 C422.4,1608.3 423.6,1615.6 425.2,1622.6 C426.8,1629.5 431.0,1635.6 431.3,1642.6 C431.6,1649.5 428.9,1657.1 427.0,1664.3 C425.1,1671.5 422.2,1676.7 420.0,1686.0 C417.8,1695.3 415.9,1709.0 414.0,1720.0 C412.1,1731.0 410.2,1742.8 408.7,1752.0 C407.2,1761.2 406.2,1767.7 405.0,1775.0 C403.8,1782.3 403.4,1788.8 401.7,1795.7 C400.0,1802.6 397.6,1808.3 394.8,1816.5 C392.0,1824.7 389.5,1834.8 385.0,1845.0 C380.5,1855.2 373.3,1870.0 368.0,1878.0 C362.7,1886.0 355.5,1890.5 353.0,1893.0" fill="none" stroke="#2040f0" stroke-width="7" stroke-linecap="round" stroke-dasharray="0 22"/>
<line x1="116" y1="1115" x2="529" y2="1115" stroke="#000" stroke-width="6"/>
<line x1="116" y1="1896" x2="529" y2="1896" stroke="#000" stroke-width="6"/>
<line x1="116" y1="1112" x2="116" y2="1899" stroke="#000" stroke-width="6"/>
<line x1="529" y1="1112" x2="529" y2="1899" stroke="#000" stroke-width="5"/>
<line x1="104" y1="1201.8" x2="116" y2="1201.8" stroke="#000" stroke-width="5"/>
<text x="96" y="1209.8" font-size="23" text-anchor="end" textLength="39" lengthAdjust="spacingAndGlyphs">80N</text>
<line x1="104" y1="1375.3" x2="116" y2="1375.3" stroke="#000" stroke-width="5"/>
<text x="96" y="1383.3" font-size="23" text-anchor="end" textLength="39" lengthAdjust="spacingAndGlyphs">60N</text>
<line x1="104" y1="1548.9" x2="116" y2="1548.9" stroke="#000" stroke-width="5"/>
<text x="96" y="1556.9" font-size="23" text-anchor="end" textLength="39" lengthAdjust="spacingAndGlyphs">40N</text>
<line x1="104" y1="1722.4" x2="116" y2="1722.4" stroke="#000" stroke-width="5"/>
<text x="96" y="1730.4" font-size="23" text-anchor="end" textLength="39" lengthAdjust="spacingAndGlyphs">20N</text>
<line x1="104" y1="1896" x2="116" y2="1896" stroke="#000" stroke-width="5"/>
<text x="96" y="1904" font-size="23" text-anchor="end" textLength="29" lengthAdjust="spacingAndGlyphs">EQ</text>
<line x1="143.6" y1="1896" x2="143.6" y2="1908" stroke="#000" stroke-width="5"/>
<text x="143.6" y="1953" text-anchor="middle" font-size="41" font-weight="bold" textLength="44" lengthAdjust="spacingAndGlyphs">−6</text>
<line x1="202.9" y1="1896" x2="202.9" y2="1908" stroke="#000" stroke-width="5"/>
<text x="202.9" y="1953" text-anchor="middle" font-size="41" font-weight="bold" textLength="44" lengthAdjust="spacingAndGlyphs">−4</text>
<line x1="262.2" y1="1896" x2="262.2" y2="1908" stroke="#000" stroke-width="5"/>
<text x="262.2" y="1953" text-anchor="middle" font-size="41" font-weight="bold" textLength="44" lengthAdjust="spacingAndGlyphs">−2</text>
<line x1="321.5" y1="1896" x2="321.5" y2="1908" stroke="#000" stroke-width="5"/>
<text x="321.5" y="1953" text-anchor="middle" font-size="41" font-weight="bold" textLength="19" lengthAdjust="spacingAndGlyphs">0</text>
<line x1="380.8" y1="1896" x2="380.8" y2="1908" stroke="#000" stroke-width="5"/>
<text x="380.8" y="1953" text-anchor="middle" font-size="41" font-weight="bold" textLength="19" lengthAdjust="spacingAndGlyphs">2</text>
<line x1="440.1" y1="1896" x2="440.1" y2="1908" stroke="#000" stroke-width="5"/>
<text x="440.1" y="1953" text-anchor="middle" font-size="41" font-weight="bold" textLength="19" lengthAdjust="spacingAndGlyphs">4</text>
<line x1="499.4" y1="1896" x2="499.4" y2="1908" stroke="#000" stroke-width="5"/>
<text x="499.4" y="1953" text-anchor="middle" font-size="41" font-weight="bold" textLength="19" lengthAdjust="spacingAndGlyphs">6</text>
</g>
<g id="chartd">
<line x1="552" y1="1809.2" x2="955" y2="1809.2" stroke="#9a9a9a" stroke-width="1.6" stroke-dasharray="4 16.6"/>
<line x1="552" y1="1722.4" x2="955" y2="1722.4" stroke="#9a9a9a" stroke-width="1.6" stroke-dasharray="4 16.6"/>
<line x1="552" y1="1635.7" x2="955" y2="1635.7" stroke="#9a9a9a" stroke-width="1.6" stroke-dasharray="4 16.6"/>
<line x1="552" y1="1548.9" x2="955" y2="1548.9" stroke="#9a9a9a" stroke-width="1.6" stroke-dasharray="4 16.6"/>
<line x1="552" y1="1462.1" x2="955" y2="1462.1" stroke="#9a9a9a" stroke-width="1.6" stroke-dasharray="4 16.6"/>
<line x1="552" y1="1375.3" x2="955" y2="1375.3" stroke="#9a9a9a" stroke-width="1.6" stroke-dasharray="4 16.6"/>
<line x1="552" y1="1288.6" x2="955" y2="1288.6" stroke="#9a9a9a" stroke-width="1.6" stroke-dasharray="4 16.6"/>
<line x1="552" y1="1201.8" x2="955" y2="1201.8" stroke="#9a9a9a" stroke-width="1.6" stroke-dasharray="4 16.6"/>
<line x1="603.1" y1="1120" x2="603.1" y2="1893" stroke="#333" stroke-width="2.2" stroke-dasharray="4 19.4" stroke-dashoffset="-2"/>
<line x1="657.9" y1="1120" x2="657.9" y2="1893" stroke="#000" stroke-width="2.2" stroke-dasharray="4 19.4" stroke-dashoffset="-2"/>
<line x1="712.7" y1="1120" x2="712.7" y2="1893" stroke="#333" stroke-width="2.2" stroke-dasharray="4 19.4" stroke-dashoffset="-2"/>
<line x1="822.3" y1="1120" x2="822.3" y2="1893" stroke="#333" stroke-width="2.2" stroke-dasharray="4 19.4" stroke-dashoffset="-2"/>
<line x1="877.1" y1="1120" x2="877.1" y2="1893" stroke="#000" stroke-width="2.2" stroke-dasharray="4 19.4" stroke-dashoffset="-2"/>
<line x1="931.9" y1="1120" x2="931.9" y2="1893" stroke="#333" stroke-width="2.2" stroke-dasharray="4 19.4" stroke-dashoffset="-2"/>
<line x1="767.5" y1="1115" x2="767.5" y2="1896" stroke="#000" stroke-width="1.3"/>
<line x1="560" y1="1181" x2="590" y2="1181" stroke="#d01a0a" stroke-width="9" stroke-linecap="round"/>
<text x="599" y="1192.5" font-size="30" font-weight="bold" fill="#d01a0a" textLength="66" lengthAdjust="spacingAndGlyphs">WF:SH</text>
<circle cx="564.0" cy="1221" r="4.6" fill="#d01a0a"/>
<circle cx="586.0" cy="1221" r="4.6" fill="#d01a0a"/>
<text x="599" y="1231.5" font-size="30" font-weight="bold" fill="#d01a0a" textLength="25" lengthAdjust="spacingAndGlyphs">NF</text>
<line x1="560" y1="1259" x2="590" y2="1259" stroke="#8a14c8" stroke-width="9" stroke-linecap="round"/>
<text x="599" y="1270.5" font-size="30" font-weight="bold" fill="#8a14c8" textLength="64" lengthAdjust="spacingAndGlyphs">WF:LH</text>
<circle cx="564.0" cy="1299" r="4.6" fill="#8a14c8"/>
<circle cx="586.0" cy="1299" r="4.6" fill="#8a14c8"/>
<text x="599" y="1309.5" font-size="30" font-weight="bold" fill="#8a14c8" textLength="25" lengthAdjust="spacingAndGlyphs">NF</text>
<line x1="560" y1="1337" x2="590" y2="1337" stroke="#1e7a3a" stroke-width="9" stroke-linecap="round"/>
<text x="599" y="1348.5" font-size="30" font-weight="bold" fill="#1e7a3a" textLength="66" lengthAdjust="spacingAndGlyphs">WF:PE</text>
<circle cx="564.0" cy="1377" r="4.6" fill="#1e7a3a"/>
<circle cx="586.0" cy="1377" r="4.6" fill="#1e7a3a"/>
<text x="599" y="1387.5" font-size="30" font-weight="bold" fill="#1e7a3a" textLength="25" lengthAdjust="spacingAndGlyphs">NF</text>
<path d="M767.2,1353.0 C766.2,1357.1 763.6,1369.8 761.5,1377.5 C759.4,1385.2 756.5,1391.8 754.3,1399.0 C752.1,1406.2 750.7,1413.2 748.5,1420.7 C746.3,1428.2 743.4,1436.3 741.3,1443.7 C739.1,1451.1 737.3,1457.8 735.6,1465.3 C733.9,1472.8 731.9,1480.9 731.3,1488.6 C730.7,1496.3 731.9,1503.9 732.1,1511.6 C732.3,1519.3 732.7,1526.9 732.7,1534.6 C732.7,1542.3 732.0,1550.0 732.1,1557.7 C732.2,1565.4 731.6,1573.2 733.3,1580.7 C734.9,1588.2 738.3,1596.8 742.0,1603.0 C745.7,1609.2 751.0,1612.8 755.7,1618.0 C760.4,1623.2 765.3,1629.1 770.1,1633.9 C774.9,1638.7 779.5,1643.1 784.5,1646.8 C789.5,1650.5 794.2,1652.7 800.0,1656.0 C805.8,1659.3 813.0,1663.1 819.0,1666.4 C825.0,1669.7 830.5,1672.6 836.2,1675.6 C842.0,1678.6 847.8,1681.4 853.5,1684.2 C859.2,1687.0 865.0,1689.4 870.7,1692.2 C876.5,1695.0 882.2,1697.9 888.0,1700.9 C893.8,1703.9 899.5,1707.0 905.2,1710.0 C911.0,1713.0 917.0,1715.3 922.5,1718.7 C928.0,1722.1 934.0,1725.7 938.3,1730.2 C942.5,1734.8 945.8,1740.5 948.0,1746.0 C950.2,1751.5 953.4,1758.3 951.3,1763.3 C949.2,1768.3 941.2,1772.8 935.5,1776.2 C929.8,1779.6 922.8,1781.0 916.8,1783.4 C910.8,1785.8 905.3,1788.7 899.5,1790.6 C893.7,1792.5 888.2,1793.6 882.2,1795.0 C876.2,1796.4 869.7,1797.5 863.5,1799.2 C857.3,1800.9 850.9,1803.3 844.9,1805.0 C838.9,1806.7 833.6,1807.9 827.6,1809.3 C821.6,1810.7 815.2,1812.6 809.0,1813.6 C802.8,1814.5 796.2,1813.8 790.2,1815.0 C784.2,1816.2 779.0,1819.1 773.0,1820.8 C767.0,1822.5 760.3,1823.6 754.3,1825.0 C748.3,1826.4 743.0,1828.2 737.0,1829.4 C731.0,1830.6 724.5,1831.1 718.3,1832.3 C712.1,1833.5 705.8,1835.1 699.6,1836.6 C693.4,1838.0 687.0,1839.5 681.0,1841.0 C675.0,1842.5 669.7,1843.9 663.7,1845.3 C657.7,1846.7 651.2,1848.2 645.0,1849.6 C638.8,1851.0 632.3,1852.2 626.3,1853.9 C620.3,1855.6 614.8,1857.7 609.0,1859.6 C603.2,1861.5 597.8,1863.5 591.8,1865.4 C585.8,1867.3 578.8,1868.6 573.0,1871.0 C567.2,1873.4 559.9,1878.3 557.3,1879.8" fill="none" stroke="#1e7a3a" stroke-width="8" stroke-linecap="round" stroke-dasharray="0 20"/>
<path d="M767.2,1300.0 C767.2,1302.6 767.7,1306.9 767.2,1315.7 C766.7,1324.5 766.2,1343.0 764.3,1353.0 C762.4,1363.0 759.5,1367.8 755.7,1376.0 C751.9,1384.2 746.6,1392.9 741.3,1402.0 C736.0,1411.1 729.3,1421.1 724.0,1430.7 C718.7,1440.3 712.8,1451.3 709.7,1459.5 C706.6,1467.7 705.9,1471.8 705.4,1480.0 C704.9,1488.2 705.1,1498.2 706.8,1508.8 C708.5,1519.3 712.0,1531.8 715.4,1543.3 C718.8,1554.8 722.7,1568.2 727.0,1577.8 C731.3,1587.4 735.1,1593.6 741.3,1600.8 C747.5,1608.0 756.6,1614.3 764.3,1621.0 C772.0,1627.7 779.1,1635.7 787.3,1641.0 C795.4,1646.3 804.1,1648.3 813.2,1652.6 C822.3,1656.9 831.5,1662.2 842.0,1667.0 C852.5,1671.8 865.0,1676.0 876.5,1681.3 C888.0,1686.6 900.5,1692.4 911.0,1698.6 C921.5,1704.8 932.8,1711.5 939.8,1718.7 C946.8,1725.9 951.8,1735.5 952.7,1741.7 C953.7,1747.9 952.0,1750.2 945.5,1756.0 C939.0,1761.8 926.4,1770.4 913.9,1776.2 C901.4,1782.0 887.5,1785.8 870.7,1790.6 C853.9,1795.4 830.9,1801.2 813.2,1805.0 C795.5,1808.8 781.1,1810.3 764.3,1813.6 C747.5,1816.9 730.8,1820.7 712.6,1825.0 C694.4,1829.3 674.2,1835.2 655.0,1839.5 C635.8,1843.8 614.8,1846.8 597.5,1851.0 C580.2,1855.2 558.8,1862.2 551.0,1864.5" fill="none" stroke="#1e7a3a" stroke-width="7" stroke-linecap="round" stroke-linejoin="round"/>
<path d="M781.6,1287.0 C782.5,1290.8 785.4,1302.8 787.3,1310.0 C789.2,1317.2 790.9,1322.8 793.1,1330.0 C795.3,1337.2 797.2,1346.0 800.3,1353.0 C803.4,1360.0 808.7,1365.1 811.8,1371.8 C814.9,1378.5 815.9,1386.9 819.0,1393.4 C822.1,1399.9 827.1,1404.4 830.5,1410.6 C833.9,1416.8 836.0,1424.2 839.1,1430.7 C842.2,1437.2 846.3,1442.7 849.2,1449.4 C852.1,1456.1 855.0,1463.5 856.4,1471.0 C857.8,1478.5 857.6,1486.7 857.8,1494.4 C858.0,1502.1 857.9,1509.5 857.8,1517.4 C857.7,1525.3 857.5,1533.9 857.0,1541.8 C856.5,1549.7 856.2,1557.4 855.0,1564.8 C853.8,1572.2 852.1,1579.5 849.8,1586.4 C847.5,1593.4 845.1,1600.7 841.4,1606.5 C837.7,1612.3 834.5,1615.4 827.6,1621.0 C820.7,1626.6 810.6,1633.2 800.0,1640.0 C789.4,1646.8 776.2,1655.0 764.0,1662.0 C751.8,1669.0 739.3,1674.8 727.0,1682.0 C714.7,1689.2 699.8,1697.7 690.0,1705.0 C680.2,1712.3 673.0,1718.8 668.0,1726.0 C663.0,1733.2 661.0,1739.6 660.0,1748.0 C659.0,1756.4 659.4,1769.3 662.2,1776.2 C665.0,1783.1 671.3,1785.8 676.6,1789.2 C681.9,1792.6 687.9,1793.8 693.9,1796.4 C699.9,1799.0 706.6,1802.6 712.6,1805.0 C718.6,1807.4 724.1,1809.3 729.8,1810.7 C735.5,1812.1 740.8,1811.7 747.0,1813.6 C753.2,1815.5 761.2,1819.6 767.2,1822.2 C773.2,1824.8 777.2,1827.0 783.0,1829.4 C788.8,1831.8 795.7,1834.4 801.7,1836.6 C807.7,1838.8 813.0,1840.5 819.0,1842.4 C825.0,1844.3 831.7,1845.9 837.7,1848.1 C843.7,1850.2 849.2,1852.6 855.0,1855.3 C860.8,1858.0 866.7,1860.9 872.2,1864.0 C877.7,1867.1 882.5,1870.4 888.0,1874.0 C893.5,1877.6 902.3,1883.6 905.2,1885.5" fill="none" stroke="#d01a0a" stroke-width="8" stroke-linecap="round" stroke-dasharray="0 20"/>
<path d="M767.2,1143.0 C768.2,1147.8 771.3,1160.0 773.0,1172.0 C774.7,1184.0 776.3,1202.1 777.3,1215.0 C778.2,1227.9 777.5,1240.0 778.7,1249.6 C779.9,1259.2 782.6,1263.0 784.5,1272.6 C786.4,1282.2 786.9,1295.0 790.2,1307.0 C793.6,1319.0 799.3,1334.0 804.6,1344.5 C809.9,1355.0 817.5,1363.1 821.8,1370.3 C826.1,1377.5 826.6,1382.3 830.5,1387.6 C834.4,1392.9 840.1,1396.3 844.9,1402.0 C849.7,1407.7 854.4,1414.8 859.2,1422.0 C864.0,1429.2 869.0,1437.8 873.6,1445.0 C878.2,1452.2 884.0,1459.5 886.6,1465.3 C889.2,1471.1 888.5,1473.7 889.4,1480.0 C890.3,1486.3 892.5,1492.0 892.3,1503.0 C892.1,1514.0 891.1,1534.0 888.0,1546.0 C884.9,1558.0 880.3,1563.5 873.6,1575.0 C866.9,1586.5 857.3,1605.6 847.7,1615.2 C838.1,1624.8 825.2,1627.1 816.1,1632.4 C807.0,1637.7 801.7,1641.5 793.1,1646.8 C784.5,1652.1 775.3,1657.8 764.3,1664.0 C753.3,1670.2 739.5,1677.0 727.0,1684.2 C714.5,1691.4 699.2,1700.0 689.6,1707.2 C680.0,1714.4 674.7,1721.1 669.4,1727.3 C664.1,1733.5 659.8,1738.8 657.9,1744.6 C656.0,1750.3 655.5,1756.1 657.9,1761.8 C660.3,1767.5 665.1,1773.7 672.3,1779.0 C679.5,1784.3 690.5,1789.2 701.0,1793.5 C711.5,1797.8 724.6,1801.7 735.6,1805.0 C746.6,1808.3 756.7,1810.3 767.2,1813.6 C777.7,1816.9 786.3,1820.7 798.8,1825.0 C811.3,1829.3 828.1,1834.7 842.0,1839.5 C855.9,1844.3 870.7,1848.6 882.2,1853.9 C893.7,1859.2 901.9,1864.9 911.0,1871.1 C920.1,1877.3 932.6,1887.7 936.9,1891.0" fill="none" stroke="#d01a0a" stroke-width="7" stroke-linecap="round" stroke-linejoin="round"/>
<path d="M767.0,1200.0 C767.5,1210.0 768.5,1241.7 770.0,1260.0 C771.5,1278.3 773.3,1291.7 776.0,1310.0 C778.7,1328.3 782.8,1350.0 786.0,1370.0 C789.2,1390.0 791.9,1409.8 795.0,1430.0 C798.1,1450.2 802.5,1477.4 804.6,1491.5 C806.7,1505.6 806.5,1506.6 807.5,1514.5 C808.5,1522.4 809.7,1531.1 810.3,1539.0 C810.9,1546.9 810.8,1554.1 810.9,1562.0 C811.0,1569.9 811.1,1578.5 810.9,1586.4 C810.7,1594.3 810.6,1602.0 809.8,1609.4 C809.0,1616.8 807.6,1623.6 806.0,1631.0 C804.4,1638.4 802.4,1646.6 800.3,1654.0 C798.1,1661.4 796.0,1668.9 793.1,1675.6 C790.2,1682.3 786.6,1688.1 783.0,1694.3 C779.4,1700.5 775.1,1706.5 771.5,1713.0 C767.9,1719.5 764.4,1726.0 761.5,1733.0 C758.6,1740.0 755.5,1747.2 754.3,1754.7 C753.1,1762.2 752.9,1770.5 754.3,1777.7 C755.7,1784.9 759.8,1791.8 762.9,1797.8 C766.0,1803.8 767.6,1807.4 773.0,1813.6 C778.4,1819.8 788.0,1827.6 795.0,1835.0 C802.0,1842.4 809.6,1850.5 815.0,1858.0 C820.4,1865.5 825.5,1876.2 827.6,1879.8" fill="none" stroke="#8a14c8" stroke-width="8" stroke-linecap="round" stroke-dasharray="0 20"/>
<path d="M767.2,1127.3 C767.0,1137.1 765.8,1166.9 765.8,1186.3 C765.8,1205.7 766.5,1227.0 767.2,1243.8 C767.9,1260.6 768.9,1272.6 770.1,1287.0 C771.3,1301.4 772.5,1315.6 774.4,1330.0 C776.3,1344.4 779.0,1358.8 781.6,1373.2 C784.2,1387.6 787.3,1402.0 790.2,1416.4 C793.1,1430.8 795.9,1447.2 798.8,1459.5 C801.7,1471.8 804.6,1479.4 807.5,1490.0 C810.4,1500.6 814.0,1510.3 816.1,1523.0 C818.2,1535.7 820.4,1551.9 820.4,1566.3 C820.4,1580.7 818.2,1596.0 816.1,1609.4 C814.0,1622.8 811.3,1633.9 807.5,1646.8 C803.7,1659.7 798.4,1675.0 793.1,1687.0 C787.8,1699.0 780.1,1709.1 775.8,1718.7 C771.5,1728.3 768.9,1734.0 767.2,1744.6 C765.5,1755.1 764.8,1771.9 765.8,1782.0 C766.8,1792.1 768.5,1797.8 773.0,1805.0 C777.5,1812.2 785.9,1817.8 793.1,1825.0 C800.3,1832.2 809.4,1840.3 816.1,1848.0 C822.8,1855.7 828.9,1863.8 833.4,1871.0 C837.9,1878.2 841.7,1887.9 843.4,1891.3" fill="none" stroke="#8a14c8" stroke-width="7" stroke-linecap="round" stroke-linejoin="round"/>
<line x1="548" y1="1115" x2="959" y2="1115" stroke="#000" stroke-width="6"/>
<line x1="548" y1="1896" x2="959" y2="1896" stroke="#000" stroke-width="6"/>
<line x1="548" y1="1112" x2="548" y2="1899" stroke="#000" stroke-width="6"/>
<line x1="959" y1="1112" x2="959" y2="1899" stroke="#000" stroke-width="5"/>
<line x1="959" y1="1201.8" x2="970" y2="1201.8" stroke="#000" stroke-width="5"/>
<line x1="537" y1="1201.8" x2="548" y2="1201.8" stroke="#000" stroke-width="5"/>
<line x1="959" y1="1375.3" x2="970" y2="1375.3" stroke="#000" stroke-width="5"/>
<line x1="537" y1="1375.3" x2="548" y2="1375.3" stroke="#000" stroke-width="5"/>
<line x1="959" y1="1548.9" x2="970" y2="1548.9" stroke="#000" stroke-width="5"/>
<line x1="537" y1="1548.9" x2="548" y2="1548.9" stroke="#000" stroke-width="5"/>
<line x1="959" y1="1722.4" x2="970" y2="1722.4" stroke="#000" stroke-width="5"/>
<line x1="537" y1="1722.4" x2="548" y2="1722.4" stroke="#000" stroke-width="5"/>
<line x1="959" y1="1896.0" x2="970" y2="1896.0" stroke="#000" stroke-width="5"/>
<line x1="537" y1="1896.0" x2="548" y2="1896.0" stroke="#000" stroke-width="5"/>
<line x1="548.3" y1="1896" x2="548.3" y2="1908" stroke="#000" stroke-width="5"/>
<text x="548.3" y="1953" text-anchor="middle" font-size="41" font-weight="bold" textLength="44" lengthAdjust="spacingAndGlyphs">−8</text>
<line x1="657.9" y1="1896" x2="657.9" y2="1908" stroke="#000" stroke-width="5"/>
<text x="657.9" y="1953" text-anchor="middle" font-size="41" font-weight="bold" textLength="44" lengthAdjust="spacingAndGlyphs">−4</text>
<line x1="767.5" y1="1896" x2="767.5" y2="1908" stroke="#000" stroke-width="5"/>
<text x="767.5" y="1953" text-anchor="middle" font-size="41" font-weight="bold" textLength="19" lengthAdjust="spacingAndGlyphs">0</text>
<line x1="877.1" y1="1896" x2="877.1" y2="1908" stroke="#000" stroke-width="5"/>
<text x="877.1" y="1953" text-anchor="middle" font-size="41" font-weight="bold" textLength="19" lengthAdjust="spacingAndGlyphs">4</text>
</g>
<g id="charte">
<line x1="981" y1="1809.2" x2="1385" y2="1809.2" stroke="#9a9a9a" stroke-width="1.6" stroke-dasharray="4 16.6"/>
<line x1="981" y1="1722.4" x2="1385" y2="1722.4" stroke="#9a9a9a" stroke-width="1.6" stroke-dasharray="4 16.6"/>
<line x1="981" y1="1635.7" x2="1385" y2="1635.7" stroke="#9a9a9a" stroke-width="1.6" stroke-dasharray="4 16.6"/>
<line x1="981" y1="1548.9" x2="1385" y2="1548.9" stroke="#9a9a9a" stroke-width="1.6" stroke-dasharray="4 16.6"/>
<line x1="981" y1="1462.1" x2="1385" y2="1462.1" stroke="#9a9a9a" stroke-width="1.6" stroke-dasharray="4 16.6"/>
<line x1="981" y1="1375.3" x2="1385" y2="1375.3" stroke="#9a9a9a" stroke-width="1.6" stroke-dasharray="4 16.6"/>
<line x1="981" y1="1288.6" x2="1385" y2="1288.6" stroke="#9a9a9a" stroke-width="1.6" stroke-dasharray="4 16.6"/>
<line x1="981" y1="1201.8" x2="1385" y2="1201.8" stroke="#9a9a9a" stroke-width="1.6" stroke-dasharray="4 16.6"/>
<line x1="1068.6" y1="1120" x2="1068.6" y2="1893" stroke="#000" stroke-width="2.2" stroke-dasharray="4 19.4" stroke-dashoffset="-2"/>
<line x1="1251.4" y1="1120" x2="1251.4" y2="1893" stroke="#000" stroke-width="2.2" stroke-dasharray="4 19.4" stroke-dashoffset="-2"/>
<line x1="1342.8" y1="1120" x2="1342.8" y2="1893" stroke="#000" stroke-width="2.2" stroke-dasharray="4 19.4" stroke-dashoffset="-2"/>
<line x1="1160.0" y1="1115" x2="1160.0" y2="1896" stroke="#000" stroke-width="1.3"/>
<line x1="989" y1="1179" x2="1017" y2="1179" stroke="#1e7a3a" stroke-width="9" stroke-linecap="round"/>
<text x="1028" y="1190.5" font-size="30" font-weight="bold" fill="#1e7a3a" textLength="69" lengthAdjust="spacingAndGlyphs">WF:zm</text>
<circle cx="993.0" cy="1219" r="4.6" fill="#1e7a3a"/>
<circle cx="1013.0" cy="1219" r="4.6" fill="#1e7a3a"/>
<text x="1028" y="1229.5" font-size="30" font-weight="bold" fill="#1e7a3a" textLength="25" lengthAdjust="spacingAndGlyphs">NF</text>
<line x1="989" y1="1257" x2="1017" y2="1257" stroke="#8a14c8" stroke-width="9" stroke-linecap="round"/>
<text x="1028" y="1268.5" font-size="30" font-weight="bold" fill="#8a14c8" textLength="80" lengthAdjust="spacingAndGlyphs">WF:stat</text>
<circle cx="993.0" cy="1297" r="4.6" fill="#8a14c8"/>
<circle cx="1013.0" cy="1297" r="4.6" fill="#8a14c8"/>
<text x="1028" y="1307.5" font-size="30" font-weight="bold" fill="#8a14c8" textLength="25" lengthAdjust="spacingAndGlyphs">NF</text>
<line x1="989" y1="1336" x2="1017" y2="1336" stroke="#d01a0a" stroke-width="9" stroke-linecap="round"/>
<text x="1028" y="1347.5" font-size="30" font-weight="bold" fill="#d01a0a" textLength="81" lengthAdjust="spacingAndGlyphs">WF:tran</text>
<circle cx="993.0" cy="1376" r="4.6" fill="#d01a0a"/>
<circle cx="1013.0" cy="1376" r="4.6" fill="#d01a0a"/>
<text x="1028" y="1386.5" font-size="30" font-weight="bold" fill="#d01a0a" textLength="25" lengthAdjust="spacingAndGlyphs">NF</text>
<path d="M1135.4,1301.3 C1135.6,1305.6 1136.8,1319.5 1136.8,1327.2 C1136.8,1334.9 1134.0,1340.6 1135.4,1347.3 C1136.8,1354.0 1144.0,1360.8 1145.4,1367.5 C1146.8,1374.2 1141.6,1381.8 1144.0,1387.6 C1146.4,1393.3 1155.7,1396.3 1159.8,1402.0 C1163.9,1407.7 1165.0,1415.3 1168.4,1422.0 C1171.8,1428.7 1176.4,1436.0 1180.0,1442.2 C1183.6,1448.5 1187.1,1452.8 1190.0,1459.5 C1192.9,1466.2 1194.6,1475.2 1197.2,1482.5 C1199.8,1489.8 1203.7,1496.0 1205.8,1503.0 C1207.9,1510.0 1207.9,1517.4 1210.1,1524.6 C1212.3,1531.8 1216.6,1539.0 1218.8,1546.2 C1221.0,1553.4 1222.9,1560.3 1223.1,1567.7 C1223.3,1575.1 1223.2,1582.8 1220.2,1590.7 C1217.2,1598.6 1211.7,1608.1 1205.0,1615.0 C1198.3,1621.9 1188.5,1626.8 1180.0,1632.0 C1171.5,1637.2 1165.2,1640.0 1154.0,1646.0 C1142.8,1652.0 1127.0,1660.7 1113.0,1668.0 C1099.0,1675.3 1086.3,1682.7 1070.0,1690.0 C1053.7,1697.3 1028.5,1705.3 1015.0,1712.0 C1001.5,1718.7 995.2,1724.0 989.0,1730.0 C982.8,1736.0 978.5,1742.0 978.0,1748.0 C977.5,1754.0 981.5,1761.0 986.0,1766.0 C990.5,1771.0 996.0,1773.3 1005.0,1778.0 C1014.0,1782.7 1026.7,1789.7 1040.0,1794.0 C1053.3,1798.3 1065.5,1800.0 1085.0,1804.0 C1104.5,1808.0 1133.0,1813.0 1157.0,1818.0 C1181.0,1823.0 1204.8,1828.7 1228.8,1834.0 C1252.8,1839.3 1278.7,1843.6 1300.7,1850.0 C1322.8,1856.4 1347.9,1867.6 1361.1,1872.6 C1374.3,1877.6 1376.7,1878.6 1379.8,1879.8" fill="none" stroke="#1e7a3a" stroke-width="8" stroke-linecap="round" stroke-dasharray="0 20"/>
<path d="M1159.8,1186.3 C1159.3,1191.1 1158.9,1206.4 1157.0,1215.0 C1155.1,1223.6 1150.2,1228.4 1148.3,1238.0 C1146.4,1247.6 1147.1,1263.0 1145.4,1272.6 C1143.7,1282.2 1139.4,1287.0 1138.2,1295.6 C1137.0,1304.2 1137.7,1314.7 1138.2,1324.3 C1138.7,1333.9 1138.9,1345.8 1141.1,1353.0 C1143.3,1360.2 1149.0,1361.7 1151.2,1367.5 C1153.4,1373.3 1150.7,1381.8 1154.0,1387.6 C1157.3,1393.3 1165.5,1396.3 1171.3,1402.0 C1177.1,1407.7 1182.8,1415.3 1188.6,1422.0 C1194.3,1428.7 1201.0,1435.5 1205.8,1442.2 C1210.6,1448.9 1214.4,1455.7 1217.3,1462.4 C1220.2,1469.1 1220.7,1475.7 1223.1,1482.5 C1225.5,1489.3 1229.3,1494.3 1231.7,1503.0 C1234.1,1511.7 1236.1,1526.9 1237.5,1534.6 C1238.9,1542.3 1241.3,1541.3 1240.3,1549.0 C1239.3,1556.7 1236.0,1570.2 1231.7,1580.7 C1227.4,1591.2 1223.6,1604.2 1214.5,1612.3 C1205.4,1620.4 1187.2,1624.8 1177.1,1629.6 C1167.0,1634.4 1164.5,1635.3 1154.0,1641.0 C1143.5,1646.7 1127.7,1656.8 1113.8,1664.0 C1099.9,1671.2 1087.5,1677.0 1070.7,1684.2 C1053.9,1691.4 1027.0,1700.5 1013.1,1707.2 C999.2,1713.9 993.5,1718.3 987.3,1724.5 C981.1,1730.7 977.0,1738.8 976.0,1744.6 C975.0,1750.3 977.2,1754.2 981.5,1759.0 C985.8,1763.8 992.0,1768.1 1001.6,1773.4 C1011.2,1778.7 1025.1,1786.3 1039.0,1790.6 C1052.9,1794.9 1065.3,1795.4 1085.0,1799.2 C1104.7,1803.0 1133.0,1808.8 1157.0,1813.6 C1181.0,1818.4 1204.8,1823.2 1228.8,1828.0 C1252.8,1832.8 1279.1,1838.1 1300.7,1842.4 C1322.3,1846.7 1344.1,1850.1 1358.3,1853.9 C1372.5,1857.7 1381.4,1863.2 1386.0,1865.0" fill="none" stroke="#1e7a3a" stroke-width="7" stroke-linecap="round" stroke-linejoin="round"/>
<path d="M1162.0,1180.0 C1163.7,1188.3 1167.6,1214.6 1172.0,1230.0 C1176.4,1245.4 1183.0,1259.8 1188.6,1272.6 C1194.2,1285.4 1201.0,1297.4 1205.8,1307.0 C1210.6,1316.6 1213.9,1322.8 1217.3,1330.0 C1220.7,1337.2 1223.2,1343.3 1225.9,1350.0 C1228.6,1356.7 1231.0,1363.1 1233.2,1370.3 C1235.4,1377.5 1237.1,1385.7 1239.0,1393.4 C1240.9,1401.1 1243.0,1408.7 1244.7,1416.4 C1246.4,1424.1 1247.8,1431.7 1249.0,1439.4 C1250.2,1447.1 1251.1,1454.7 1251.8,1462.4 C1252.5,1470.1 1253.3,1477.5 1253.3,1485.4 C1253.3,1493.3 1252.9,1501.7 1252.0,1510.0 C1251.1,1518.3 1250.0,1527.5 1248.0,1535.0 C1246.0,1542.5 1242.5,1548.3 1240.0,1555.0 C1237.5,1561.7 1235.5,1568.3 1233.0,1575.0 C1230.5,1581.7 1227.7,1587.8 1225.0,1595.0 C1222.3,1602.2 1221.2,1609.7 1217.0,1618.0 C1212.8,1626.3 1205.3,1636.3 1200.0,1645.0 C1194.7,1653.7 1189.2,1661.7 1185.0,1670.0 C1180.8,1678.3 1178.0,1686.7 1175.0,1695.0 C1172.0,1703.3 1169.2,1711.7 1167.0,1720.0 C1164.8,1728.3 1163.3,1736.7 1162.0,1745.0 C1160.7,1753.3 1159.5,1765.8 1159.0,1770.0" fill="none" stroke="#d01a0a" stroke-width="8" stroke-linecap="round" stroke-dasharray="0 20"/>
<path d="M1159.8,1126.0 C1160.3,1131.2 1160.8,1146.0 1162.7,1157.5 C1164.6,1169.0 1168.0,1182.5 1171.3,1195.0 C1174.6,1207.5 1178.5,1219.4 1182.8,1232.3 C1187.1,1245.2 1191.9,1260.1 1197.2,1272.6 C1202.5,1285.0 1208.8,1295.0 1214.5,1307.0 C1220.2,1319.0 1226.5,1333.0 1231.7,1344.5 C1237.0,1356.0 1241.2,1365.0 1246.0,1376.0 C1250.8,1387.0 1255.9,1399.1 1260.5,1410.6 C1265.1,1422.1 1270.1,1433.5 1273.4,1445.0 C1276.8,1456.5 1279.2,1469.0 1280.6,1479.6 C1282.0,1490.2 1282.5,1499.1 1282.0,1508.8 C1281.5,1518.5 1280.8,1527.9 1277.7,1537.5 C1274.6,1547.1 1268.7,1556.7 1263.4,1566.3 C1258.1,1575.9 1252.8,1586.4 1246.1,1595.0 C1239.4,1603.6 1230.8,1609.4 1223.1,1618.0 C1215.4,1626.6 1206.8,1637.2 1200.1,1646.8 C1193.4,1656.4 1187.6,1666.0 1182.8,1675.6 C1178.0,1685.2 1174.4,1694.7 1171.3,1704.3 C1168.2,1713.9 1166.0,1723.4 1164.1,1733.0 C1162.2,1742.6 1161.0,1751.2 1159.8,1761.8 C1158.6,1772.4 1157.7,1783.5 1157.0,1796.4 C1156.3,1809.4 1155.6,1823.4 1155.5,1839.5 C1155.4,1855.6 1156.2,1884.1 1156.4,1893.0" fill="none" stroke="#d01a0a" stroke-width="7" stroke-linecap="round" stroke-linejoin="round"/>
<path d="M1159.8,1243.8 C1160.8,1254.3 1163.7,1290.2 1165.6,1307.0 C1167.5,1323.8 1169.6,1333.5 1171.3,1344.5 C1173.0,1355.5 1173.9,1364.6 1175.6,1373.2 C1177.3,1381.8 1180.2,1389.5 1181.4,1396.2 C1182.6,1402.9 1182.6,1406.8 1182.8,1413.5 C1183.0,1420.2 1183.0,1428.8 1182.8,1436.5 C1182.6,1444.2 1182.7,1450.6 1181.4,1459.5 C1180.1,1468.4 1177.2,1479.9 1175.0,1490.0 C1172.8,1500.1 1170.2,1508.3 1168.0,1520.0 C1165.8,1531.7 1163.3,1546.7 1162.0,1560.0 C1160.7,1573.3 1160.5,1586.7 1160.0,1600.0 C1159.5,1613.3 1159.2,1626.7 1159.0,1640.0 C1158.8,1653.3 1159.0,1666.7 1159.0,1680.0 C1159.0,1693.3 1159.0,1706.7 1159.0,1720.0 C1159.0,1733.3 1159.0,1753.3 1159.0,1760.0" fill="none" stroke="#8a14c8" stroke-width="8" stroke-linecap="round" stroke-dasharray="0 20"/>
<path d="M1158.4,1128.8 C1158.4,1143.2 1157.7,1191.0 1158.4,1215.0 C1159.1,1239.0 1160.6,1253.4 1162.7,1272.6 C1164.8,1291.8 1168.4,1313.2 1171.3,1330.0 C1174.2,1346.8 1177.1,1358.8 1180.0,1373.2 C1182.9,1387.6 1186.9,1404.4 1188.6,1416.4 C1190.3,1428.4 1191.0,1435.4 1190.0,1445.0 C1189.0,1454.6 1185.5,1464.8 1182.8,1474.0 C1180.1,1483.2 1176.4,1491.8 1174.0,1500.0 C1171.6,1508.2 1170.3,1512.0 1168.4,1523.0 C1166.5,1534.0 1162.7,1551.9 1162.7,1566.3 C1162.7,1580.7 1167.5,1595.0 1168.4,1609.4 C1169.4,1623.8 1168.9,1638.2 1168.4,1652.6 C1167.9,1667.0 1166.8,1681.3 1165.6,1695.7 C1164.4,1710.1 1162.0,1722.0 1161.3,1738.8 C1160.6,1755.6 1161.5,1770.7 1161.3,1796.4 C1161.0,1822.1 1160.0,1876.9 1159.8,1893.0" fill="none" stroke="#8a14c8" stroke-width="6.5" stroke-linecap="round" stroke-linejoin="round"/>
<line x1="977" y1="1115" x2="1389" y2="1115" stroke="#000" stroke-width="2"/>
<line x1="977" y1="1896" x2="1389" y2="1896" stroke="#000" stroke-width="6"/>
<line x1="977" y1="1112" x2="977" y2="1899" stroke="#000" stroke-width="6"/>
<line x1="1389" y1="1112" x2="1389" y2="1899" stroke="#000" stroke-width="5"/>
<rect x="977" y="1110" width="20" height="6" fill="#000"/>
<line x1="1389" y1="1201.8" x2="1401" y2="1201.8" stroke="#000" stroke-width="5"/>
<line x1="966" y1="1201.8" x2="977" y2="1201.8" stroke="#000" stroke-width="5"/>
<text x="1412" y="1209.8" font-size="23" textLength="39" lengthAdjust="spacingAndGlyphs">80N</text>
<line x1="1389" y1="1375.3" x2="1401" y2="1375.3" stroke="#000" stroke-width="5"/>
<line x1="966" y1="1375.3" x2="977" y2="1375.3" stroke="#000" stroke-width="5"/>
<text x="1412" y="1383.3" font-size="23" textLength="39" lengthAdjust="spacingAndGlyphs">60N</text>
<line x1="1389" y1="1548.9" x2="1401" y2="1548.9" stroke="#000" stroke-width="5"/>
<line x1="966" y1="1548.9" x2="977" y2="1548.9" stroke="#000" stroke-width="5"/>
<text x="1412" y="1556.9" font-size="23" textLength="39" lengthAdjust="spacingAndGlyphs">40N</text>
<line x1="1389" y1="1722.4" x2="1401" y2="1722.4" stroke="#000" stroke-width="5"/>
<line x1="966" y1="1722.4" x2="977" y2="1722.4" stroke="#000" stroke-width="5"/>
<text x="1412" y="1730.4" font-size="23" textLength="39" lengthAdjust="spacingAndGlyphs">20N</text>
<line x1="1389" y1="1896" x2="1401" y2="1896" stroke="#000" stroke-width="5"/>
<text x="1417" y="1900" font-size="23" textLength="29" lengthAdjust="spacingAndGlyphs">EQ</text>
<line x1="977.2" y1="1896" x2="977.2" y2="1908" stroke="#000" stroke-width="5"/>
<text x="977.2" y="1953" text-anchor="middle" font-size="41" font-weight="bold" textLength="44" lengthAdjust="spacingAndGlyphs">−4</text>
<line x1="1068.6" y1="1896" x2="1068.6" y2="1908" stroke="#000" stroke-width="5"/>
<text x="1068.6" y="1953" text-anchor="middle" font-size="41" font-weight="bold" textLength="44" lengthAdjust="spacingAndGlyphs">−2</text>
<line x1="1160.0" y1="1896" x2="1160.0" y2="1908" stroke="#000" stroke-width="5"/>
<text x="1160.0" y="1953" text-anchor="middle" font-size="41" font-weight="bold" textLength="19" lengthAdjust="spacingAndGlyphs">0</text>
<line x1="1251.4" y1="1896" x2="1251.4" y2="1908" stroke="#000" stroke-width="5"/>
<text x="1251.4" y="1953" text-anchor="middle" font-size="41" font-weight="bold" textLength="19" lengthAdjust="spacingAndGlyphs">2</text>
<line x1="1342.8" y1="1896" x2="1342.8" y2="1908" stroke="#000" stroke-width="5"/>
<text x="1342.8" y="1953" text-anchor="middle" font-size="41" font-weight="bold" textLength="19" lengthAdjust="spacingAndGlyphs">4</text>
</g>
</svg>
</body></html>
